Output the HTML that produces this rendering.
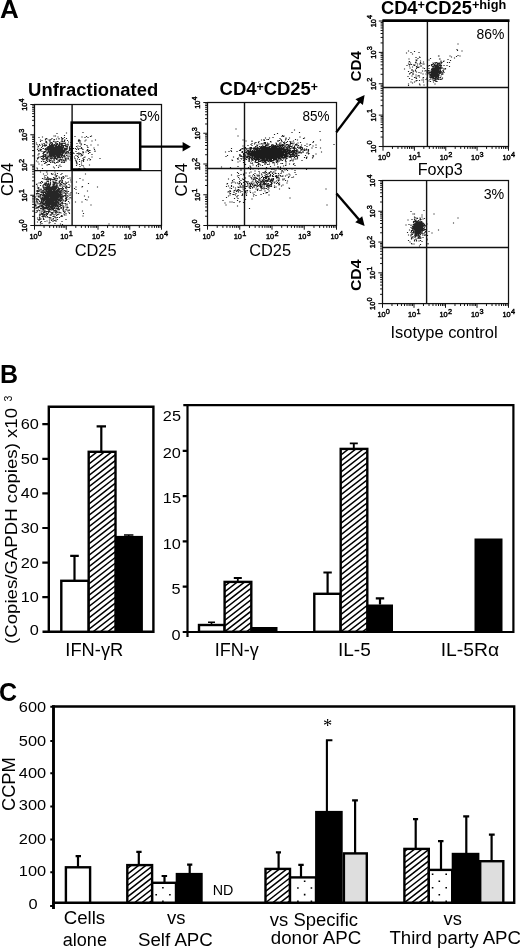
<!DOCTYPE html>
<html lang="en"><head><meta charset="utf-8"><title>Figure</title>
<style>html,body{margin:0;padding:0;background:#fff;overflow:hidden}svg{display:block}text{font-family:'Liberation Sans', 'DejaVu Sans', sans-serif;fill:#000}</style></head><body>
<svg width="520" height="949" viewBox="0 0 520 949">
<rect width="520" height="949" fill="#fff"/>
<text x="0" y="17.9" font-size="26" font-weight="bold">A</text>
<text x="0" y="382.7" font-size="25" font-weight="bold">B</text>
<text x="-1" y="700.5" font-size="25" font-weight="bold">C</text>
<path d="M55.42 152.5h1.15M55.42 150.5h1.15M52.42 151h1.15M60.42 152h1.15M60.42 151.5h1.15M57.92 151.5h1.15M49.92 154.5h1.15M58.42 152.5h1.15M49.42 147h1.15M52.92 150.5h1.15M57.42 151h1.15M58.42 149h1.15M57.42 152h1.15M53.42 156h1.15M58.42 154.5h1.15M53.92 149.5h1.15M54.92 151h1.15M58.92 151.5h1.15M54.42 148.5h1.15M54.42 155h1.15M52.92 152h1.15M57.92 147h1.15M56.42 155h1.15M48.42 151h1.15M55.92 149h1.15M57.92 151h1.15M50.42 154h1.15M58.92 153.5h1.15M61.92 151.5h1.15M56.92 147.5h1.15M58.42 149h1.15M54.42 148h1.15M52.42 150h1.15M61.42 145h1.15M50.42 152.5h1.15M61.92 152h1.15M48.92 145h1.15M57.42 149h1.15M51.92 154.5h1.15M60.42 151h1.15M57.42 152.5h1.15M62.42 152h1.15M58.42 152.5h1.15M49.92 155.5h1.15M59.92 152.5h1.15M48.42 150.5h1.15M59.42 146h1.15M55.42 154h1.15M50.92 156h1.15M58.42 150.5h1.15M57.42 153h1.15M56.92 154.5h1.15M53.42 150.5h1.15M60.42 151h1.15M52.92 154h1.15M61.92 149.5h1.15M50.92 151.5h1.15M55.42 150.5h1.15M61.92 148h1.15M60.92 147h1.15M52.92 153.5h1.15M60.42 153h1.15M57.42 151.5h1.15M56.92 152.5h1.15M55.42 152h1.15M58.42 151h1.15M59.42 152.5h1.15M63.92 151.5h1.15M54.42 150.5h1.15M55.92 154h1.15M54.92 152.5h1.15M63.42 143.5h1.15M51.92 152.5h1.15M57.92 151.5h1.15M54.42 153h1.15M57.42 149.5h1.15M65.92 151h1.15M53.92 151h1.15M55.42 151h1.15M45.42 151h1.15M59.92 147.5h1.15M55.92 154h1.15M59.42 155h1.15M49.42 151h1.15M54.92 153h1.15M60.42 143.5h1.15M60.42 146.5h1.15M58.92 147h1.15M56.92 154.5h1.15M55.42 152h1.15M59.42 151.5h1.15M55.92 155.5h1.15M60.42 150h1.15M66.92 147h1.15M59.92 150h1.15M56.92 153h1.15M56.92 153h1.15M50.42 147.5h1.15M58.42 148.5h1.15M52.42 147.5h1.15M60.92 152.5h1.15M61.92 148h1.15M56.42 148h1.15M59.42 155.5h1.15M52.92 156h1.15M59.92 150.5h1.15M48.42 156h1.15M55.92 149.5h1.15M57.92 152h1.15M61.92 147.5h1.15M60.42 155h1.15M61.92 150h1.15M53.42 154.5h1.15M56.42 151.5h1.15M61.92 150h1.15M47.42 151h1.15M48.92 154h1.15M57.42 149.5h1.15M56.42 153.5h1.15M56.42 155h1.15M55.92 154h1.15M61.92 155h1.15M53.42 154h1.15M48.92 149h1.15M48.42 155h1.15M51.42 151.5h1.15M55.42 151h1.15M53.92 152h1.15M63.42 150.5h1.15M58.42 153.5h1.15M55.42 148h1.15M53.92 154.5h1.15M49.92 150h1.15M59.92 153h1.15M56.42 153.5h1.15M56.92 148h1.15M49.92 150h1.15M59.92 149h1.15M52.92 149.5h1.15M50.42 151.5h1.15M51.42 152.5h1.15M46.92 153h1.15M53.92 146h1.15M58.92 150h1.15M47.42 149.5h1.15M57.42 150h1.15M59.42 153h1.15M58.92 152h1.15M61.42 152.5h1.15M57.92 145h1.15M59.92 154.5h1.15M54.92 150h1.15M63.92 145.5h1.15M57.92 157.5h1.15M52.42 153.5h1.15M63.42 150h1.15M58.42 153.5h1.15M52.92 151.5h1.15M57.42 153.5h1.15M55.92 150.5h1.15M52.42 150.5h1.15M59.92 151h1.15M52.92 149h1.15M66.42 153h1.15M58.92 144h1.15M58.42 152.5h1.15M62.92 151.5h1.15M55.92 152.5h1.15M48.42 155h1.15M57.42 149h1.15M61.42 155.5h1.15M50.92 150h1.15M57.42 151.5h1.15M54.42 148.5h1.15M64.42 153h1.15M51.42 148h1.15M62.92 153h1.15M63.42 152.5h1.15M52.92 152.5h1.15M47.92 150h1.15M55.92 152.5h1.15M53.42 151h1.15M57.92 152h1.15M58.92 151.5h1.15M54.92 153.5h1.15M56.42 149h1.15M53.92 151.5h1.15M55.92 151.5h1.15M56.42 151.5h1.15M55.92 148h1.15M57.92 154h1.15M57.92 150.5h1.15M57.92 148.5h1.15M48.92 152h1.15M52.42 153.5h1.15M51.92 144.5h1.15M51.92 156h1.15M54.92 147.5h1.15M53.42 153h1.15M57.92 151.5h1.15M61.92 152.5h1.15M55.92 153h1.15M62.92 153h1.15M60.42 148h1.15M55.42 153.5h1.15M54.92 154.5h1.15M58.42 153.5h1.15M55.42 158.5h1.15M60.92 150h1.15M56.42 158.5h1.15M54.92 154h1.15M59.92 151h1.15M51.42 152h1.15M57.42 154h1.15M59.42 151h1.15M59.42 152.5h1.15M56.92 151.5h1.15M55.42 153h1.15M51.92 150h1.15M56.42 147h1.15M54.42 146h1.15M53.42 153h1.15M58.42 151h1.15M55.42 147.5h1.15M63.42 152h1.15M60.42 148.5h1.15M55.42 146h1.15M59.42 153.5h1.15M48.92 152h1.15M58.92 146h1.15M48.92 149h1.15M53.92 147.5h1.15M56.42 152h1.15M58.92 153h1.15M61.92 154h1.15M50.92 150.5h1.15M51.92 148.5h1.15M55.92 151h1.15M57.92 146.5h1.15M51.42 151.5h1.15M55.42 150.5h1.15M55.92 149h1.15M58.92 152h1.15M55.92 149.5h1.15M55.42 143.5h1.15M52.42 151.5h1.15M50.42 152.5h1.15M56.92 147.5h1.15M55.42 150.5h1.15M57.92 152.5h1.15M55.92 149h1.15M55.42 151h1.15M58.92 151.5h1.15M53.42 148h1.15M54.92 149.5h1.15M51.92 151.5h1.15M54.42 151.5h1.15M58.42 150h1.15M65.42 149.5h1.15M60.42 151h1.15M60.42 144h1.15M53.42 152h1.15M58.42 157.5h1.15M57.42 154.5h1.15M59.42 153.5h1.15M58.42 150.5h1.15M58.42 148h1.15M60.92 148h1.15M57.42 157h1.15M55.42 151.5h1.15M60.92 151h1.15M52.92 152.5h1.15M58.42 153h1.15M53.42 156.5h1.15M62.92 150.5h1.15M57.42 150h1.15M61.92 148.5h1.15M58.92 149.5h1.15M53.42 153.5h1.15M61.42 150.5h1.15M53.42 153.5h1.15M55.92 152h1.15M61.92 153.5h1.15M54.42 157.5h1.15M56.42 153.5h1.15M53.92 151.5h1.15M49.42 157h1.15M61.42 147.5h1.15M50.42 147.5h1.15M60.92 149.5h1.15M55.92 150.5h1.15M55.92 148h1.15M56.42 147h1.15M55.92 152h1.15M57.92 150.5h1.15M52.92 152h1.15M54.42 155.5h1.15M59.42 150.5h1.15M54.42 149.5h1.15M52.42 150.5h1.15M57.42 152.5h1.15M58.42 157h1.15M53.42 151.5h1.15M66.92 145h1.15M54.42 152h1.15M56.92 152.5h1.15M55.42 152.5h1.15M56.42 153.5h1.15M48.92 149.5h1.15M56.42 148.5h1.15M51.92 153.5h1.15M53.92 153h1.15M58.92 151.5h1.15M58.42 150.5h1.15M50.92 151.5h1.15M57.92 149.5h1.15M55.92 153.5h1.15M52.92 153.5h1.15M63.42 149h1.15M56.92 150.5h1.15M62.42 151.5h1.15M59.92 149h1.15M55.92 151h1.15M49.42 156h1.15M59.92 146h1.15M58.92 150.5h1.15M57.92 152h1.15M50.42 151h1.15M61.92 149h1.15M52.42 148h1.15M51.42 152.5h1.15M62.92 151.5h1.15M57.42 157.5h1.15M54.42 149.5h1.15M58.42 152.5h1.15M52.42 148.5h1.15M57.42 152h1.15M50.92 151h1.15M53.92 152.5h1.15M55.92 151h1.15M54.92 154.5h1.15M61.42 149.5h1.15M59.42 148.5h1.15M56.42 153h1.15M61.92 149.5h1.15M55.92 152h1.15M50.42 152h1.15M53.42 152.5h1.15M51.92 146h1.15M56.42 152h1.15M53.92 154h1.15M54.92 149.5h1.15M57.92 146.5h1.15M53.42 151.5h1.15M59.42 150.5h1.15M57.42 149.5h1.15M57.42 155.5h1.15M53.42 158h1.15M53.92 151.5h1.15M56.92 154h1.15M51.42 146h1.15M58.42 153h1.15M58.42 158h1.15M56.92 152h1.15M59.92 152h1.15M62.92 147h1.15M54.92 142h1.15M59.42 150h1.15M59.92 157h1.15M56.42 150.5h1.15M54.42 149h1.15M53.92 153h1.15M56.42 151.5h1.15M55.42 154h1.15M57.92 150.5h1.15M58.92 150.5h1.15M51.92 155.5h1.15M57.92 148.5h1.15M60.42 151.5h1.15M49.92 156.5h1.15M57.42 153.5h1.15M56.92 150.5h1.15M50.42 154.5h1.15M56.42 150.5h1.15M57.42 151.5h1.15M58.92 150h1.15M55.92 145.5h1.15M54.42 153h1.15M61.42 149.5h1.15M55.92 155.5h1.15M54.92 153.5h1.15M62.92 150.5h1.15M60.92 148.5h1.15M56.92 151h1.15M56.42 154.5h1.15M65.42 148.5h1.15M53.92 153h1.15M51.92 153h1.15M58.42 150h1.15M58.42 146.5h1.15M59.42 146.5h1.15M53.42 150h1.15M54.42 153.5h1.15M56.42 150h1.15M58.42 155.5h1.15M56.42 152h1.15M60.92 151.5h1.15M51.42 158.5h1.15M64.92 145h1.15M55.92 152.5h1.15M59.92 152.5h1.15M54.92 148.5h1.15M56.42 154h1.15M51.92 149h1.15M55.92 146h1.15M55.42 150h1.15M57.92 149h1.15M52.92 150.5h1.15M55.92 149.5h1.15M56.42 153.5h1.15M60.92 155.5h1.15M52.92 150.5h1.15M46.42 157.5h1.15M53.42 151.5h1.15M58.42 147h1.15M57.92 151h1.15M48.92 153h1.15M60.92 145.5h1.15M59.42 151.5h1.15M57.92 152h1.15M61.42 150h1.15M59.42 149.5h1.15M58.92 148.5h1.15M55.92 156h1.15M57.92 150.5h1.15M51.92 149.5h1.15M56.92 153.5h1.15M57.92 152.5h1.15M55.92 155h1.15M54.92 150h1.15M59.92 151h1.15M54.92 149.5h1.15M55.42 153h1.15M57.42 147.5h1.15M57.92 151.5h1.15M52.42 154h1.15M54.92 150.5h1.15M59.42 154.5h1.15M53.42 152.5h1.15M52.92 158h1.15M54.42 154.5h1.15M53.92 153.5h1.15M64.92 143h1.15M54.42 153h1.15M55.92 149.5h1.15M64.42 150.5h1.15M49.92 154.5h1.15M49.42 155h1.15M53.92 152h1.15M60.92 151h1.15M50.92 147h1.15M60.92 153h1.15M52.92 154h1.15M57.92 153h1.15M47.42 151.5h1.15M59.92 153h1.15M59.42 144h1.15M56.92 152.5h1.15M66.42 147.5h1.15M54.92 151.5h1.15M59.92 149.5h1.15M60.92 148.5h1.15M57.42 149.5h1.15M56.92 149h1.15M49.92 155h1.15M57.42 149.5h1.15M56.92 154h1.15M52.42 151.5h1.15M58.42 152.5h1.15M54.92 145.5h1.15M60.92 151.5h1.15M56.42 150.5h1.15M57.42 150h1.15M52.42 149.5h1.15M53.92 150h1.15M51.92 153.5h1.15M50.92 153.5h1.15M52.42 152.5h1.15M61.42 151h1.15M53.42 151.5h1.15M56.92 146.5h1.15M53.92 152h1.15M54.42 151.5h1.15M58.92 153h1.15M59.92 152.5h1.15M54.92 151.5h1.15M54.92 150.5h1.15M55.42 146.5h1.15M54.92 151.5h1.15M52.42 151.5h1.15M58.42 150.5h1.15M64.42 143h1.15M55.42 146h1.15M59.92 158h1.15M46.42 152.5h1.15M58.42 150h1.15M58.42 145h1.15M59.42 152h1.15M56.42 149.5h1.15M58.92 149.5h1.15M56.92 149.5h1.15M47.42 152h1.15M56.92 153h1.15M52.92 151.5h1.15M58.42 151.5h1.15M60.92 156h1.15M52.92 146.5h1.15M59.42 155h1.15M59.92 153h1.15M53.92 149.5h1.15M59.92 148.5h1.15M48.92 149h1.15M65.92 155.5h1.15M53.42 149.5h1.15M56.92 149h1.15M61.42 150.5h1.15M51.92 155.5h1.15M53.92 152h1.15M56.42 150.5h1.15M57.42 149h1.15M48.92 146h1.15M51.42 149.5h1.15M55.92 151.5h1.15M58.42 151.5h1.15M52.92 149.5h1.15M47.92 151.5h1.15M57.92 152.5h1.15M55.92 151h1.15M59.92 151h1.15M58.92 152.5h1.15M56.92 154.5h1.15M53.92 150.5h1.15M52.92 149.5h1.15M62.42 155.5h1.15M56.42 153h1.15M60.92 153h1.15M60.92 147h1.15M53.92 152.5h1.15M61.92 151h1.15M52.92 150.5h1.15M53.42 149h1.15M61.92 149h1.15M56.42 157h1.15M60.92 151.5h1.15M53.92 152.5h1.15M62.42 152h1.15M60.92 151h1.15M58.42 150.5h1.15M57.92 154.5h1.15M50.42 151.5h1.15M56.42 147.5h1.15M51.42 157h1.15M57.42 141.5h1.15M53.92 144.5h1.15M53.92 144.5h1.15M54.92 154.5h1.15M54.92 153.5h1.15M46.92 161.5h1.15M48.42 140h1.15M52.92 146.5h1.15M45.42 150h1.15M56.92 143.5h1.15M53.42 161h1.15M60.42 150h1.15M55.42 150.5h1.15M53.92 156.5h1.15M53.42 136h1.15M54.42 146h1.15M60.42 147h1.15M55.92 165.5h1.15M44.92 145h1.15M41.92 137h1.15M37.42 155h1.15M48.92 140h1.15M40.92 156.5h1.15M47.42 149.5h1.15M57.42 160h1.15M55.92 152.5h1.15M51.42 154.5h1.15M56.92 151.5h1.15M49.92 143h1.15M49.42 142h1.15M65.42 154h1.15M43.42 161.5h1.15M62.42 138.5h1.15M59.42 154h1.15M56.42 152.5h1.15M63.92 141h1.15M43.42 143.5h1.15M49.42 148h1.15M57.92 153h1.15M54.92 147h1.15M50.42 158h1.15M61.42 151.5h1.15M51.42 162h1.15M48.92 156h1.15M64.92 149h1.15M61.92 143.5h1.15M63.42 152h1.15M39.92 157h1.15M46.42 160.5h1.15M48.42 151h1.15M56.92 149h1.15M56.92 148h1.15M60.42 151h1.15M56.42 133.5h1.15M64.92 151h1.15M38.42 153.5h1.15M58.42 158h1.15M44.92 162h1.15M52.92 167h1.15M52.92 156h1.15M50.92 144.5h1.15M64.42 156.5h1.15M68.42 156h1.15M49.42 141h1.15M48.42 147.5h1.15M46.92 156h1.15M57.42 149.5h1.15M55.92 150.5h1.15M56.42 156h1.15M62.92 146.5h1.15M40.92 161.5h1.15M55.42 158.5h1.15M39.42 150.5h1.15M54.42 142h1.15M49.92 156.5h1.15M63.92 161h1.15M46.42 143h1.15M58.92 157h1.15M55.92 143h1.15M61.42 156h1.15M59.42 148h1.15M56.92 156.5h1.15M49.42 140h1.15M57.42 154.5h1.15M54.42 157h1.15M48.92 151.5h1.15M51.92 155.5h1.15M68.92 149h1.15M61.42 155h1.15M70.42 149h1.15M53.42 144.5h1.15M58.92 160h1.15M59.42 154h1.15M52.42 152.5h1.15M41.42 159h1.15M50.92 144.5h1.15M47.42 146.5h1.15M61.92 158h1.15M42.42 158.5h1.15M62.42 147h1.15M40.92 147.5h1.15M48.92 154h1.15M51.42 138.5h1.15M56.42 141.5h1.15M62.42 143h1.15M48.42 146.5h1.15M49.42 160h1.15M61.92 155h1.15M57.42 141.5h1.15M49.92 148.5h1.15M45.42 155.5h1.15M47.92 147.5h1.15M44.92 139h1.15M59.92 159.5h1.15M55.92 145h1.15M65.42 152.5h1.15M62.92 160.5h1.15M64.42 148h1.15M63.92 156h1.15M40.42 150h1.15M41.42 151.5h1.15M59.42 144h1.15M35.92 161h1.15M57.92 161h1.15M42.42 159h1.15M52.42 153.5h1.15M52.92 158h1.15M63.92 151.5h1.15M42.42 157h1.15M50.42 156h1.15M56.92 162h1.15M64.42 148h1.15M57.42 162.5h1.15M49.42 154.5h1.15M64.92 159h1.15M58.92 142.5h1.15M42.92 154h1.15M57.92 167.5h1.15M46.42 159.5h1.15M61.42 140h1.15M46.92 153h1.15M49.92 151h1.15M58.42 146h1.15M58.42 147h1.15M49.42 155.5h1.15M49.42 153.5h1.15M68.92 150.5h1.15M52.92 156.5h1.15M50.92 158.5h1.15M42.92 156.5h1.15M49.92 146.5h1.15M70.42 145h1.15M70.42 154.5h1.15M67.42 144h1.15M65.42 160h1.15M53.42 150.5h1.15M50.42 147.5h1.15M58.42 153.5h1.15M55.92 162.5h1.15M51.42 155h1.15M67.42 144h1.15M63.92 162.5h1.15M42.42 145.5h1.15M44.92 140h1.15M58.42 139h1.15M58.92 160.5h1.15M39.92 150.5h1.15M36.92 158h1.15M47.92 150.5h1.15M54.92 155h1.15M51.42 152h1.15M49.42 152.5h1.15M43.92 152.5h1.15M36.92 149.5h1.15M42.92 154h1.15M45.42 141.5h1.15M47.92 156.5h1.15M57.92 150.5h1.15M45.92 145h1.15M66.42 152h1.15M45.92 138.5h1.15M41.92 168.5h1.15M43.92 151.5h1.15M56.42 150.5h1.15M51.92 143h1.15M44.92 163h1.15M47.42 157.5h1.15M39.42 151h1.15M56.92 158h1.15M44.42 156h1.15M57.92 146.5h1.15M58.92 145.5h1.15M47.42 152h1.15M45.42 142.5h1.15M50.42 156.5h1.15M50.92 160h1.15M43.92 144h1.15M68.42 153h1.15M62.92 145.5h1.15M61.42 152.5h1.15M60.42 151h1.15M65.42 146.5h1.15M45.92 142.5h1.15M64.92 146h1.15M44.92 146h1.15M50.42 143.5h1.15M51.92 147.5h1.15M49.42 145.5h1.15M54.92 148.5h1.15M55.42 153h1.15M57.42 137h1.15M49.42 146.5h1.15M61.42 141h1.15M47.92 150h1.15M51.42 158h1.15M50.42 158h1.15M41.42 140.5h1.15M65.42 153.5h1.15M58.92 152h1.15M58.92 143.5h1.15M62.92 147.5h1.15M63.42 151.5h1.15M36.42 144.5h1.15M64.42 150h1.15M50.92 153.5h1.15M50.42 148.5h1.15M55.42 152.5h1.15M67.92 151h1.15M69.92 157h1.15M55.42 152.5h1.15M52.92 147h1.15M53.92 147.5h1.15M69.42 154h1.15M50.42 139.5h1.15M53.92 149h1.15M44.42 145h1.15M53.92 168h1.15M53.92 150.5h1.15M67.42 151.5h1.15M55.92 149h1.15M48.92 161.5h1.15M63.42 162h1.15M51.42 152h1.15M46.42 158.5h1.15M41.92 156h1.15M64.42 160h1.15M45.92 159h1.15M47.92 147h1.15M42.42 160h1.15M69.42 146.5h1.15M47.42 150h1.15M49.42 140h1.15M48.42 159.5h1.15M48.42 148.5h1.15M37.42 158.5h1.15M44.42 159h1.15M38.92 144.5h1.15M56.92 146.5h1.15M61.42 151h1.15M43.92 156.5h1.15M61.92 138.5h1.15M61.42 139h1.15M47.92 149.5h1.15M63.92 141.5h1.15M46.42 139h1.15M52.42 154h1.15M39.42 149h1.15M58.92 161.5h1.15M60.42 149h1.15M43.92 146h1.15M48.42 153h1.15M53.92 162.5h1.15M56.92 144.5h1.15M68.42 156.5h1.15M55.42 147h1.15M37.42 146h1.15M62.42 145.5h1.15M42.42 153.5h1.15M56.42 155.5h1.15M60.42 160h1.15M46.92 158.5h1.15M45.42 156.5h1.15M55.92 153h1.15M62.92 151h1.15M64.42 156.5h1.15M55.42 147.5h1.15M47.42 148.5h1.15M52.42 151.5h1.15M61.42 145.5h1.15M47.92 150h1.15M55.92 144.5h1.15M68.92 147h1.15M63.92 135.5h1.15M54.42 153.5h1.15M55.92 155.5h1.15M56.92 152.5h1.15M37.42 148h1.15M57.42 150h1.15M46.92 148.5h1.15M53.92 160h1.15M39.92 140h1.15M49.92 146h1.15M49.42 153h1.15M54.92 153.5h1.15M53.92 157.5h1.15M70.42 142.5h1.15M55.92 149.5h1.15M57.42 141.5h1.15M38.42 137.5h1.15M58.92 152.5h1.15M54.92 136h1.15M50.92 147h1.15M41.92 146.5h1.15M60.92 154.5h1.15M54.42 155h1.15M48.92 152.5h1.15M54.92 155h1.15M53.92 150.5h1.15M53.42 147.5h1.15M58.42 166h1.15M66.92 140.5h1.15M60.92 156.5h1.15M61.42 143.5h1.15M46.42 154h1.15M58.92 144.5h1.15M50.92 149h1.15M54.92 153.5h1.15M51.92 143.5h1.15M65.42 161h1.15M53.42 158h1.15M58.42 155.5h1.15M58.92 146.5h1.15M59.42 157.5h1.15M46.42 165h1.15M51.42 148h1.15M46.92 153h1.15M53.92 156h1.15M36.42 168h1.15M60.42 154h1.15M56.92 150h1.15M53.42 146h1.15M55.92 151h1.15M57.42 146h1.15M54.92 152h1.15M59.92 144h1.15M58.42 157.5h1.15M59.92 148.5h1.15M49.92 150.5h1.15M60.92 161h1.15M52.92 147.5h1.15M57.92 152.5h1.15M46.42 147.5h1.15M53.42 156h1.15M43.92 145.5h1.15M58.92 143.5h1.15M55.42 153.5h1.15M53.42 145h1.15M53.92 149.5h1.15M57.42 146h1.15M64.42 140h1.15M52.92 151.5h1.15M62.92 147h1.15M59.42 147.5h1.15M60.92 162.5h1.15M50.92 154.5h1.15M45.92 158.5h1.15M65.42 151h1.15M44.42 155h1.15M64.92 158h1.15M61.92 139h1.15M48.42 161h1.15M43.42 159.5h1.15M64.42 148.5h1.15M43.42 151.5h1.15M52.42 151.5h1.15M60.92 150h1.15M55.92 154h1.15M54.42 163.5h1.15M58.42 152h1.15M52.42 147.5h1.15M66.42 151.5h1.15M44.92 148.5h1.15M53.42 148.5h1.15M64.42 143.5h1.15M58.92 152h1.15M43.92 152.5h1.15M53.42 155h1.15M50.42 154h1.15M39.42 145.5h1.15M61.42 157.5h1.15M54.42 147.5h1.15M63.92 137.5h1.15M47.42 156.5h1.15M60.42 144.5h1.15M37.42 162h1.15M55.92 145.5h1.15M54.92 157.5h1.15M60.92 137.5h1.15M61.42 139.5h1.15M64.92 153.5h1.15M54.42 158.5h1.15M48.42 147.5h1.15M50.92 151.5h1.15M44.92 155.5h1.15M59.42 151.5h1.15M69.92 148.5h1.15M66.42 147h1.15M61.42 138.5h1.15M56.42 150h1.15M49.92 148h1.15M51.42 147h1.15M49.42 148.5h1.15M44.92 151.5h1.15M61.42 149.5h1.15M49.92 160.5h1.15M63.42 157h1.15M64.92 148.5h1.15M53.42 159h1.15M49.42 151h1.15M57.92 153.5h1.15M51.92 158h1.15M52.92 156.5h1.15M63.92 155h1.15M60.92 143.5h1.15M42.42 148.5h1.15M58.92 161h1.15M43.42 154.5h1.15M46.92 147.5h1.15M51.92 156h1.15M56.42 159h1.15M45.42 158h1.15M62.92 151.5h1.15M58.92 147.5h1.15M44.42 149.5h1.15M49.92 162.5h1.15M56.42 153.5h1.15M60.92 146h1.15M62.42 153.5h1.15M40.92 156.5h1.15M59.42 154h1.15M68.92 148h1.15M58.92 156h1.15M46.42 160h1.15M41.42 144h1.15M58.92 144h1.15M53.42 141h1.15M54.92 144h1.15M57.42 141.5h1.15M58.42 149.5h1.15M54.92 151h1.15M55.42 143h1.15M45.92 149h1.15M58.42 138.5h1.15M47.42 148h1.15M44.92 154.5h1.15M52.92 146.5h1.15M45.42 157.5h1.15M48.42 155.5h1.15M58.42 139h1.15M44.42 152h1.15M57.42 156.5h1.15M61.42 157.5h1.15M50.92 150.5h1.15M61.42 148h1.15M63.92 140.5h1.15M60.42 150h1.15M36.92 159h1.15M57.42 151.5h1.15M44.92 149h1.15M67.92 145h1.15M43.42 151.5h1.15M50.92 146h1.15M46.92 159h1.15M41.42 165h1.15M49.42 145h1.15M61.42 154.5h1.15M44.92 157h1.15M37.92 146.5h1.15M64.42 149h1.15M42.92 155.5h1.15M62.92 151h1.15M37.92 150.5h1.15M58.42 156h1.15M49.92 151.5h1.15M65.42 144.5h1.15M65.92 133h1.15M61.42 146.5h1.15M58.42 155.5h1.15M43.92 151.5h1.15M56.42 155h1.15M45.92 145.5h1.15M36.92 169h1.15M52.92 150h1.15M40.92 158.5h1.15M49.42 161h1.15M61.92 151h1.15M60.92 144h1.15M51.42 148h1.15M42.92 152.5h1.15M52.92 161h1.15M45.92 149h1.15M58.42 154h1.15M54.92 148.5h1.15M58.92 153.5h1.15M37.92 151h1.15M41.92 145h1.15M55.92 152h1.15M55.42 146h1.15M52.42 145.5h1.15M57.92 155.5h1.15M70.42 158.5h1.15M47.42 149h1.15M45.92 154h1.15M42.92 155.5h1.15M54.42 153.5h1.15M46.92 165h1.15M57.42 146h1.15M35.92 143h1.15M54.92 158h1.15M52.92 147h1.15M47.92 164.5h1.15M38.42 154h1.15M54.42 155.5h1.15M50.92 155h1.15M61.92 150h1.15M50.42 150.5h1.15M45.92 151h1.15M51.92 153h1.15M66.42 159h1.15M50.42 155.5h1.15M56.92 156h1.15M54.42 153h1.15M50.42 146.5h1.15M62.42 159.5h1.15M60.42 154h1.15M56.92 148.5h1.15M38.42 157h1.15M56.42 148h1.15M45.92 160.5h1.15M38.42 164h1.15M60.42 166.5h1.15M47.92 152h1.15M49.92 153h1.15M52.42 147h1.15M63.92 145.5h1.15M49.92 155.5h1.15M49.42 149h1.15M57.42 149h1.15M43.42 151.5h1.15M52.42 162.5h1.15M44.42 158.5h1.15M47.42 149.5h1.15M51.42 153.5h1.15M62.42 162.5h1.15M48.92 160.5h1.15M63.42 156h1.15M47.42 158h1.15M53.42 154h1.15M51.92 156h1.15M64.42 158h1.15M52.42 158h1.15M67.42 144.5h1.15M67.92 142h1.15M59.42 155h1.15M67.92 152.5h1.15M49.92 146.5h1.15M42.92 157.5h1.15M52.42 147h1.15M59.42 146h1.15M50.42 149h1.15M69.42 160h1.15M52.92 141.5h1.15M56.92 152h1.15M57.42 155h1.15M51.42 157.5h1.15M61.92 152.5h1.15M50.92 148.5h1.15M60.42 144h1.15M52.92 147h1.15M41.92 156.5h1.15M54.42 151.5h1.15M62.42 141.5h1.15M53.92 153.5h1.15M61.92 144h1.15M60.92 152.5h1.15M66.42 158h1.15M59.42 165h1.15M54.42 149h1.15M51.42 145.5h1.15M53.92 139.5h1.15M53.42 154.5h1.15M63.42 148.5h1.15M66.92 146.5h1.15M53.42 139.5h1.15M47.42 147h1.15M67.42 154h1.15M44.92 155.5h1.15M58.42 149.5h1.15M54.42 149.5h1.15M49.42 140.5h1.15M53.42 159.5h1.15M66.92 149h1.15M47.92 150.5h1.15M62.42 153h1.15M49.42 154h1.15M52.42 155h1.15M50.92 142.5h1.15M54.92 156.5h1.15M44.92 151.5h1.15M61.92 148.5h1.15M48.92 164.5h1.15M61.92 157.5h1.15M45.92 162.5h1.15M39.92 149.5h1.15M60.92 159.5h1.15M46.42 148h1.15M55.92 139h1.15M59.92 154.5h1.15M50.42 155h1.15M61.42 153h1.15M58.92 160.5h1.15M50.42 153h1.15M49.92 158.5h1.15M50.92 154.5h1.15M55.42 152h1.15M69.42 150h1.15M66.92 156h1.15M65.92 149.5h1.15M62.42 155.5h1.15M48.92 153.5h1.15M53.42 151.5h1.15M65.92 146h1.15M39.92 141.5h1.15M50.42 148h1.15M54.42 155h1.15M69.92 152.5h1.15M58.42 146.5h1.15M59.42 159.5h1.15M65.92 138.5h1.15M61.92 161h1.15M61.42 141.5h1.15M51.92 155.5h1.15M57.92 146h1.15M46.92 158h1.15M42.92 161.5h1.15M54.42 153.5h1.15M42.92 148.5h1.15M60.42 142h1.15M43.92 152.5h1.15M58.42 156h1.15M51.42 150.5h1.15M52.42 148h1.15M56.42 152.5h1.15M48.92 153.5h1.15M54.42 151h1.15M63.92 140h1.15M56.42 144.5h1.15M51.92 161h1.15M44.92 151.5h1.15M49.42 158h1.15M45.92 141.5h1.15M58.92 149h1.15M51.42 158.5h1.15M46.92 149.5h1.15M55.92 154h1.15M49.92 158.5h1.15M66.42 148.5h1.15M55.42 149.5h1.15M48.92 144h1.15M50.92 160h1.15M64.42 148.5h1.15M49.92 147.5h1.15M43.92 163.5h1.15M59.92 152h1.15M50.42 145.5h1.15M65.92 155.5h1.15M46.42 158h1.15M44.92 156h1.15M45.92 149.5h1.15M58.92 154h1.15M62.92 145.5h1.15M67.92 159h1.15M54.42 154.5h1.15M47.92 151h1.15M42.92 153h1.15M55.92 159.5h1.15M62.42 156h1.15M51.42 150.5h1.15M51.42 153h1.15M37.92 157.5h1.15M40.92 149.5h1.15M54.42 148.5h1.15M68.92 150h1.15M67.92 158h1.15M49.92 154.5h1.15M65.42 148.5h1.15M55.42 148h1.15M54.92 149.5h1.15M51.42 202.5h1.15M57.42 197.5h1.15M51.92 201.5h1.15M49.42 192h1.15M55.92 192h1.15M55.42 191.5h1.15M59.42 191h1.15M54.92 204.5h1.15M46.42 205.5h1.15M46.92 188.5h1.15M54.42 200.5h1.15M49.92 184h1.15M50.42 195.5h1.15M49.42 196h1.15M42.92 195.5h1.15M59.42 204.5h1.15M49.42 194h1.15M52.92 202.5h1.15M54.42 191h1.15M51.42 198h1.15M57.42 203h1.15M53.42 203.5h1.15M48.92 205.5h1.15M48.92 199.5h1.15M54.92 192h1.15M47.92 188.5h1.15M51.92 197h1.15M49.42 200h1.15M40.92 198.5h1.15M51.42 196h1.15M54.42 206h1.15M48.92 192.5h1.15M47.92 198h1.15M53.42 192.5h1.15M55.42 191.5h1.15M54.92 199h1.15M52.92 208.5h1.15M49.92 196.5h1.15M52.92 201.5h1.15M44.92 199.5h1.15M47.42 201h1.15M57.42 197h1.15M50.42 198.5h1.15M37.42 203h1.15M53.42 198h1.15M48.92 193.5h1.15M49.92 204h1.15M50.42 204.5h1.15M38.92 196h1.15M52.42 197h1.15M43.42 194.5h1.15M56.92 190h1.15M46.42 192h1.15M48.42 201h1.15M53.42 186.5h1.15M57.42 193.5h1.15M48.42 206.5h1.15M50.42 191h1.15M47.92 194h1.15M46.42 196h1.15M54.92 198.5h1.15M44.42 212.5h1.15M46.42 198.5h1.15M50.92 201.5h1.15M49.42 200h1.15M60.42 196.5h1.15M45.92 199.5h1.15M47.42 196h1.15M51.92 199h1.15M49.42 202h1.15M49.92 190.5h1.15M54.92 195h1.15M56.42 193h1.15M53.42 198.5h1.15M38.42 191h1.15M45.92 205.5h1.15M42.42 203h1.15M55.92 199.5h1.15M53.92 194.5h1.15M50.92 198.5h1.15M52.92 201h1.15M49.92 193.5h1.15M48.42 200h1.15M43.42 191.5h1.15M48.92 194.5h1.15M49.92 183.5h1.15M49.42 196h1.15M54.42 186.5h1.15M49.42 200h1.15M53.42 203.5h1.15M55.92 191h1.15M53.92 195h1.15M47.42 206h1.15M47.92 193h1.15M48.92 193h1.15M55.42 199h1.15M57.42 198.5h1.15M47.92 203h1.15M47.92 195h1.15M49.92 197.5h1.15M56.42 193.5h1.15M52.42 197h1.15M44.92 192h1.15M49.92 199.5h1.15M52.42 199.5h1.15M50.92 195h1.15M52.92 192h1.15M44.92 196.5h1.15M44.42 195.5h1.15M47.42 195h1.15M50.92 193h1.15M48.92 188.5h1.15M51.42 192.5h1.15M52.92 182h1.15M47.42 199h1.15M39.42 196.5h1.15M51.42 198h1.15M43.92 199.5h1.15M51.42 192h1.15M54.42 196.5h1.15M50.92 195h1.15M53.42 197.5h1.15M56.42 199h1.15M47.92 196.5h1.15M55.42 195h1.15M52.92 200h1.15M49.92 185h1.15M51.42 198.5h1.15M51.42 193h1.15M56.42 196h1.15M47.92 194h1.15M52.42 191.5h1.15M46.42 208.5h1.15M56.92 202h1.15M57.42 199.5h1.15M42.92 204.5h1.15M56.92 199h1.15M41.92 205h1.15M57.42 194h1.15M51.42 201.5h1.15M50.42 203h1.15M51.42 201h1.15M51.42 189.5h1.15M46.42 214.5h1.15M52.42 204h1.15M56.42 206h1.15M53.42 194h1.15M50.92 187h1.15M49.92 202h1.15M40.92 199.5h1.15M54.92 204h1.15M46.42 194.5h1.15M42.42 193h1.15M53.42 208h1.15M45.42 205h1.15M52.92 194.5h1.15M60.92 182.5h1.15M50.42 198.5h1.15M60.92 205.5h1.15M61.42 197h1.15M55.42 204h1.15M53.42 199h1.15M49.92 195h1.15M45.42 208.5h1.15M48.92 186.5h1.15M51.92 197h1.15M51.92 207h1.15M50.42 196h1.15M47.42 197.5h1.15M48.92 198.5h1.15M65.42 197.5h1.15M46.92 208h1.15M54.92 201h1.15M54.42 201.5h1.15M53.92 204.5h1.15M55.42 204h1.15M48.42 197.5h1.15M47.42 203h1.15M54.92 194.5h1.15M53.42 211h1.15M56.92 190.5h1.15M50.42 200.5h1.15M50.92 199.5h1.15M56.42 198.5h1.15M45.92 201.5h1.15M50.42 198h1.15M48.42 190h1.15M44.92 196h1.15M45.92 183.5h1.15M56.42 190.5h1.15M47.42 200.5h1.15M39.42 205.5h1.15M47.42 201h1.15M48.42 199h1.15M51.42 197h1.15M42.42 190.5h1.15M50.92 205h1.15M48.42 200.5h1.15M51.92 200h1.15M55.42 189h1.15M52.42 196h1.15M49.42 193h1.15M47.42 192h1.15M45.92 211.5h1.15M58.92 196.5h1.15M54.42 191.5h1.15M37.92 189h1.15M51.42 205h1.15M50.92 192h1.15M49.92 192h1.15M44.42 197h1.15M48.92 193h1.15M46.92 193h1.15M51.92 204.5h1.15M49.92 209.5h1.15M43.42 199.5h1.15M45.42 197h1.15M51.42 200h1.15M56.42 193.5h1.15M44.92 197h1.15M52.42 193.5h1.15M54.92 206h1.15M44.42 200h1.15M55.92 186.5h1.15M51.92 196h1.15M44.42 205h1.15M51.92 194.5h1.15M52.92 200.5h1.15M54.42 200h1.15M52.92 191h1.15M48.92 198h1.15M37.92 210h1.15M48.92 192h1.15M42.42 199.5h1.15M50.92 194h1.15M48.92 193h1.15M47.42 197h1.15M47.92 201.5h1.15M50.42 198h1.15M52.92 204h1.15M53.92 198h1.15M49.92 193h1.15M49.42 201h1.15M51.92 195h1.15M44.92 190h1.15M52.42 202.5h1.15M52.42 190h1.15M49.92 198.5h1.15M46.42 199.5h1.15M49.92 193h1.15M44.92 202.5h1.15M52.42 192.5h1.15M46.42 202.5h1.15M53.92 195.5h1.15M58.42 195h1.15M45.92 203.5h1.15M49.92 199h1.15M50.92 192h1.15M45.42 197h1.15M57.42 191h1.15M57.42 197.5h1.15M45.92 199.5h1.15M53.42 192h1.15M40.92 200.5h1.15M45.92 200h1.15M41.92 197.5h1.15M46.92 190h1.15M49.92 198.5h1.15M48.42 191.5h1.15M51.92 188h1.15M53.42 199.5h1.15M58.92 201h1.15M52.42 198.5h1.15M50.92 190h1.15M57.92 199.5h1.15M49.42 191.5h1.15M57.92 199.5h1.15M45.42 201.5h1.15M59.92 196h1.15M52.92 195h1.15M47.92 203.5h1.15M65.42 196.5h1.15M50.42 201.5h1.15M49.42 201.5h1.15M54.92 191.5h1.15M45.92 197.5h1.15M54.92 198.5h1.15M56.92 189.5h1.15M53.42 193.5h1.15M51.42 199h1.15M46.42 196.5h1.15M45.42 199.5h1.15M46.92 195h1.15M51.92 193.5h1.15M56.42 193.5h1.15M54.92 198.5h1.15M45.92 196.5h1.15M46.92 196h1.15M49.42 207h1.15M48.92 206h1.15M52.92 190h1.15M39.92 202h1.15M41.42 202h1.15M55.92 199h1.15M49.92 196h1.15M51.92 195.5h1.15M48.42 195.5h1.15M56.42 193.5h1.15M52.92 191h1.15M47.42 190.5h1.15M49.92 201h1.15M52.42 194.5h1.15M53.92 195h1.15M52.42 198.5h1.15M53.42 184h1.15M44.92 202h1.15M50.42 209h1.15M49.92 194.5h1.15M57.92 199.5h1.15M59.92 199h1.15M49.92 201h1.15M47.42 195.5h1.15M48.42 196.5h1.15M54.42 194.5h1.15M52.42 194.5h1.15M54.92 182h1.15M49.92 198.5h1.15M45.92 203h1.15M51.92 204h1.15M55.42 200h1.15M50.42 191.5h1.15M49.92 195h1.15M51.92 194.5h1.15M64.92 187h1.15M56.42 194h1.15M49.92 202.5h1.15M50.92 191h1.15M52.92 196h1.15M41.42 199.5h1.15M45.92 194h1.15M52.92 198.5h1.15M49.42 209h1.15M52.92 194h1.15M51.92 196.5h1.15M40.92 190h1.15M44.42 209h1.15M49.92 196h1.15M48.42 203h1.15M50.92 206.5h1.15M54.42 205.5h1.15M50.42 199.5h1.15M48.92 196.5h1.15M42.92 195h1.15M46.42 194.5h1.15M56.42 198h1.15M56.42 201h1.15M55.42 202h1.15M47.92 202h1.15M49.42 194.5h1.15M56.42 208h1.15M46.42 207h1.15M54.92 192.5h1.15M52.42 199h1.15M52.42 195h1.15M44.92 198h1.15M54.92 201h1.15M53.92 203h1.15M46.42 197.5h1.15M52.42 202.5h1.15M51.42 200h1.15M51.42 208.5h1.15M40.92 198.5h1.15M62.42 197h1.15M42.42 199h1.15M44.42 194.5h1.15M51.92 206h1.15M52.92 200.5h1.15M55.42 198h1.15M46.92 197h1.15M52.42 195.5h1.15M47.92 196h1.15M43.92 192.5h1.15M50.42 195.5h1.15M50.92 204.5h1.15M52.42 197h1.15M45.42 192h1.15M52.42 192.5h1.15M52.92 191.5h1.15M51.42 197h1.15M55.42 194.5h1.15M49.42 199h1.15M51.42 206h1.15M49.92 194.5h1.15M49.42 200h1.15M51.92 201h1.15M44.42 211h1.15M59.42 196h1.15M45.42 199h1.15M52.92 185.5h1.15M50.92 189.5h1.15M52.92 204.5h1.15M55.92 189h1.15M57.42 201.5h1.15M49.42 200h1.15M57.92 195h1.15M50.92 194.5h1.15M56.42 185.5h1.15M57.42 191.5h1.15M55.42 188.5h1.15M46.42 194.5h1.15M54.92 188.5h1.15M53.92 193.5h1.15M56.42 195h1.15M52.92 196h1.15M59.42 194.5h1.15M50.92 208h1.15M51.42 201h1.15M47.42 198.5h1.15M40.42 199h1.15M47.92 189.5h1.15M44.42 204h1.15M52.92 189h1.15M59.42 192.5h1.15M49.42 199h1.15M45.42 189.5h1.15M47.42 204h1.15M55.42 188.5h1.15M56.42 197h1.15M53.42 197.5h1.15M52.92 192h1.15M46.92 194h1.15M49.42 201h1.15M45.42 206.5h1.15M47.92 194.5h1.15M53.92 199h1.15M49.42 192h1.15M46.42 189.5h1.15M56.42 202.5h1.15M59.42 199h1.15M52.42 201h1.15M55.42 195.5h1.15M52.42 208.5h1.15M42.92 191h1.15M46.42 202h1.15M56.42 195h1.15M53.92 196.5h1.15M52.42 194.5h1.15M50.92 197.5h1.15M55.92 208.5h1.15M42.42 201h1.15M50.92 202.5h1.15M55.92 201h1.15M54.42 192h1.15M42.92 207h1.15M56.42 191.5h1.15M56.92 200h1.15M39.42 203.5h1.15M46.42 204h1.15M47.92 193.5h1.15M43.92 197h1.15M55.42 193h1.15M42.42 209.5h1.15M59.42 200h1.15M48.42 191h1.15M43.42 201h1.15M56.92 191h1.15M50.92 196h1.15M49.92 200h1.15M60.42 193h1.15M54.92 202.5h1.15M49.42 196.5h1.15M44.92 203.5h1.15M48.42 194h1.15M51.42 192.5h1.15M45.92 196.5h1.15M57.92 195.5h1.15M53.42 189.5h1.15M41.92 208h1.15M48.92 189.5h1.15M50.42 200.5h1.15M42.92 193.5h1.15M51.92 192.5h1.15M54.42 202h1.15M52.92 195h1.15M50.92 194h1.15M50.42 199h1.15M49.42 202.5h1.15M62.92 193h1.15M52.42 201.5h1.15M53.92 195.5h1.15M48.92 203h1.15M53.92 199.5h1.15M47.42 201h1.15M54.42 196h1.15M53.92 208.5h1.15M42.42 201.5h1.15M45.42 190.5h1.15M49.92 200.5h1.15M50.92 191h1.15M44.42 195h1.15M50.92 193h1.15M43.92 207.5h1.15M46.92 197h1.15M48.42 194.5h1.15M50.92 195.5h1.15M53.92 190.5h1.15M43.92 208.5h1.15M50.42 201.5h1.15M56.42 199.5h1.15M50.92 189h1.15M43.42 203.5h1.15M53.92 200h1.15M43.42 187h1.15M45.92 191.5h1.15M51.42 192h1.15M58.42 193h1.15M48.42 202h1.15M52.42 192.5h1.15M54.92 207h1.15M45.42 196.5h1.15M45.92 187.5h1.15M53.92 200.5h1.15M55.42 199h1.15M41.42 198h1.15M47.92 191.5h1.15M45.92 202h1.15M49.42 208h1.15M52.92 187h1.15M54.92 203.5h1.15M50.92 191h1.15M58.92 189.5h1.15M50.42 187h1.15M44.92 189h1.15M55.92 203h1.15M48.92 190.5h1.15M50.42 199.5h1.15M43.92 192h1.15M50.42 201h1.15M51.42 199.5h1.15M44.92 184.5h1.15M52.42 192h1.15M50.42 195.5h1.15M52.92 193h1.15M57.92 196.5h1.15M53.42 200.5h1.15M55.92 199h1.15M42.92 195h1.15M59.42 199h1.15M53.42 199.5h1.15M47.92 194h1.15M47.92 204h1.15M52.42 206.5h1.15M53.42 207h1.15M52.92 190.5h1.15M58.92 198h1.15M56.42 198h1.15M49.42 198.5h1.15M45.42 191.5h1.15M46.92 195h1.15M44.42 197.5h1.15M52.42 208h1.15M59.42 196h1.15M54.92 195.5h1.15M52.92 197h1.15M48.42 198h1.15M43.92 200.5h1.15M49.42 191.5h1.15M49.42 200.5h1.15M47.92 200h1.15M53.42 205.5h1.15M45.92 197.5h1.15M53.42 205h1.15M51.92 201h1.15M43.92 195h1.15M58.92 195h1.15M60.92 192h1.15M49.42 189h1.15M53.92 198.5h1.15M60.42 197h1.15M49.92 190h1.15M50.42 202.5h1.15M54.42 203.5h1.15M54.92 196.5h1.15M53.92 198h1.15M44.42 207.5h1.15M52.92 191.5h1.15M52.92 198.5h1.15M55.42 204.5h1.15M36.42 202h1.15M58.42 191.5h1.15M41.92 200h1.15M52.42 199h1.15M45.42 195.5h1.15M51.92 201h1.15M61.42 197.5h1.15M47.92 185h1.15M55.92 196h1.15M50.42 192h1.15M54.42 187h1.15M51.42 198h1.15M52.42 204h1.15M50.42 198h1.15M54.92 188.5h1.15M49.42 198h1.15M55.42 192.5h1.15M54.92 199h1.15M43.92 190h1.15M43.92 199h1.15M51.92 201h1.15M54.92 194h1.15M55.92 201h1.15M52.92 199.5h1.15M44.92 200h1.15M45.92 191.5h1.15M49.42 198h1.15M50.42 195.5h1.15M45.92 199h1.15M47.42 190h1.15M51.42 205h1.15M48.92 191.5h1.15M57.42 206h1.15M49.42 196.5h1.15M51.92 213h1.15M51.42 202.5h1.15M52.92 187h1.15M45.42 191h1.15M52.92 197.5h1.15M59.42 195h1.15M52.42 197.5h1.15M51.42 210h1.15M52.42 205h1.15M56.92 193.5h1.15M54.42 195h1.15M51.42 198h1.15M50.92 194.5h1.15M58.42 195h1.15M54.42 206h1.15M53.92 202.5h1.15M57.42 202.5h1.15M58.92 188.5h1.15M60.42 196.5h1.15M42.42 195h1.15M44.42 198h1.15M43.92 192.5h1.15M52.42 198h1.15M46.92 196.5h1.15M50.42 198h1.15M50.92 196h1.15M54.92 188h1.15M48.42 198.5h1.15M48.92 194.5h1.15M48.92 198.5h1.15M56.92 195.5h1.15M49.42 199.5h1.15M49.92 187h1.15M52.42 195h1.15M48.42 201h1.15M50.92 194h1.15M40.42 189h1.15M50.92 196.5h1.15M52.92 198.5h1.15M48.42 190.5h1.15M45.42 197h1.15M45.42 202h1.15M44.42 188h1.15M49.92 187.5h1.15M58.92 191h1.15M50.92 196h1.15M46.92 188h1.15M41.92 203h1.15M55.92 208.5h1.15M43.92 201h1.15M50.92 202h1.15M48.42 201.5h1.15M55.42 200h1.15M57.92 195.5h1.15M58.42 192.5h1.15M58.92 181.5h1.15M50.92 193h1.15M50.92 203h1.15M54.42 197.5h1.15M58.92 188.5h1.15M46.92 206h1.15M52.42 186h1.15M52.42 190.5h1.15M57.92 202.5h1.15M48.42 204.5h1.15M46.92 203h1.15M53.92 196.5h1.15M43.92 196.5h1.15M39.92 195.5h1.15M41.92 205h1.15M46.42 184.5h1.15M53.92 199h1.15M48.42 209h1.15M54.42 197h1.15M47.92 181.5h1.15M53.42 202.5h1.15M47.92 190h1.15M50.92 188h1.15M50.92 201.5h1.15M57.92 198h1.15M51.92 201.5h1.15M57.42 195h1.15M44.92 193.5h1.15M44.92 193h1.15M50.42 199h1.15M51.42 197.5h1.15M49.42 200h1.15M55.42 201h1.15M57.92 195h1.15M49.92 206.5h1.15M51.92 199.5h1.15M49.42 203h1.15M48.92 192h1.15M50.42 195h1.15M54.92 195h1.15M51.42 196h1.15M52.42 193.5h1.15M56.42 189h1.15M48.92 193.5h1.15M53.92 197h1.15M53.42 195h1.15M47.42 191.5h1.15M49.42 194.5h1.15M52.42 199h1.15M55.42 196h1.15M47.42 192h1.15M51.42 199h1.15M60.42 197h1.15M59.42 206.5h1.15M45.92 204.5h1.15M56.42 204h1.15M50.92 202.5h1.15M48.42 197h1.15M50.92 207h1.15M49.92 202.5h1.15M51.42 193.5h1.15M51.92 201h1.15M47.42 201h1.15M47.42 193h1.15M51.92 196h1.15M46.42 189h1.15M50.92 198.5h1.15M48.92 198.5h1.15M43.42 200.5h1.15M52.92 198.5h1.15M47.92 198h1.15M51.42 203h1.15M52.42 198.5h1.15M47.42 202.5h1.15M56.42 194h1.15M53.92 198.5h1.15M50.92 190.5h1.15M59.42 186h1.15M52.42 195h1.15M56.42 194.5h1.15M50.92 200.5h1.15M52.92 194h1.15M54.42 199h1.15M55.42 194h1.15M50.92 195h1.15M46.92 199h1.15M52.92 205h1.15M49.42 199.5h1.15M56.42 196h1.15M51.42 198h1.15M47.42 192.5h1.15M56.42 197.5h1.15M50.42 190.5h1.15M51.42 203.5h1.15M45.42 193h1.15M56.42 204.5h1.15M58.42 193.5h1.15M53.92 193h1.15M53.42 195h1.15M51.92 204.5h1.15M52.42 196h1.15M51.42 198.5h1.15M48.42 198.5h1.15M53.92 205.5h1.15M40.92 192h1.15M44.92 202.5h1.15M62.42 197h1.15M51.42 203.5h1.15M39.42 197.5h1.15M35.92 200h1.15M48.42 195h1.15M52.42 194h1.15M56.42 196.5h1.15M52.92 211h1.15M48.92 202.5h1.15M46.92 204.5h1.15M55.42 197.5h1.15M55.42 205.5h1.15M57.42 196.5h1.15M50.42 203.5h1.15M43.92 195h1.15M53.42 200h1.15M59.92 206h1.15M52.42 199.5h1.15M44.42 197h1.15M51.92 196h1.15M51.42 200.5h1.15M46.42 194.5h1.15M42.42 204.5h1.15M45.92 188.5h1.15M54.42 195.5h1.15M55.42 195h1.15M60.92 200h1.15M51.42 198h1.15M49.92 202h1.15M60.42 194h1.15M45.92 201h1.15M55.92 188.5h1.15M47.42 192.5h1.15M53.42 199.5h1.15M47.42 191.5h1.15M53.92 186h1.15M53.92 196h1.15M59.92 201.5h1.15M48.42 196h1.15M49.42 193.5h1.15M51.42 202.5h1.15M43.92 197h1.15M57.92 200.5h1.15M46.92 193.5h1.15M46.92 189h1.15M56.42 197h1.15M47.42 190h1.15M48.92 194.5h1.15M58.92 194h1.15M51.42 203h1.15M53.92 196h1.15M40.42 206h1.15M53.92 194.5h1.15M50.42 192h1.15M46.92 190h1.15M53.42 200h1.15M51.92 201.5h1.15M53.42 197.5h1.15M46.92 201h1.15M56.42 200h1.15M56.92 194h1.15M46.42 204.5h1.15M47.92 199h1.15M49.92 197.5h1.15M49.42 194.5h1.15M42.42 208.5h1.15M51.92 187h1.15M46.42 191.5h1.15M47.42 184h1.15M53.42 206h1.15M49.92 201.5h1.15M53.92 190.5h1.15M56.42 187.5h1.15M48.42 195.5h1.15M56.92 197.5h1.15M50.42 193h1.15M51.42 197.5h1.15M54.42 204.5h1.15M54.42 197h1.15M50.42 206h1.15M51.92 197h1.15M59.42 204.5h1.15M53.42 196.5h1.15M47.92 203.5h1.15M48.92 202.5h1.15M47.42 198.5h1.15M52.92 198h1.15M51.92 199h1.15M45.42 192h1.15M50.42 207h1.15M50.42 192.5h1.15M47.92 198h1.15M56.42 193.5h1.15M53.42 198h1.15M49.42 192.5h1.15M50.42 193.5h1.15M53.42 187.5h1.15M56.42 201h1.15M53.42 205h1.15M53.92 188h1.15M50.92 199.5h1.15M47.92 191.5h1.15M52.92 200h1.15M48.92 196h1.15M48.42 194.5h1.15M50.42 203h1.15M43.42 196.5h1.15M58.42 198h1.15M51.42 201.5h1.15M46.42 191.5h1.15M42.92 190.5h1.15M51.92 201.5h1.15M48.92 194h1.15M52.92 200.5h1.15M51.92 187h1.15M48.42 184h1.15M51.92 192.5h1.15M47.92 205.5h1.15M56.92 199h1.15M52.42 198h1.15M48.42 197.5h1.15M59.92 191.5h1.15M47.92 198.5h1.15M54.92 201.5h1.15M46.42 197h1.15M49.92 191h1.15M51.42 194.5h1.15M55.42 199h1.15M47.42 198h1.15M49.42 194h1.15M48.42 203h1.15M48.92 188.5h1.15M47.42 202h1.15M60.92 190.5h1.15M49.42 195.5h1.15M44.42 200h1.15M50.92 199h1.15M61.42 194.5h1.15M54.42 201.5h1.15M47.92 194.5h1.15M58.42 200.5h1.15M51.42 191.5h1.15M54.92 199.5h1.15M61.42 204h1.15M54.92 198.5h1.15M51.42 194.5h1.15M52.42 198.5h1.15M53.92 202.5h1.15M52.42 194h1.15M54.92 205h1.15M46.92 200h1.15M53.42 200h1.15M53.42 196.5h1.15M50.42 206.5h1.15M58.92 189h1.15M38.92 201h1.15M47.92 195h1.15M43.42 200h1.15M50.42 194.5h1.15M54.92 210h1.15M57.92 203h1.15M48.92 201h1.15M50.92 203.5h1.15M53.42 197h1.15M53.42 193h1.15M54.42 205h1.15M49.42 200.5h1.15M36.92 211h1.15M58.92 185h1.15M66.42 197.5h1.15M36.42 184h1.15M58.92 194h1.15M60.92 178.5h1.15M50.42 209.5h1.15M45.42 206.5h1.15M48.42 202.5h1.15M54.42 223.5h1.15M40.42 208.5h1.15M62.92 183.5h1.15M49.42 178.5h1.15M53.92 189h1.15M46.42 189h1.15M53.92 192.5h1.15M43.42 196.5h1.15M54.92 187.5h1.15M60.92 177.5h1.15M54.92 193h1.15M65.42 188.5h1.15M45.42 183h1.15M68.92 203h1.15M41.92 195.5h1.15M42.92 217h1.15M54.92 174h1.15M53.42 208.5h1.15M51.42 203.5h1.15M50.42 200.5h1.15M53.42 189.5h1.15M54.42 199.5h1.15M50.92 190h1.15M42.42 202h1.15M46.92 214.5h1.15M59.42 188.5h1.15M63.42 185h1.15M44.42 221.5h1.15M47.42 196h1.15M36.92 188h1.15M40.92 198h1.15M35.42 212.5h1.15M48.42 191.5h1.15M45.92 207.5h1.15M64.92 191.5h1.15M65.42 215h1.15M62.92 200h1.15M38.42 207.5h1.15M47.92 200.5h1.15M34.92 197h1.15M53.42 187h1.15M53.92 217h1.15M53.42 190h1.15M43.42 204h1.15M46.42 172h1.15M53.92 207.5h1.15M44.42 216h1.15M55.92 211.5h1.15M37.92 199.5h1.15M65.42 219.5h1.15M62.92 196.5h1.15M52.92 190.5h1.15M60.92 188.5h1.15M52.42 174h1.15M38.42 220.5h1.15M51.92 200.5h1.15M69.42 178h1.15M46.92 196h1.15M40.42 183.5h1.15M40.42 207h1.15M50.92 207.5h1.15M41.92 206h1.15M47.42 199.5h1.15M59.42 197.5h1.15M48.42 179h1.15M51.92 207h1.15M45.92 198h1.15M35.92 184.5h1.15M54.92 212.5h1.15M48.92 179h1.15M47.92 180h1.15M48.92 221h1.15M53.92 196h1.15M60.42 192.5h1.15M54.42 200h1.15M55.42 180.5h1.15M57.92 207.5h1.15M43.42 216.5h1.15M51.42 206h1.15M56.42 208h1.15M45.92 192h1.15M54.92 204.5h1.15M56.42 201.5h1.15M46.92 211.5h1.15M55.42 210h1.15M45.42 200h1.15M47.42 195h1.15M52.92 202h1.15M44.42 205.5h1.15M43.92 204h1.15M47.92 187.5h1.15M61.92 216h1.15M50.42 197.5h1.15M59.92 181h1.15M43.92 212.5h1.15M59.42 191h1.15M44.42 203h1.15M38.92 194h1.15M56.92 206.5h1.15M60.92 180h1.15M39.92 190h1.15M39.92 224h1.15M42.92 195.5h1.15M53.42 203h1.15M64.42 183.5h1.15M59.42 198.5h1.15M40.92 201h1.15M38.92 219h1.15M44.92 211h1.15M62.92 189h1.15M43.42 200.5h1.15M41.92 210h1.15M52.92 188.5h1.15M45.42 207.5h1.15M38.42 220h1.15M44.42 196.5h1.15M42.92 218.5h1.15M58.92 212.5h1.15M57.42 198.5h1.15M66.42 204h1.15M55.42 204.5h1.15M57.92 200.5h1.15M49.92 179h1.15M69.92 180h1.15M68.92 210h1.15M45.92 202h1.15M51.42 174.5h1.15M48.42 202h1.15M61.92 182.5h1.15M54.42 198.5h1.15M52.92 199.5h1.15M47.92 182h1.15M55.42 202h1.15M56.42 212h1.15M43.42 204h1.15M51.42 206.5h1.15M49.92 191h1.15M53.42 204h1.15M42.92 215h1.15M61.92 202h1.15M50.42 195.5h1.15M36.42 208h1.15M42.42 193h1.15M60.42 186h1.15M46.92 209h1.15M67.92 187.5h1.15M61.42 189h1.15M54.92 203.5h1.15M41.42 211.5h1.15M67.42 196.5h1.15M53.92 183.5h1.15M67.42 196.5h1.15M39.92 208.5h1.15M38.42 191.5h1.15M45.42 192h1.15M46.42 205.5h1.15M64.42 184h1.15M55.42 176h1.15M64.92 195h1.15M44.92 217h1.15M50.42 214.5h1.15M60.92 216.5h1.15M44.42 199.5h1.15M54.92 195h1.15M64.92 187.5h1.15M60.42 213h1.15M43.42 192.5h1.15M54.92 195.5h1.15M51.92 192.5h1.15M50.92 204h1.15M57.92 188h1.15M50.42 189h1.15M49.92 181h1.15M59.92 205h1.15M50.42 190h1.15M47.42 190.5h1.15M37.42 219.5h1.15M40.92 206.5h1.15M56.92 178.5h1.15M46.92 199.5h1.15M51.42 191.5h1.15M49.92 194.5h1.15M62.42 195.5h1.15M50.92 191.5h1.15M45.92 190h1.15M51.42 220h1.15M61.42 199.5h1.15M66.42 208h1.15M53.42 196h1.15M41.42 202.5h1.15M48.42 179.5h1.15M39.92 222.5h1.15M53.42 203.5h1.15M53.42 192h1.15M55.42 210.5h1.15M48.42 204.5h1.15M60.42 191h1.15M52.92 189h1.15M56.92 193h1.15M61.92 187.5h1.15M66.42 192.5h1.15M43.92 188h1.15M57.42 187h1.15M67.42 211h1.15M55.92 180.5h1.15M51.42 189.5h1.15M34.92 205h1.15M58.92 212.5h1.15M42.92 195h1.15M53.92 203.5h1.15M40.92 202h1.15M50.42 209.5h1.15M36.92 193h1.15M46.92 195h1.15M57.92 189.5h1.15M58.92 209h1.15M59.92 194.5h1.15M43.92 196h1.15M57.42 198.5h1.15M56.42 204h1.15M43.42 188h1.15M64.42 190.5h1.15M36.92 222h1.15M43.92 188h1.15M59.92 183.5h1.15M43.42 211.5h1.15M52.42 198.5h1.15M45.42 196h1.15M46.92 198.5h1.15M58.42 182h1.15M42.92 174h1.15M64.92 195.5h1.15M51.42 197.5h1.15M60.42 200.5h1.15M58.92 195h1.15M50.42 197.5h1.15M37.42 188h1.15M57.42 198h1.15M58.92 217.5h1.15M68.42 212.5h1.15M49.42 222.5h1.15M43.42 198h1.15M60.42 194.5h1.15M50.42 194h1.15M62.92 209h1.15M50.92 205h1.15M42.92 212.5h1.15M63.92 195.5h1.15M48.42 192.5h1.15M49.92 183.5h1.15M39.42 219.5h1.15M51.42 204.5h1.15M54.42 203.5h1.15M37.92 188.5h1.15M56.92 209h1.15M40.92 192.5h1.15M41.92 207h1.15M54.42 198h1.15M45.42 203h1.15M51.92 189h1.15M54.42 189.5h1.15M59.92 204.5h1.15M45.42 206h1.15M51.92 189.5h1.15M43.42 179h1.15M41.42 203.5h1.15M62.42 189h1.15M52.92 202h1.15M58.42 202.5h1.15M62.42 205.5h1.15M44.42 203.5h1.15M51.42 205h1.15M48.92 208.5h1.15M63.42 186.5h1.15M46.42 202h1.15M55.92 199h1.15M58.92 183h1.15M58.42 211h1.15M61.42 202h1.15M49.42 203h1.15M50.92 179h1.15M45.92 198h1.15M46.92 187.5h1.15M49.42 194h1.15M51.92 197.5h1.15M52.92 209.5h1.15M52.42 202.5h1.15M47.92 206.5h1.15M48.42 191h1.15M40.42 210h1.15M46.92 201.5h1.15M61.42 203h1.15M59.92 205h1.15M45.42 199.5h1.15M46.42 186.5h1.15M53.92 188.5h1.15M66.42 187h1.15M46.42 199.5h1.15M46.92 199.5h1.15M45.92 182h1.15M64.92 201.5h1.15M52.92 192.5h1.15M49.92 201.5h1.15M38.92 190h1.15M43.42 214h1.15M41.92 213.5h1.15M50.92 198.5h1.15M63.42 207h1.15M59.92 184h1.15M61.42 216.5h1.15M50.42 192.5h1.15M41.42 211.5h1.15M53.92 197.5h1.15M40.42 219h1.15M59.42 196.5h1.15M64.92 185h1.15M59.42 185h1.15M63.92 193h1.15M62.42 191.5h1.15M54.92 211h1.15M43.42 200h1.15M43.92 209h1.15M45.92 194.5h1.15M49.42 212h1.15M41.92 199h1.15M48.42 192h1.15M44.42 197h1.15M53.42 179.5h1.15M53.42 183.5h1.15M42.92 198.5h1.15M48.92 210h1.15M46.92 177h1.15M36.92 202h1.15M53.92 210.5h1.15M46.42 206.5h1.15M41.92 214.5h1.15M50.92 190h1.15M52.92 218.5h1.15M43.92 184h1.15M42.42 185.5h1.15M50.92 202h1.15M49.92 200.5h1.15M61.92 193h1.15M39.92 172h1.15M53.42 189.5h1.15M49.42 203h1.15M55.42 178.5h1.15M42.92 200h1.15M49.92 212h1.15M46.92 174h1.15M61.92 177h1.15M42.92 204h1.15M53.42 204h1.15M56.42 189h1.15M62.92 176.5h1.15M45.92 202h1.15M52.42 186.5h1.15M65.42 213.5h1.15M42.92 203.5h1.15M45.92 193.5h1.15M60.42 198.5h1.15M50.42 199.5h1.15M40.92 214h1.15M44.42 214.5h1.15M47.42 193h1.15M64.92 198.5h1.15M45.42 192.5h1.15M56.92 219.5h1.15M56.92 192.5h1.15M41.42 191.5h1.15M50.42 201h1.15M45.42 214h1.15M42.92 190.5h1.15M55.92 203h1.15M47.92 210h1.15M38.92 219h1.15M52.42 221.5h1.15M51.92 214h1.15M49.42 200.5h1.15M55.92 176.5h1.15M49.42 219h1.15M59.92 201h1.15M53.42 214.5h1.15M54.42 175h1.15M42.92 195.5h1.15M52.92 192.5h1.15M50.42 218h1.15M59.92 204h1.15M51.42 198.5h1.15M54.92 200.5h1.15M44.92 208h1.15M43.92 198.5h1.15M48.42 184.5h1.15M56.92 196.5h1.15M40.92 198.5h1.15M38.92 217h1.15M55.92 221h1.15M46.42 207h1.15M42.92 189h1.15M50.42 203h1.15M59.92 193.5h1.15M61.42 208h1.15M43.42 197h1.15M43.42 219.5h1.15M46.42 209h1.15M59.42 194h1.15M46.92 202.5h1.15M44.42 184h1.15M42.92 203h1.15M52.92 218.5h1.15M34.92 206h1.15M40.92 213h1.15M57.42 198.5h1.15M64.42 192h1.15M46.92 186h1.15M45.42 200h1.15M57.42 212.5h1.15M48.92 189.5h1.15M48.42 193.5h1.15M47.42 194h1.15M43.42 198.5h1.15M46.92 196.5h1.15M38.92 201.5h1.15M56.42 205h1.15M46.42 185h1.15M39.92 185.5h1.15M45.92 195h1.15M35.42 208h1.15M37.42 191.5h1.15M44.92 208.5h1.15M67.92 191.5h1.15M48.92 193.5h1.15M49.42 196h1.15M50.42 189h1.15M54.42 191.5h1.15M56.42 184.5h1.15M70.42 198h1.15M35.42 208.5h1.15M47.42 185h1.15M55.42 191.5h1.15M57.92 190.5h1.15M59.42 198.5h1.15M54.42 199.5h1.15M48.42 194h1.15M55.42 206h1.15M66.42 182.5h1.15M60.92 196h1.15M53.42 188.5h1.15M65.92 186.5h1.15M50.92 189.5h1.15M68.42 210.5h1.15M39.92 194.5h1.15M54.42 192.5h1.15M48.42 186h1.15M53.42 185h1.15M48.42 217.5h1.15M54.92 189.5h1.15M48.42 187h1.15M52.42 206h1.15M59.92 193.5h1.15M40.92 198.5h1.15M66.42 199.5h1.15M50.92 173.5h1.15M47.42 205h1.15M42.92 215h1.15M46.42 188.5h1.15M46.42 197.5h1.15M60.42 190h1.15M35.42 199h1.15M55.92 215.5h1.15M41.42 216.5h1.15M57.42 202.5h1.15M44.42 188.5h1.15M42.92 210h1.15M53.42 210.5h1.15M67.42 196h1.15M50.92 220.5h1.15M39.92 194.5h1.15M47.92 194h1.15M52.92 188h1.15M61.92 180.5h1.15M44.42 179h1.15M38.92 206.5h1.15M56.92 195h1.15M58.92 204.5h1.15M46.42 198.5h1.15M54.92 221h1.15M47.42 203h1.15M56.42 211.5h1.15M55.42 210h1.15M41.92 196h1.15M52.42 201h1.15M52.92 182.5h1.15M45.42 197h1.15M52.92 188h1.15M50.42 189.5h1.15M39.92 192h1.15M44.42 209h1.15M63.42 203.5h1.15M49.42 192h1.15M37.42 194h1.15M65.42 209.5h1.15M53.42 195h1.15M51.42 203h1.15M51.42 203h1.15M44.42 199.5h1.15M48.42 211h1.15M40.42 214.5h1.15M50.42 192.5h1.15M51.42 199.5h1.15M49.42 203.5h1.15M46.42 179h1.15M57.42 197h1.15M65.92 200.5h1.15M45.42 205.5h1.15M41.92 198.5h1.15M37.42 208h1.15M56.42 185.5h1.15M55.42 208.5h1.15M58.42 189.5h1.15M45.42 186h1.15M39.92 203.5h1.15M51.92 213h1.15M53.92 194h1.15M38.92 217.5h1.15M52.92 197.5h1.15M42.42 187h1.15M56.92 186h1.15M56.42 204.5h1.15M47.92 179.5h1.15M54.92 214h1.15M43.92 184.5h1.15M60.92 198.5h1.15M45.92 213h1.15M48.92 203.5h1.15M47.92 190h1.15M53.42 188h1.15M35.92 194h1.15M62.42 209.5h1.15M65.92 199h1.15M47.42 204h1.15M42.92 208h1.15M47.42 201.5h1.15M43.92 197.5h1.15M59.92 194.5h1.15M45.42 202h1.15M59.42 195h1.15M40.92 181.5h1.15M39.42 212h1.15M50.42 204h1.15M60.92 200h1.15M55.92 191.5h1.15M37.42 207.5h1.15M50.42 205h1.15M41.92 197.5h1.15M69.42 186h1.15M52.42 213h1.15M49.42 200h1.15M47.42 213.5h1.15M50.42 194h1.15M55.42 195h1.15M46.92 216.5h1.15M59.92 198h1.15M58.42 206.5h1.15M56.42 198h1.15M51.92 203h1.15M56.42 201.5h1.15M46.42 198h1.15M55.42 186.5h1.15M51.42 207h1.15M52.92 194.5h1.15M51.42 192.5h1.15M59.92 192.5h1.15M36.92 186h1.15M53.92 200h1.15M47.42 183.5h1.15M49.92 188.5h1.15M45.42 199h1.15M44.42 202.5h1.15M44.92 193.5h1.15M49.42 215h1.15M65.42 207h1.15M44.92 199h1.15M59.42 206.5h1.15M36.92 199.5h1.15M44.92 207.5h1.15M56.92 191.5h1.15M70.42 192.5h1.15M50.92 220h1.15M46.92 193.5h1.15M64.42 196h1.15M55.42 183h1.15M67.42 207.5h1.15M54.42 206h1.15M46.92 193.5h1.15M37.42 204h1.15M62.42 206.5h1.15M59.42 205h1.15M43.42 184.5h1.15M56.92 199.5h1.15M59.92 194h1.15M43.42 204.5h1.15M46.42 180h1.15M45.92 189h1.15M41.42 193h1.15M59.92 224h1.15M66.42 191.5h1.15M61.42 196h1.15M54.92 190h1.15M50.92 179h1.15M67.42 187.5h1.15M56.42 191h1.15M53.92 184.5h1.15M47.92 209h1.15M56.42 175.5h1.15M58.92 182.5h1.15M53.92 204h1.15M45.92 195.5h1.15M49.42 203h1.15M59.42 212.5h1.15M54.42 220.5h1.15M42.92 219.5h1.15M48.92 207h1.15M50.42 199.5h1.15M43.42 203.5h1.15M69.42 197.5h1.15M51.42 198.5h1.15M57.92 195h1.15M51.42 200.5h1.15M62.92 207.5h1.15M41.92 192.5h1.15M51.42 208h1.15M59.92 194.5h1.15M69.92 194h1.15M63.92 212.5h1.15M65.42 198.5h1.15M56.42 180h1.15M35.92 193.5h1.15M57.92 209.5h1.15M50.42 210h1.15M56.42 215h1.15M37.42 190.5h1.15M42.92 187.5h1.15M65.92 186h1.15M43.92 194.5h1.15M59.42 192h1.15M57.92 203.5h1.15M45.92 172h1.15M43.42 185h1.15M65.92 188h1.15M41.92 203.5h1.15M51.92 187.5h1.15M60.92 207.5h1.15M53.92 189.5h1.15M43.92 176h1.15M54.92 202h1.15M43.42 199.5h1.15M36.42 207h1.15M47.42 193h1.15M56.92 196h1.15M60.42 203h1.15M61.42 198h1.15M36.42 212h1.15M53.42 182h1.15M51.92 208h1.15M42.42 200h1.15M44.92 187.5h1.15M45.92 213.5h1.15M57.42 197h1.15M50.92 199.5h1.15M53.92 200h1.15M36.42 210.5h1.15M57.42 183.5h1.15M49.92 197h1.15M46.42 205h1.15M48.92 195.5h1.15M42.92 196h1.15M42.42 200h1.15M62.92 208h1.15M55.42 182h1.15M60.42 207.5h1.15M51.42 194.5h1.15M60.92 184.5h1.15M60.42 174.5h1.15M51.42 213.5h1.15M45.92 205.5h1.15M52.42 181.5h1.15M45.92 211.5h1.15M61.92 190h1.15M61.42 188.5h1.15M53.42 197.5h1.15M40.42 203h1.15M43.92 189.5h1.15M43.92 188h1.15M59.42 198h1.15M53.92 195h1.15M51.92 195h1.15M41.92 182h1.15M51.92 209.5h1.15M53.42 216h1.15M39.42 196.5h1.15M45.92 213h1.15M66.42 190h1.15M57.92 194.5h1.15M42.42 198h1.15M42.42 217h1.15M56.42 211h1.15M58.42 198h1.15M60.42 216.5h1.15M42.42 208.5h1.15M54.42 195.5h1.15M48.92 204.5h1.15M56.42 205h1.15M47.92 183.5h1.15M62.92 211.5h1.15M46.42 198.5h1.15M58.42 177h1.15M53.92 189.5h1.15M69.42 195.5h1.15M53.42 193h1.15M52.92 177.5h1.15M39.92 182.5h1.15M59.42 196h1.15M61.42 173.5h1.15M45.92 215.5h1.15M44.42 177.5h1.15M44.92 195h1.15M51.42 213h1.15M63.42 214h1.15M56.42 191.5h1.15M46.92 181.5h1.15M62.92 211h1.15M52.42 187.5h1.15M57.42 203h1.15M52.92 184.5h1.15M53.42 191.5h1.15M57.92 204h1.15M55.42 192.5h1.15M64.92 205h1.15M62.42 206h1.15M57.42 201.5h1.15M41.92 178.5h1.15M42.92 206h1.15M59.42 199h1.15M52.42 219h1.15M47.92 178h1.15M37.92 196h1.15M57.42 205.5h1.15M49.42 207.5h1.15M50.92 190h1.15M47.92 207h1.15M59.92 184h1.15M42.92 200.5h1.15M70.42 182h1.15M40.42 204.5h1.15M55.92 190.5h1.15M51.42 203.5h1.15M35.92 200h1.15M56.92 208h1.15M61.92 196h1.15M38.92 215h1.15M58.42 190h1.15M60.42 208.5h1.15M47.42 190h1.15M43.92 198h1.15M41.92 203.5h1.15M67.92 182h1.15M60.42 190.5h1.15M56.42 196h1.15M62.92 188.5h1.15M57.92 188.5h1.15M53.42 197.5h1.15M60.92 178.5h1.15M39.42 215.5h1.15M54.92 217h1.15M42.42 201.5h1.15M56.92 217.5h1.15M50.92 193h1.15M57.92 196h1.15M44.92 207.5h1.15M63.42 190.5h1.15M48.42 202.5h1.15M61.42 202.5h1.15M42.92 192.5h1.15M60.42 195.5h1.15M45.92 208.5h1.15M61.42 221.5h1.15M41.92 191h1.15M45.42 203h1.15M47.42 211.5h1.15M45.92 195.5h1.15M56.42 199.5h1.15M42.42 216.5h1.15M56.42 191.5h1.15M53.42 185h1.15M40.42 196h1.15M54.42 198.5h1.15M44.42 183h1.15M36.92 218h1.15M54.42 188.5h1.15M61.92 203h1.15M47.92 191.5h1.15M61.42 200.5h1.15M65.92 200h1.15M46.42 192h1.15M45.42 201.5h1.15M53.42 204.5h1.15M55.42 185.5h1.15M49.42 187.5h1.15M55.42 182.5h1.15M46.42 189h1.15M45.92 196h1.15M64.92 193.5h1.15M38.92 196h1.15M57.92 203.5h1.15M53.42 220.5h1.15M60.92 198h1.15M61.92 181h1.15M49.92 188.5h1.15M52.92 216.5h1.15M46.92 217h1.15M42.42 215.5h1.15M36.42 190.5h1.15M59.92 196h1.15M52.92 197.5h1.15M52.92 195.5h1.15M42.92 196h1.15M52.42 187.5h1.15M55.42 217.5h1.15M36.92 193.5h1.15M48.92 198.5h1.15M52.42 189.5h1.15M50.92 198h1.15M50.42 215.5h1.15M52.42 181h1.15M37.92 206.5h1.15M48.42 191.5h1.15M39.42 196h1.15M50.42 190.5h1.15M48.42 208.5h1.15M58.42 203.5h1.15M49.92 182.5h1.15M58.42 214h1.15M62.42 210h1.15M53.92 202h1.15M51.42 212.5h1.15M48.92 223h1.15M58.42 193.5h1.15M51.42 179.5h1.15M44.92 195.5h1.15M59.42 198h1.15M48.92 205.5h1.15M68.42 199h1.15M50.92 200h1.15M57.42 191.5h1.15M52.42 203.5h1.15M48.42 203h1.15M54.42 206h1.15M42.92 193h1.15M47.92 212h1.15M53.42 179h1.15M40.42 221.5h1.15M54.42 183h1.15M43.42 200.5h1.15M63.92 215h1.15M48.42 195h1.15M68.42 184.5h1.15M64.92 200h1.15M52.42 212.5h1.15M55.42 188h1.15M37.92 200h1.15M55.92 213h1.15M56.92 214.5h1.15M58.42 199.5h1.15M55.42 202h1.15M45.92 197.5h1.15M52.42 192.5h1.15M38.42 183h1.15M55.92 203.5h1.15M52.42 184.5h1.15M58.92 192.5h1.15M55.92 192.5h1.15M64.42 212h1.15M53.92 178h1.15M47.92 195h1.15M55.42 196h1.15M54.42 179h1.15M45.92 215.5h1.15M38.92 210.5h1.15M39.42 214h1.15M35.42 204h1.15M47.92 212.5h1.15M61.92 199h1.15M66.92 207h1.15M47.42 187.5h1.15M54.92 196h1.15M47.42 180h1.15M49.92 197h1.15M59.92 191h1.15M37.92 187.5h1.15M50.92 201h1.15M57.92 193h1.15M55.92 199h1.15M66.42 195.5h1.15M52.92 204.5h1.15M61.92 186h1.15M47.42 195.5h1.15M60.92 197h1.15M68.92 213.5h1.15M59.42 180.5h1.15M64.92 201h1.15M40.92 200h1.15M57.92 208.5h1.15M52.92 192h1.15M57.92 188.5h1.15M50.92 207h1.15M38.92 204h1.15M40.42 198.5h1.15M57.92 196.5h1.15M59.42 198h1.15M49.42 204h1.15M49.42 200h1.15M60.42 190h1.15M61.42 184h1.15M49.42 178.5h1.15M46.92 217h1.15M54.42 212h1.15M38.42 188h1.15M55.42 207h1.15M58.92 178h1.15M55.92 196.5h1.15M52.42 203.5h1.15M48.92 179h1.15M41.92 182.5h1.15M39.92 198h1.15M62.92 188.5h1.15M44.92 185.5h1.15M36.42 201h1.15M47.42 196h1.15M42.92 204.5h1.15M40.92 205.5h1.15M45.42 208h1.15M43.42 204h1.15M55.42 196.5h1.15M65.92 198h1.15M43.42 207h1.15M44.42 192.5h1.15M51.42 200h1.15M66.42 176h1.15M48.92 211.5h1.15M49.92 202h1.15M64.92 182h1.15M51.92 207h1.15M46.42 178.5h1.15M42.92 201.5h1.15M52.92 219h1.15M62.92 178.5h1.15M60.42 207.5h1.15M65.42 194.5h1.15M46.42 200.5h1.15M64.92 203.5h1.15M66.42 205h1.15M46.42 187h1.15M67.42 178.5h1.15M48.42 194.5h1.15M43.42 192.5h1.15M50.92 192h1.15M52.42 208.5h1.15M44.42 194.5h1.15M35.92 208h1.15M57.42 214.5h1.15M58.92 194h1.15M47.92 195h1.15M40.92 208.5h1.15M45.92 190.5h1.15M55.92 198.5h1.15M46.42 196h1.15M46.92 214h1.15M60.42 188.5h1.15M50.92 214h1.15M48.92 219h1.15M55.42 205h1.15M54.42 204.5h1.15M55.42 203.5h1.15M46.92 209h1.15M51.92 186h1.15M42.42 201h1.15M54.42 172h1.15M37.92 197h1.15M45.92 205h1.15M63.92 215h1.15M42.42 213.5h1.15M40.92 203h1.15M52.92 205h1.15M44.42 214.5h1.15M50.92 198h1.15M48.92 186h1.15M57.92 201h1.15M55.42 219h1.15M43.92 195.5h1.15M51.42 208h1.15M49.92 209h1.15M55.42 177h1.15M45.42 175.5h1.15M48.92 193.5h1.15M56.42 199.5h1.15M50.92 212.5h1.15M56.42 183h1.15M45.42 202.5h1.15M66.42 193.5h1.15M49.92 201.5h1.15M58.42 196h1.15M53.92 193h1.15M46.42 189.5h1.15M57.42 191h1.15M56.42 202h1.15M42.92 185h1.15M49.92 207.5h1.15M63.42 201h1.15M47.92 204.5h1.15M51.42 205h1.15M42.42 186.5h1.15M45.92 198.5h1.15M54.42 193.5h1.15M54.42 205.5h1.15M41.42 198h1.15M37.92 193.5h1.15M59.42 188.5h1.15M67.92 201.5h1.15M59.42 198h1.15M58.92 209.5h1.15M52.42 191.5h1.15M46.42 221h1.15M49.92 193h1.15M45.42 179.5h1.15M46.92 202.5h1.15M46.92 190h1.15M54.92 203h1.15M47.42 202h1.15M42.92 209h1.15M42.92 195.5h1.15M52.42 193h1.15M41.42 223.5h1.15M64.92 176h1.15M52.42 183h1.15M53.92 182.5h1.15M56.42 203.5h1.15M66.42 210h1.15M47.42 209.5h1.15M47.42 197h1.15M46.92 178h1.15M56.92 173.5h1.15M49.42 204.5h1.15M52.42 179.5h1.15M45.92 206.5h1.15M60.92 215.5h1.15M35.42 205.5h1.15M47.42 207.5h1.15M36.42 198.5h1.15M57.42 189.5h1.15M48.42 187h1.15M61.42 181.5h1.15M43.42 195h1.15M48.42 223h1.15M53.92 188h1.15M56.42 201.5h1.15M53.92 197h1.15M55.42 184h1.15M40.92 194.5h1.15M41.92 207.5h1.15M68.42 210h1.15M55.42 201.5h1.15M45.42 183.5h1.15M56.42 180h1.15M53.92 196h1.15M57.92 197.5h1.15M52.42 191h1.15M36.42 196h1.15M57.42 209.5h1.15M63.42 185h1.15M43.42 207.5h1.15M54.42 180h1.15M46.42 217h1.15M35.42 202h1.15M39.42 218h1.15M47.42 186.5h1.15M36.42 191.5h1.15M48.92 185h1.15M54.42 192h1.15M43.92 215h1.15M55.42 187h1.15M64.42 195.5h1.15M55.92 199h1.15M61.92 204h1.15M48.42 207h1.15M47.92 200h1.15M65.92 183.5h1.15M42.42 194.5h1.15M46.92 213.5h1.15M65.42 191h1.15M52.92 193.5h1.15M57.42 205h1.15M57.92 206h1.15M68.42 194h1.15M57.42 195h1.15M51.92 200.5h1.15M50.92 202h1.15M43.92 197h1.15M45.92 185h1.15M45.42 193h1.15M49.92 180h1.15M48.92 185h1.15M44.42 201h1.15M61.42 200h1.15M46.92 193.5h1.15M63.42 177.5h1.15M61.42 179h1.15M45.92 199.5h1.15M49.42 217.5h1.15M55.92 197h1.15M59.92 197.5h1.15M44.42 212h1.15M64.42 211h1.15M40.92 221.5h1.15M47.92 207.5h1.15M61.92 224.5h1.15M37.42 188h1.15M61.92 202.5h1.15M55.42 195.5h1.15M51.42 200.5h1.15M57.92 194h1.15M43.42 195h1.15M68.92 187.5h1.15M50.92 220h1.15M60.92 198h1.15M57.92 194h1.15M43.42 210.5h1.15M52.42 216.5h1.15M48.92 194h1.15M54.42 195.5h1.15M48.92 188h1.15M81.42 155.5h1.15M93.92 149.5h1.15M97.42 145h1.15M72.92 153h1.15M77.92 140.5h1.15M83.92 144.5h1.15M84.42 168.5h1.15M89.42 152.5h1.15M75.42 151.5h1.15M86.92 147h1.15M82.92 160.5h1.15M82.92 152.5h1.15M78.42 148.5h1.15M78.92 169h1.15M89.92 136.5h1.15M79.92 153.5h1.15M79.92 141h1.15M78.42 154.5h1.15M73.92 157h1.15M80.42 156h1.15M77.92 149.5h1.15M80.92 162h1.15M86.42 150.5h1.15M75.92 163h1.15M83.42 159.5h1.15M77.42 146h1.15M80.92 147.5h1.15M88.42 158.5h1.15M89.92 159.5h1.15M75.92 146.5h1.15M86.92 160h1.15M79.92 143h1.15M72.92 148.5h1.15M82.92 161.5h1.15M89.42 150.5h1.15M76.92 159h1.15M79.42 166.5h1.15M87.42 151h1.15M87.42 147.5h1.15M81.42 160.5h1.15M82.42 152h1.15M76.42 163h1.15M78.92 140.5h1.15M90.42 145h1.15M82.42 152.5h1.15M87.92 153.5h1.15M88.92 152.5h1.15M75.92 149.5h1.15M84.42 144.5h1.15M86.92 149.5h1.15M78.42 168.5h1.15M85.42 152h1.15M77.42 153.5h1.15M75.92 165.5h1.15M80.92 148.5h1.15M80.92 144h1.15M94.92 140h1.15M78.42 139.5h1.15M80.92 154.5h1.15M85.42 140h1.15M74.92 148.5h1.15M77.92 153h1.15M75.42 161h1.15M99.42 158.5h1.15M91.42 141h1.15M87.92 151.5h1.15M89.42 160h1.15M84.42 137.5h1.15M80.42 148.5h1.15M82.92 152.5h1.15M87.42 137.5h1.15M73.42 153.5h1.15M81.92 149h1.15M79.42 153.5h1.15M87.42 150h1.15M81.42 137h1.15M82.42 132.5h1.15M82.42 151.5h1.15M79.42 146.5h1.15M75.92 161h1.15M82.42 152h1.15M75.42 155.5h1.15M88.92 150.5h1.15M76.42 143.5h1.15M80.42 145h1.15M74.42 136.5h1.15M73.92 170h1.15M78.42 141.5h1.15M82.42 154h1.15M77.92 157.5h1.15M91.42 154.5h1.15M77.92 141h1.15M82.92 166h1.15M84.42 141h1.15M80.92 164h1.15M74.42 158.5h1.15M88.92 165h1.15M82.42 158.5h1.15M76.42 153.5h1.15M76.42 164h1.15M79.42 153.5h1.15M93.42 148h1.15M81.92 155.5h1.15M81.42 165.5h1.15M80.42 154h1.15M78.42 153h1.15M78.92 161.5h1.15M79.42 153.5h1.15M78.92 159.5h1.15M75.92 162h1.15M74.92 160h1.15M94.42 151.5h1.15M78.92 143h1.15M85.42 152h1.15M86.42 145.5h1.15M83.42 168h1.15M82.42 149.5h1.15M84.42 157h1.15M77.42 156h1.15M94.42 151.5h1.15M90.92 136h1.15M91.42 157h1.15M82.92 159.5h1.15M84.42 168.5h1.15M85.92 136.5h1.15M78.92 164.5h1.15M76.92 148h1.15M76.92 156.5h1.15M80.92 147.5h1.15M83.42 157.5h1.15M75.92 182h1.15M81.42 187h1.15M77.92 193.5h1.15M81.42 202h1.15M86.42 200h1.15M87.92 183.5h1.15M84.92 199.5h1.15M75.42 187h1.15M83.92 196h1.15M73.92 188.5h1.15M90.42 205h1.15M81.92 211h1.15M75.92 193h1.15M86.92 191h1.15M74.92 202h1.15M82.42 180h1.15M79.42 178.5h1.15M96.92 187h1.15M81.92 186.5h1.15M75.42 189.5h1.15M82.42 216h1.15M82.92 213.5h1.15M71.42 167.5h1.15M87.92 197h1.15M108.42 224h1.15M94.42 151h1.15M84.92 174h1.15M104.92 169.5h1.15" stroke="#262626" stroke-width="1.15" fill="none"/>
<rect x="34.5" y="104.5" width="127" height="121" fill="none" stroke="#111" stroke-width="1.25"/>
<path d="M72.1 104.5V225.5M34.5 170.6H161.5" stroke="#111" stroke-width="1.4" fill="none"/>
<path d="M34.5 225.5v4.2M34.5 225.5h-4.2M44.06 225.5v2.4M34.5 216.39h-2.4M49.65 225.5v2.4M34.5 211.07h-2.4M53.62 225.5v2.4M34.5 207.29h-2.4M56.69 225.5v2.4M34.5 204.36h-2.4M59.21 225.5v2.4M34.5 201.96h-2.4M61.33 225.5v2.4M34.5 199.94h-2.4M63.17 225.5v2.4M34.5 198.18h-2.4M64.8 225.5v2.4M34.5 196.63h-2.4M66.25 225.5v4.2M34.5 195.25h-4.2M75.81 225.5v2.4M34.5 186.14h-2.4M81.4 225.5v2.4M34.5 180.82h-2.4M85.37 225.5v2.4M34.5 177.04h-2.4M88.44 225.5v2.4M34.5 174.11h-2.4M90.96 225.5v2.4M34.5 171.71h-2.4M93.08 225.5v2.4M34.5 169.69h-2.4M94.92 225.5v2.4M34.5 167.93h-2.4M96.55 225.5v2.4M34.5 166.38h-2.4M98 225.5v4.2M34.5 165h-4.2M107.56 225.5v2.4M34.5 155.89h-2.4M113.15 225.5v2.4M34.5 150.57h-2.4M117.12 225.5v2.4M34.5 146.79h-2.4M120.19 225.5v2.4M34.5 143.86h-2.4M122.71 225.5v2.4M34.5 141.46h-2.4M124.83 225.5v2.4M34.5 139.44h-2.4M126.67 225.5v2.4M34.5 137.68h-2.4M128.3 225.5v2.4M34.5 136.13h-2.4M129.75 225.5v4.2M34.5 134.75h-4.2M139.31 225.5v2.4M34.5 125.64h-2.4M144.9 225.5v2.4M34.5 120.32h-2.4M148.87 225.5v2.4M34.5 116.54h-2.4M151.94 225.5v2.4M34.5 113.61h-2.4M154.46 225.5v2.4M34.5 111.21h-2.4M156.58 225.5v2.4M34.5 109.19h-2.4M158.42 225.5v2.4M34.5 107.43h-2.4M160.05 225.5v2.4M34.5 105.88h-2.4M161.5 225.5v4.2M34.5 104.5h-4.2" stroke="#111" stroke-width="1" fill="none"/>
<text x="29.4" y="239.1" font-size="8" stroke="#000" stroke-width="0.45" textLength="12.5" lengthAdjust="spacingAndGlyphs">10<tspan dy="-3.6" dx="0.3">0</tspan></text>
<text x="27.5" y="231.8" font-size="8" stroke="#000" stroke-width="0.45" textLength="12.5" lengthAdjust="spacingAndGlyphs" transform="rotate(-90 27.5 231.8)">10<tspan dy="-3.6" dx="0.3">0</tspan></text>
<text x="60.25" y="239.1" font-size="8" stroke="#000" stroke-width="0.45" textLength="12.5" lengthAdjust="spacingAndGlyphs">10<tspan dy="-3.6" dx="0.3">1</tspan></text>
<text x="27.5" y="201.55" font-size="8" stroke="#000" stroke-width="0.45" textLength="12.5" lengthAdjust="spacingAndGlyphs" transform="rotate(-90 27.5 201.55)">10<tspan dy="-3.6" dx="0.3">1</tspan></text>
<text x="92" y="239.1" font-size="8" stroke="#000" stroke-width="0.45" textLength="12.5" lengthAdjust="spacingAndGlyphs">10<tspan dy="-3.6" dx="0.3">2</tspan></text>
<text x="27.5" y="171.3" font-size="8" stroke="#000" stroke-width="0.45" textLength="12.5" lengthAdjust="spacingAndGlyphs" transform="rotate(-90 27.5 171.3)">10<tspan dy="-3.6" dx="0.3">2</tspan></text>
<text x="123.75" y="239.1" font-size="8" stroke="#000" stroke-width="0.45" textLength="12.5" lengthAdjust="spacingAndGlyphs">10<tspan dy="-3.6" dx="0.3">3</tspan></text>
<text x="27.5" y="141.05" font-size="8" stroke="#000" stroke-width="0.45" textLength="12.5" lengthAdjust="spacingAndGlyphs" transform="rotate(-90 27.5 141.05)">10<tspan dy="-3.6" dx="0.3">3</tspan></text>
<text x="155.5" y="239.1" font-size="8" stroke="#000" stroke-width="0.45" textLength="12.5" lengthAdjust="spacingAndGlyphs">10<tspan dy="-3.6" dx="0.3">4</tspan></text>
<text x="27.5" y="110.8" font-size="8" stroke="#000" stroke-width="0.45" textLength="12.5" lengthAdjust="spacingAndGlyphs" transform="rotate(-90 27.5 110.8)">10<tspan dy="-3.6" dx="0.3">4</tspan></text>
<rect x="71.7" y="122.6" width="68.5" height="46.9" fill="none" stroke="#000" stroke-width="2.5"/>
<path d="M140.5 146.7L183.6 146.7" stroke="#000" stroke-width="2.3" fill="none"/>
<path d="M190.9 146.7L182.6 151.4L182.6 142Z" fill="#000"/>
<text x="28.09" y="95.5" font-size="18" font-weight="bold" textLength="130.13" lengthAdjust="spacingAndGlyphs">Unfractionated</text>
<text x="139.44" y="120.8" font-size="13.8" textLength="20.26" lengthAdjust="spacingAndGlyphs">5%</text>
<text x="12.7" y="196.03" font-size="16.5" textLength="33.26" lengthAdjust="spacingAndGlyphs" transform="rotate(-90 12.7 196.03)">CD4</text>
<text x="74.68" y="255.8" font-size="16" textLength="41.9" lengthAdjust="spacingAndGlyphs">CD25</text>
<path d="M266.43 154h1.15M258.43 154.5h1.15M266.43 154.5h1.15M264.93 153.5h1.15M271.93 156h1.15M262.43 156.5h1.15M259.93 153h1.15M268.93 153.5h1.15M248.43 151h1.15M266.43 156h1.15M262.43 158h1.15M253.93 154h1.15M271.93 153h1.15M269.93 156h1.15M261.43 155h1.15M275.93 152h1.15M249.93 150.5h1.15M260.93 150h1.15M270.93 150.5h1.15M286.93 154h1.15M257.43 152.5h1.15M279.43 155h1.15M259.93 156.5h1.15M263.93 160h1.15M263.43 155h1.15M271.93 151.5h1.15M266.43 157h1.15M271.43 153h1.15M270.93 158.5h1.15M274.93 154.5h1.15M270.43 148.5h1.15M268.93 151.5h1.15M273.43 151h1.15M271.43 150h1.15M274.43 150.5h1.15M267.43 155h1.15M265.43 153.5h1.15M275.93 158.5h1.15M253.93 151h1.15M272.93 156h1.15M263.93 153.5h1.15M266.43 160h1.15M266.43 149.5h1.15M255.93 150h1.15M277.93 151.5h1.15M282.93 154.5h1.15M270.93 155h1.15M273.93 156h1.15M260.43 152h1.15M263.43 153.5h1.15M265.93 149.5h1.15M262.43 159h1.15M283.93 150h1.15M270.43 153h1.15M261.43 155.5h1.15M267.43 158.5h1.15M271.43 152h1.15M247.43 153.5h1.15M274.43 151h1.15M274.43 155h1.15M253.93 153h1.15M270.43 155.5h1.15M268.93 153h1.15M264.93 152.5h1.15M267.93 150h1.15M272.43 152h1.15M271.93 151.5h1.15M270.93 153.5h1.15M274.43 154.5h1.15M274.93 152.5h1.15M267.43 152.5h1.15M257.93 153h1.15M275.93 155h1.15M260.93 154.5h1.15M273.43 149h1.15M270.43 154h1.15M273.43 154h1.15M254.43 147.5h1.15M282.93 151.5h1.15M277.43 156.5h1.15M268.43 149.5h1.15M278.43 152.5h1.15M271.93 154.5h1.15M274.93 156h1.15M256.93 149.5h1.15M268.93 153h1.15M273.93 152.5h1.15M266.43 159.5h1.15M278.43 156.5h1.15M275.93 150.5h1.15M266.93 153h1.15M259.43 151h1.15M268.93 149.5h1.15M271.93 154.5h1.15M265.93 152h1.15M272.43 154.5h1.15M270.43 149.5h1.15M255.43 160h1.15M262.93 152.5h1.15M253.43 151.5h1.15M261.93 156h1.15M247.43 150h1.15M264.43 152h1.15M261.93 152h1.15M255.43 154.5h1.15M276.93 153.5h1.15M263.43 157h1.15M271.43 150h1.15M263.43 151.5h1.15M267.43 157h1.15M262.43 153h1.15M268.43 149.5h1.15M263.93 155h1.15M276.43 147h1.15M273.43 152h1.15M277.43 154.5h1.15M282.93 153.5h1.15M264.93 151h1.15M256.93 155.5h1.15M271.93 155.5h1.15M270.43 148.5h1.15M264.43 152.5h1.15M268.93 155.5h1.15M278.43 153.5h1.15M251.93 150.5h1.15M251.43 151.5h1.15M258.43 154.5h1.15M265.93 156.5h1.15M275.93 151.5h1.15M274.93 153h1.15M271.43 157h1.15M258.93 153.5h1.15M279.43 150.5h1.15M269.43 153.5h1.15M264.43 149.5h1.15M262.43 150.5h1.15M275.93 153.5h1.15M272.93 149.5h1.15M271.43 153.5h1.15M275.93 150.5h1.15M273.93 157h1.15M281.43 150h1.15M258.93 149h1.15M274.93 154.5h1.15M270.43 150.5h1.15M277.43 157.5h1.15M267.43 153h1.15M276.93 154.5h1.15M277.93 151.5h1.15M270.43 152h1.15M263.43 152.5h1.15M265.43 155h1.15M265.43 153.5h1.15M261.43 149.5h1.15M278.93 150h1.15M281.93 155.5h1.15M249.93 152h1.15M264.43 153.5h1.15M266.43 151.5h1.15M277.43 152.5h1.15M274.93 151h1.15M262.43 157.5h1.15M265.43 150h1.15M266.43 156.5h1.15M266.43 151h1.15M272.43 156h1.15M265.93 152.5h1.15M264.93 161.5h1.15M266.43 158.5h1.15M266.43 154.5h1.15M251.93 154.5h1.15M267.93 152h1.15M264.43 149h1.15M256.43 154h1.15M262.93 153h1.15M266.43 151.5h1.15M261.93 159h1.15M259.43 152h1.15M265.43 150h1.15M260.43 156h1.15M274.93 153.5h1.15M292.93 154.5h1.15M277.43 150.5h1.15M275.93 158h1.15M264.93 159h1.15M261.43 150h1.15M267.43 151h1.15M272.43 149.5h1.15M268.43 147.5h1.15M267.43 156.5h1.15M265.93 154h1.15M275.93 149.5h1.15M257.93 154h1.15M269.93 152.5h1.15M260.43 157h1.15M258.93 153h1.15M267.43 155.5h1.15M264.43 151h1.15M283.43 150h1.15M273.93 152.5h1.15M263.93 153h1.15M265.93 154h1.15M247.93 154h1.15M268.43 150.5h1.15M264.93 160.5h1.15M281.93 154.5h1.15M269.43 152h1.15M278.43 151.5h1.15M261.43 155.5h1.15M260.43 151h1.15M278.93 148h1.15M267.43 153.5h1.15M269.93 148.5h1.15M265.93 152.5h1.15M282.43 155.5h1.15M261.93 156h1.15M272.93 152.5h1.15M265.93 152.5h1.15M255.93 152h1.15M274.93 157.5h1.15M281.93 151.5h1.15M272.43 146h1.15M265.93 149.5h1.15M273.93 148h1.15M259.93 150h1.15M270.93 155.5h1.15M260.93 159h1.15M268.93 150.5h1.15M270.43 153h1.15M273.93 154h1.15M284.43 156h1.15M262.93 156h1.15M273.43 150h1.15M261.93 151h1.15M248.93 156h1.15M265.93 157h1.15M263.43 153.5h1.15M273.43 156h1.15M270.43 150h1.15M284.93 155h1.15M278.43 157.5h1.15M278.43 154h1.15M271.43 155h1.15M256.43 156h1.15M260.43 155h1.15M259.93 155.5h1.15M263.93 161h1.15M269.43 154.5h1.15M260.93 152.5h1.15M267.43 152.5h1.15M264.43 150.5h1.15M273.43 152h1.15M261.43 154.5h1.15M261.43 153h1.15M263.93 150.5h1.15M265.93 151h1.15M257.93 154.5h1.15M265.43 149h1.15M264.93 154h1.15M270.93 154h1.15M269.93 155h1.15M263.93 151h1.15M272.43 152h1.15M267.93 155h1.15M274.93 156.5h1.15M262.43 152.5h1.15M271.93 148.5h1.15M257.93 155.5h1.15M262.93 150.5h1.15M273.93 154.5h1.15M274.93 152h1.15M265.43 152.5h1.15M269.93 147h1.15M262.43 155.5h1.15M261.93 153h1.15M268.93 154.5h1.15M263.93 150h1.15M286.93 150.5h1.15M280.93 147.5h1.15M268.43 152.5h1.15M282.43 158.5h1.15M275.43 150h1.15M261.43 151h1.15M263.93 154h1.15M261.93 152.5h1.15M278.93 157h1.15M253.43 151h1.15M264.93 157h1.15M265.43 159h1.15M270.43 157.5h1.15M261.43 152.5h1.15M275.43 154.5h1.15M253.43 153h1.15M268.93 155h1.15M262.93 158.5h1.15M268.93 157.5h1.15M270.93 153.5h1.15M265.43 150h1.15M274.43 155h1.15M274.93 152h1.15M259.93 152.5h1.15M265.43 153.5h1.15M275.43 150h1.15M263.93 155.5h1.15M274.93 159.5h1.15M271.93 150.5h1.15M259.93 151h1.15M268.43 154h1.15M267.43 151.5h1.15M266.43 153h1.15M272.43 153.5h1.15M261.43 150h1.15M278.93 152.5h1.15M266.43 153h1.15M276.43 152h1.15M268.93 152.5h1.15M272.43 150h1.15M269.43 156h1.15M276.93 154.5h1.15M269.93 158h1.15M273.43 157h1.15M258.43 150.5h1.15M273.93 152h1.15M264.43 150.5h1.15M279.43 149h1.15M268.43 149h1.15M266.43 160h1.15M286.43 151h1.15M259.93 158.5h1.15M261.43 148h1.15M270.43 150h1.15M256.93 157h1.15M262.43 150h1.15M268.93 152.5h1.15M276.43 153h1.15M279.93 156h1.15M281.43 156h1.15M268.43 155h1.15M267.93 148.5h1.15M258.93 156h1.15M249.93 151.5h1.15M257.93 153.5h1.15M259.93 154.5h1.15M266.43 152h1.15M261.43 147h1.15M268.43 149.5h1.15M265.43 154.5h1.15M275.93 155h1.15M278.93 148.5h1.15M272.93 157.5h1.15M270.93 150h1.15M270.93 151.5h1.15M262.93 156.5h1.15M266.43 150h1.15M262.93 159.5h1.15M261.43 155.5h1.15M269.43 156.5h1.15M265.93 150.5h1.15M262.93 150.5h1.15M287.43 153h1.15M265.43 157h1.15M272.93 152.5h1.15M272.43 154h1.15M276.43 158h1.15M265.43 153h1.15M266.43 157h1.15M270.93 155.5h1.15M274.93 151h1.15M268.93 157.5h1.15M274.93 155.5h1.15M265.93 152h1.15M261.43 152.5h1.15M267.43 149h1.15M276.93 150.5h1.15M269.93 155h1.15M263.43 148h1.15M275.43 154h1.15M265.93 156.5h1.15M274.43 150h1.15M267.43 148h1.15M265.93 157.5h1.15M261.43 156h1.15M256.43 153h1.15M274.93 158h1.15M271.43 155.5h1.15M280.93 145.5h1.15M254.93 159.5h1.15M286.43 154h1.15M268.43 154h1.15M267.93 151.5h1.15M267.93 153h1.15M272.93 155h1.15M275.43 154.5h1.15M260.43 157.5h1.15M247.43 154.5h1.15M270.43 151.5h1.15M281.93 149.5h1.15M258.93 152h1.15M270.93 155.5h1.15M268.93 155h1.15M262.43 151.5h1.15M268.93 149h1.15M269.43 152h1.15M272.93 150h1.15M263.93 151.5h1.15M264.93 150.5h1.15M265.93 149.5h1.15M271.93 155h1.15M267.93 152.5h1.15M260.93 150.5h1.15M266.43 150.5h1.15M258.93 154h1.15M267.93 152h1.15M261.93 153.5h1.15M262.43 152h1.15M269.43 155.5h1.15M273.43 151h1.15M276.93 149.5h1.15M266.43 157h1.15M285.93 153h1.15M264.93 152h1.15M258.43 153h1.15M264.43 151h1.15M276.93 150.5h1.15M280.43 155h1.15M272.93 151.5h1.15M263.93 147.5h1.15M269.93 152.5h1.15M270.93 151h1.15M271.43 148.5h1.15M251.43 155.5h1.15M275.93 143.5h1.15M277.43 152h1.15M266.43 148.5h1.15M260.43 155.5h1.15M262.43 153.5h1.15M266.93 159h1.15M274.43 149h1.15M264.43 150h1.15M257.43 151.5h1.15M275.93 153h1.15M272.93 152.5h1.15M264.43 153.5h1.15M267.43 159h1.15M281.43 154h1.15M272.43 147h1.15M266.93 160.5h1.15M261.93 156h1.15M276.93 151.5h1.15M265.93 152h1.15M273.93 153h1.15M278.93 156.5h1.15M267.93 161h1.15M265.43 151.5h1.15M265.93 150.5h1.15M264.43 153h1.15M274.43 148h1.15M257.43 151.5h1.15M265.43 154.5h1.15M261.93 158h1.15M263.93 152.5h1.15M268.43 156.5h1.15M269.93 153h1.15M263.93 154h1.15M270.93 152h1.15M267.43 147.5h1.15M263.93 157h1.15M278.43 152.5h1.15M251.43 159.5h1.15M266.43 161h1.15M264.93 156.5h1.15M263.43 157.5h1.15M276.43 149.5h1.15M277.43 161.5h1.15M265.93 149.5h1.15M269.93 152h1.15M256.43 150.5h1.15M269.43 148.5h1.15M275.93 154h1.15M266.43 157.5h1.15M260.93 155.5h1.15M257.43 152.5h1.15M272.43 151.5h1.15M266.93 155h1.15M279.43 156.5h1.15M271.43 152.5h1.15M256.93 159h1.15M281.93 146h1.15M274.43 153h1.15M272.93 154h1.15M266.43 153h1.15M267.43 156.5h1.15M265.93 151.5h1.15M272.93 155h1.15M270.93 154h1.15M278.93 156h1.15M269.43 152.5h1.15M272.93 147.5h1.15M263.93 151h1.15M268.93 152h1.15M286.43 154.5h1.15M270.93 160h1.15M267.93 152h1.15M276.93 155.5h1.15M274.93 156.5h1.15M264.93 151.5h1.15M262.43 153.5h1.15M275.43 149.5h1.15M263.93 149.5h1.15M282.93 155h1.15M269.43 149.5h1.15M259.93 151.5h1.15M267.93 149.5h1.15M265.93 157h1.15M267.93 153.5h1.15M251.93 153h1.15M266.93 151h1.15M257.43 153.5h1.15M259.93 152h1.15M255.93 153.5h1.15M274.43 150.5h1.15M270.43 148.5h1.15M271.93 154.5h1.15M264.93 156h1.15M261.43 153.5h1.15M280.43 152.5h1.15M259.43 157h1.15M271.93 152h1.15M253.93 148h1.15M256.43 158h1.15M269.93 150.5h1.15M276.43 157.5h1.15M261.43 155h1.15M255.43 155h1.15M281.43 148.5h1.15M268.43 151.5h1.15M266.93 153.5h1.15M269.93 156h1.15M271.43 156h1.15M275.43 156h1.15M262.93 154.5h1.15M264.93 151h1.15M282.43 153.5h1.15M267.93 147h1.15M265.93 155.5h1.15M266.43 151.5h1.15M278.93 152h1.15M265.43 153h1.15M265.93 156.5h1.15M271.93 153h1.15M264.93 152.5h1.15M280.43 152h1.15M272.93 148.5h1.15M270.43 155h1.15M277.43 154h1.15M271.93 154h1.15M275.93 159h1.15M269.43 150.5h1.15M272.43 152.5h1.15M272.43 155.5h1.15M268.93 152h1.15M269.93 149.5h1.15M269.93 150.5h1.15M270.93 153.5h1.15M265.93 149.5h1.15M267.93 151h1.15M266.93 155.5h1.15M274.93 149h1.15M274.93 157h1.15M276.43 153.5h1.15M266.93 158.5h1.15M265.43 148.5h1.15M268.43 154h1.15M259.93 150h1.15M282.43 153h1.15M273.43 151h1.15M256.43 153h1.15M277.93 151h1.15M254.43 153h1.15M265.93 153.5h1.15M259.93 152.5h1.15M263.93 156h1.15M268.93 156h1.15M267.43 147h1.15M253.43 155.5h1.15M274.43 155.5h1.15M267.43 148h1.15M263.93 154.5h1.15M277.93 152h1.15M263.43 151h1.15M275.43 155.5h1.15M254.43 157.5h1.15M260.93 149h1.15M255.93 151.5h1.15M284.93 160h1.15M258.43 151.5h1.15M268.93 154.5h1.15M264.43 148.5h1.15M264.93 151.5h1.15M254.43 154h1.15M256.93 148.5h1.15M278.93 155.5h1.15M278.43 153h1.15M264.93 153h1.15M257.43 156h1.15M269.93 152h1.15M253.93 153.5h1.15M279.93 157h1.15M274.43 152h1.15M268.93 155h1.15M269.43 156.5h1.15M262.93 146.5h1.15M249.93 151h1.15M257.43 155.5h1.15M275.93 153h1.15M271.93 153.5h1.15M268.93 151.5h1.15M264.93 157h1.15M265.93 153h1.15M276.93 156h1.15M264.93 154h1.15M260.43 154h1.15M269.93 153h1.15M268.93 154h1.15M248.93 151.5h1.15M268.43 151.5h1.15M260.43 153h1.15M279.93 152h1.15M262.93 152h1.15M258.93 155h1.15M260.43 156h1.15M274.43 154.5h1.15M275.43 152.5h1.15M254.93 153.5h1.15M272.43 148.5h1.15M258.93 157h1.15M270.93 157h1.15M272.93 153h1.15M270.93 155.5h1.15M267.43 152.5h1.15M269.93 152h1.15M285.93 150h1.15M256.43 150h1.15M275.43 151.5h1.15M268.93 152.5h1.15M269.93 148.5h1.15M268.43 151.5h1.15M275.93 154.5h1.15M258.43 150.5h1.15M271.93 156.5h1.15M273.43 152.5h1.15M275.93 146h1.15M263.93 150.5h1.15M259.93 155h1.15M269.93 154h1.15M266.93 155h1.15M273.93 151h1.15M274.93 150h1.15M280.93 148.5h1.15M265.43 150h1.15M267.93 157h1.15M262.43 159h1.15M278.43 154h1.15M263.43 156h1.15M246.43 151.5h1.15M274.93 153h1.15M286.43 150.5h1.15M257.93 153h1.15M272.43 158h1.15M254.43 154h1.15M277.43 151h1.15M264.43 149.5h1.15M273.43 155.5h1.15M272.43 154h1.15M275.43 152.5h1.15M273.43 155.5h1.15M277.43 154.5h1.15M268.43 155.5h1.15M255.93 148.5h1.15M279.93 153h1.15M259.93 152h1.15M266.93 153.5h1.15M261.93 156.5h1.15M254.93 162h1.15M259.43 158.5h1.15M272.93 148h1.15M258.43 153.5h1.15M269.93 152h1.15M267.93 153.5h1.15M258.93 153.5h1.15M284.93 150.5h1.15M259.93 155.5h1.15M277.93 156h1.15M262.93 153h1.15M269.43 152.5h1.15M270.93 156.5h1.15M271.93 153h1.15M266.43 158.5h1.15M258.43 159.5h1.15M273.43 153h1.15M261.93 159h1.15M276.93 155.5h1.15M283.93 147h1.15M268.43 152h1.15M262.43 153.5h1.15M271.93 154.5h1.15M266.93 149h1.15M271.93 155h1.15M283.93 155.5h1.15M267.93 149.5h1.15M288.43 150.5h1.15M269.43 155.5h1.15M271.93 157h1.15M259.93 151.5h1.15M268.93 149.5h1.15M262.93 157.5h1.15M269.93 153h1.15M263.43 153.5h1.15M267.43 150h1.15M273.93 149h1.15M277.43 152h1.15M250.43 149h1.15M269.93 150.5h1.15M281.93 157h1.15M283.93 155.5h1.15M278.43 151h1.15M277.93 151.5h1.15M267.43 149h1.15M268.43 154.5h1.15M267.43 150h1.15M274.93 155.5h1.15M266.93 155.5h1.15M275.43 150h1.15M267.43 147.5h1.15M259.93 155h1.15M260.93 154.5h1.15M270.43 147h1.15M263.93 158h1.15M267.93 153.5h1.15M262.43 148.5h1.15M255.43 162.5h1.15M266.43 150.5h1.15M268.93 147h1.15M278.43 158h1.15M261.93 154.5h1.15M260.93 156h1.15M261.43 153h1.15M277.93 154.5h1.15M265.43 148.5h1.15M255.43 157.5h1.15M271.93 153h1.15M277.43 153.5h1.15M262.43 153h1.15M266.93 153h1.15M287.43 154h1.15M269.93 152.5h1.15M262.43 150.5h1.15M253.43 152.5h1.15M255.93 148h1.15M260.43 147.5h1.15M278.43 156.5h1.15M260.43 160h1.15M272.93 145h1.15M267.93 150h1.15M254.43 153h1.15M276.93 154h1.15M256.43 151.5h1.15M261.93 157h1.15M266.93 150h1.15M260.93 147.5h1.15M261.43 156h1.15M252.93 154.5h1.15M266.93 155.5h1.15M258.93 156.5h1.15M279.93 160h1.15M254.93 153.5h1.15M265.93 153.5h1.15M259.93 156h1.15M285.93 157h1.15M260.43 151.5h1.15M273.43 153.5h1.15M261.93 157h1.15M271.93 156h1.15M266.43 157h1.15M263.93 150h1.15M267.93 149h1.15M277.43 155h1.15M254.43 154h1.15M274.43 152h1.15M270.93 151.5h1.15M267.43 153h1.15M271.43 150h1.15M258.93 154.5h1.15M263.93 155h1.15M263.93 149.5h1.15M273.43 154h1.15M273.43 152h1.15M264.93 157h1.15M254.43 159h1.15M271.93 153h1.15M268.43 155h1.15M261.93 154.5h1.15M260.43 148h1.15M269.43 153.5h1.15M272.93 154.5h1.15M273.43 155.5h1.15M259.43 157.5h1.15M288.93 150.5h1.15M257.93 155.5h1.15M274.93 156h1.15M279.93 148.5h1.15M270.93 154.5h1.15M277.43 150h1.15M267.93 152h1.15M266.43 153h1.15M266.43 148h1.15M267.43 153.5h1.15M264.93 142.5h1.15M262.43 151.5h1.15M260.93 158.5h1.15M274.93 152.5h1.15M272.43 163h1.15M259.93 155h1.15M262.93 158h1.15M276.43 152.5h1.15M272.43 150.5h1.15M255.43 156.5h1.15M280.43 151.5h1.15M263.43 148h1.15M284.43 149h1.15M259.93 153h1.15M277.43 153h1.15M267.43 153.5h1.15M274.43 153h1.15M268.93 153h1.15M258.93 157.5h1.15M262.43 149.5h1.15M264.43 153.5h1.15M274.43 148.5h1.15M257.93 154h1.15M270.93 149.5h1.15M258.93 154h1.15M266.43 148h1.15M260.93 158h1.15M259.43 157h1.15M255.93 158.5h1.15M280.43 150.5h1.15M262.43 155.5h1.15M257.93 155.5h1.15M277.43 153.5h1.15M270.43 152.5h1.15M275.43 150.5h1.15M280.43 152.5h1.15M265.43 148h1.15M264.43 154h1.15M277.43 148h1.15M266.93 151h1.15M258.43 153.5h1.15M261.93 156h1.15M246.43 156.5h1.15M252.93 148h1.15M271.93 152h1.15M268.93 150h1.15M259.43 151h1.15M267.43 150.5h1.15M264.43 150.5h1.15M269.43 149.5h1.15M251.43 145.5h1.15M267.43 153.5h1.15M275.43 150.5h1.15M258.93 149h1.15M273.43 151h1.15M275.43 152.5h1.15M265.43 147.5h1.15M262.43 156h1.15M262.93 155.5h1.15M254.93 157h1.15M289.43 156h1.15M270.43 149.5h1.15M263.43 151.5h1.15M269.43 147h1.15M260.93 156h1.15M268.93 155.5h1.15M274.43 149.5h1.15M257.43 155h1.15M267.93 153.5h1.15M261.43 156.5h1.15M271.43 156.5h1.15M264.93 155.5h1.15M267.43 150.5h1.15M266.93 148h1.15M266.43 154h1.15M272.93 149.5h1.15M257.43 151.5h1.15M251.43 152h1.15M288.43 153h1.15M261.93 151.5h1.15M281.43 149h1.15M266.93 153h1.15M261.93 151h1.15M254.43 151h1.15M277.93 157h1.15M265.43 155.5h1.15M271.43 153.5h1.15M266.43 157h1.15M272.43 152.5h1.15M265.93 156h1.15M262.93 151h1.15M265.43 151.5h1.15M277.43 154h1.15M266.93 151.5h1.15M278.93 154h1.15M283.93 155.5h1.15M265.93 151.5h1.15M265.43 154h1.15M273.93 154.5h1.15M279.93 148h1.15M267.93 149h1.15M259.43 151.5h1.15M262.43 150.5h1.15M255.93 157h1.15M265.43 156.5h1.15M258.93 146.5h1.15M262.93 156h1.15M263.43 154.5h1.15M259.43 158h1.15M270.93 156.5h1.15M265.43 157h1.15M268.43 151.5h1.15M262.93 153.5h1.15M260.43 150h1.15M268.93 155.5h1.15M265.43 156h1.15M279.93 149h1.15M269.93 150h1.15M262.93 154h1.15M248.93 156h1.15M274.43 154.5h1.15M272.93 158.5h1.15M264.93 156.5h1.15M278.93 154.5h1.15M253.93 153.5h1.15M265.43 148.5h1.15M267.43 155.5h1.15M265.93 152.5h1.15M279.43 151h1.15M260.43 153.5h1.15M276.43 154.5h1.15M268.43 151.5h1.15M277.43 155.5h1.15M253.93 155h1.15M248.93 158.5h1.15M272.43 151h1.15M257.43 152.5h1.15M253.93 155.5h1.15M263.93 148h1.15M267.43 157h1.15M257.93 152.5h1.15M281.93 153h1.15M263.43 154h1.15M273.93 150h1.15M266.93 148h1.15M255.43 149h1.15M274.43 154h1.15M273.43 156.5h1.15M267.93 154h1.15M270.93 154.5h1.15M259.43 152.5h1.15M266.43 153.5h1.15M261.93 153h1.15M269.93 153.5h1.15M272.43 155.5h1.15M271.93 156h1.15M274.43 157h1.15M272.43 151h1.15M285.93 156h1.15M277.43 155h1.15M267.93 149.5h1.15M270.93 152h1.15M264.43 146.5h1.15M279.93 149h1.15M258.93 155h1.15M271.93 150.5h1.15M267.43 154h1.15M268.93 155h1.15M273.93 152h1.15M254.93 160.5h1.15M264.93 150.5h1.15M273.43 155h1.15M262.93 160.5h1.15M249.43 158h1.15M267.43 154h1.15M270.43 152.5h1.15M270.43 149h1.15M264.43 159h1.15M247.43 158h1.15M250.43 151.5h1.15M274.43 151.5h1.15M263.43 148.5h1.15M266.93 152.5h1.15M262.93 148.5h1.15M268.93 154.5h1.15M276.43 154.5h1.15M279.43 156.5h1.15M245.43 159h1.15M266.93 150h1.15M270.93 156h1.15M255.43 150h1.15M272.93 151.5h1.15M278.93 153.5h1.15M263.43 149.5h1.15M272.43 147.5h1.15M257.43 149.5h1.15M280.93 158h1.15M265.93 152h1.15M273.43 157h1.15M261.43 160.5h1.15M265.93 157h1.15M249.43 154h1.15M262.43 159.5h1.15M265.93 149.5h1.15M282.93 150.5h1.15M267.93 149.5h1.15M272.93 153.5h1.15M265.43 152h1.15M263.43 151h1.15M256.93 157.5h1.15M274.93 148.5h1.15M258.43 155h1.15M285.43 152h1.15M265.43 152.5h1.15M269.43 152.5h1.15M276.43 156h1.15M271.93 158h1.15M265.93 151.5h1.15M290.93 146.5h1.15M255.43 146.5h1.15M270.43 150h1.15M275.93 146.5h1.15M266.43 152h1.15M259.43 157h1.15M264.43 154.5h1.15M263.43 154h1.15M264.43 153.5h1.15M266.93 151h1.15M270.93 152.5h1.15M259.93 150h1.15M271.43 157h1.15M257.43 152.5h1.15M271.43 156.5h1.15M273.43 149.5h1.15M267.93 156h1.15M269.43 152.5h1.15M258.43 154h1.15M267.43 153.5h1.15M279.43 156.5h1.15M261.43 154h1.15M265.43 153.5h1.15M280.43 155.5h1.15M267.93 151h1.15M266.43 154.5h1.15M263.93 157h1.15M267.93 149.5h1.15M283.93 143.5h1.15M265.43 153h1.15M275.43 156.5h1.15M278.93 157.5h1.15M270.43 153.5h1.15M275.93 153h1.15M257.93 152h1.15M272.93 155h1.15M258.93 157h1.15M269.93 148.5h1.15M271.43 156h1.15M271.93 152h1.15M261.43 157h1.15M269.43 153h1.15M264.43 150h1.15M252.93 152.5h1.15M276.43 155h1.15M262.43 158h1.15M265.93 150h1.15M275.43 157h1.15M264.43 149.5h1.15M267.43 145.5h1.15M267.93 158h1.15M269.93 151h1.15M273.43 151.5h1.15M277.43 151.5h1.15M283.93 151.5h1.15M269.43 150h1.15M257.93 154.5h1.15M270.43 150h1.15M271.93 151.5h1.15M263.43 153h1.15M270.93 155.5h1.15M277.43 154h1.15M261.93 151.5h1.15M270.43 149.5h1.15M266.43 152h1.15M266.93 154h1.15M275.93 158h1.15M274.43 156h1.15M259.43 156.5h1.15M277.93 148.5h1.15M287.43 150.5h1.15M248.93 159.5h1.15M268.43 150.5h1.15M263.43 156.5h1.15M269.93 152h1.15M276.93 150h1.15M260.93 151.5h1.15M261.93 155.5h1.15M265.93 150h1.15M263.93 147h1.15M268.93 153.5h1.15M272.43 152.5h1.15M270.93 150h1.15M267.93 153.5h1.15M258.43 155.5h1.15M268.93 153.5h1.15M263.93 159.5h1.15M267.93 151h1.15M260.93 155.5h1.15M265.93 151h1.15M261.93 156.5h1.15M268.43 156.5h1.15M267.43 149.5h1.15M274.43 154h1.15M262.43 152.5h1.15M259.93 156h1.15M264.43 155h1.15M269.93 152.5h1.15M270.43 152.5h1.15M258.43 152.5h1.15M258.43 156h1.15M272.93 151h1.15M272.43 154h1.15M275.43 150h1.15M267.93 150h1.15M262.43 157.5h1.15M251.93 151h1.15M271.43 155.5h1.15M261.43 147h1.15M254.43 155h1.15M276.43 155.5h1.15M261.93 157.5h1.15M266.43 155h1.15M266.43 158h1.15M263.93 146.5h1.15M265.43 154h1.15M269.93 151h1.15M265.93 150h1.15M265.93 153.5h1.15M269.43 158h1.15M251.93 155.5h1.15M270.93 149.5h1.15M268.43 153h1.15M259.93 155.5h1.15M282.43 154.5h1.15M273.93 156h1.15M266.93 156h1.15M261.43 154h1.15M273.43 157h1.15M265.43 152.5h1.15M271.43 153h1.15M268.93 155.5h1.15M261.93 156h1.15M270.93 152.5h1.15M257.93 151.5h1.15M267.43 156h1.15M252.43 156h1.15M269.43 149.5h1.15M274.43 154h1.15M270.93 150h1.15M258.93 156.5h1.15M278.43 154h1.15M266.43 152h1.15M254.43 156.5h1.15M266.93 157h1.15M261.93 156.5h1.15M262.43 155h1.15M278.43 150.5h1.15M274.93 153h1.15M260.43 154h1.15M272.93 151h1.15M265.43 151.5h1.15M261.93 153h1.15M273.93 151.5h1.15M277.43 151.5h1.15M262.43 156.5h1.15M278.43 151h1.15M272.43 149.5h1.15M264.43 152h1.15M273.43 149h1.15M263.93 151h1.15M268.43 149.5h1.15M257.43 162.5h1.15M269.43 148.5h1.15M273.93 149h1.15M252.93 159h1.15M277.43 150h1.15M259.43 155h1.15M283.43 154.5h1.15M272.93 149.5h1.15M253.93 155h1.15M275.43 153.5h1.15M267.93 157.5h1.15M261.43 157h1.15M273.93 151h1.15M268.43 153.5h1.15M272.43 150h1.15M265.93 153.5h1.15M267.93 153.5h1.15M269.43 152.5h1.15M263.93 156.5h1.15M262.93 152.5h1.15M260.93 150h1.15M270.93 153h1.15M266.93 154.5h1.15M266.43 155.5h1.15M281.43 153.5h1.15M265.93 158.5h1.15M272.93 148h1.15M277.93 153.5h1.15M274.43 149.5h1.15M261.43 151.5h1.15M271.93 149.5h1.15M262.43 156.5h1.15M262.93 154h1.15M260.93 148.5h1.15M266.93 153h1.15M256.93 156.5h1.15M273.93 155.5h1.15M263.93 150h1.15M266.93 153.5h1.15M266.43 151.5h1.15M259.93 151.5h1.15M266.93 151.5h1.15M280.43 152h1.15M271.43 151.5h1.15M266.43 150.5h1.15M263.93 149h1.15M251.93 158h1.15M259.43 155h1.15M266.93 151.5h1.15M273.43 151.5h1.15M270.93 152h1.15M274.93 156h1.15M268.43 156.5h1.15M271.43 158h1.15M266.93 148.5h1.15M269.43 154h1.15M264.93 152.5h1.15M265.43 149.5h1.15M280.93 150.5h1.15M259.43 148.5h1.15M261.43 153.5h1.15M278.93 154.5h1.15M261.93 149.5h1.15M258.93 153.5h1.15M274.43 151.5h1.15M279.93 158.5h1.15M268.93 146.5h1.15M275.93 152.5h1.15M272.93 156h1.15M259.93 153.5h1.15M268.93 151h1.15M272.93 152.5h1.15M264.43 159h1.15M268.93 158h1.15M266.43 156.5h1.15M261.93 154h1.15M275.93 146.5h1.15M271.93 152h1.15M275.93 153.5h1.15M266.93 149.5h1.15M289.93 150h1.15M265.43 151h1.15M265.43 154h1.15M257.43 157h1.15M265.93 155h1.15M251.43 152.5h1.15M265.43 152h1.15M262.43 154.5h1.15M270.93 150h1.15M252.93 156h1.15M265.43 156.5h1.15M274.43 152.5h1.15M256.93 152.5h1.15M261.93 157h1.15M254.93 156.5h1.15M255.93 152h1.15M256.93 151.5h1.15M264.43 154.5h1.15M263.43 155.5h1.15M280.93 153h1.15M258.93 153h1.15M266.93 152h1.15M276.43 156.5h1.15M282.93 154h1.15M247.43 153.5h1.15M272.93 150.5h1.15M262.93 156h1.15M268.93 150h1.15M263.43 144h1.15M267.43 149.5h1.15M267.43 149.5h1.15M260.43 152h1.15M288.93 149h1.15M258.43 152h1.15M275.93 155.5h1.15M272.93 152h1.15M268.43 151h1.15M266.43 151h1.15M256.43 150.5h1.15M282.43 154h1.15M261.93 153h1.15M264.43 157h1.15M267.43 151.5h1.15M272.93 154h1.15M262.43 151h1.15M268.93 148h1.15M260.93 156.5h1.15M274.43 156.5h1.15M264.43 151.5h1.15M265.43 152h1.15M277.43 152h1.15M277.93 150.5h1.15M270.43 158h1.15M261.93 151.5h1.15M262.93 148.5h1.15M265.43 151.5h1.15M284.43 151h1.15M251.43 156.5h1.15M274.93 153h1.15M269.93 155.5h1.15M263.43 153.5h1.15M268.93 158h1.15M278.43 153.5h1.15M257.43 156.5h1.15M267.43 156.5h1.15M267.93 153.5h1.15M272.43 151h1.15M262.43 160.5h1.15M260.93 156.5h1.15M272.93 155.5h1.15M277.93 148.5h1.15M274.93 146.5h1.15M267.93 154h1.15M275.43 156h1.15M260.43 152.5h1.15M266.43 151h1.15M261.43 151.5h1.15M276.43 157h1.15M273.43 158h1.15M268.43 150h1.15M262.43 154h1.15M275.43 156.5h1.15M260.93 156.5h1.15M263.43 155h1.15M274.43 157.5h1.15M263.43 154h1.15M270.93 152h1.15M268.43 155h1.15M254.93 151.5h1.15M284.93 154h1.15M263.43 148h1.15M260.43 155h1.15M272.93 154.5h1.15M271.93 151h1.15M279.93 149.5h1.15M271.43 152h1.15M254.43 156.5h1.15M265.43 155.5h1.15M277.43 153.5h1.15M262.43 152.5h1.15M266.93 157.5h1.15M273.93 157.5h1.15M273.43 150.5h1.15M274.43 156h1.15M266.93 154.5h1.15M265.43 149.5h1.15M266.93 155.5h1.15M264.93 146.5h1.15M261.43 156.5h1.15M269.43 156.5h1.15M261.93 152h1.15M259.93 151h1.15M271.43 153.5h1.15M263.93 154h1.15M257.93 152.5h1.15M256.43 149h1.15M257.43 150.5h1.15M279.43 157h1.15M276.93 151h1.15M272.43 149.5h1.15M263.43 154h1.15M255.43 154.5h1.15M272.43 146.5h1.15M248.93 153h1.15M266.43 153.5h1.15M258.93 155.5h1.15M268.43 151h1.15M279.93 153.5h1.15M273.43 158.5h1.15M263.93 152.5h1.15M254.43 153h1.15M270.93 160.5h1.15M271.93 153.5h1.15M257.93 151h1.15M253.43 149.5h1.15M268.43 154h1.15M260.43 153h1.15M261.43 155.5h1.15M272.43 151.5h1.15M263.93 149.5h1.15M263.93 160h1.15M267.43 156h1.15M271.93 157.5h1.15M264.93 150.5h1.15M275.43 155.5h1.15M262.43 156.5h1.15M267.43 153h1.15M281.43 154.5h1.15M269.93 152h1.15M268.93 156.5h1.15M270.93 151h1.15M270.93 152.5h1.15M269.93 152.5h1.15M250.93 149h1.15M264.43 146.5h1.15M255.93 160h1.15M272.93 151.5h1.15M269.93 146.5h1.15M269.43 156h1.15M268.93 149h1.15M274.93 151.5h1.15M263.43 154h1.15M265.43 159.5h1.15M266.43 160h1.15M270.93 149.5h1.15M267.43 153.5h1.15M278.43 156.5h1.15M286.93 150.5h1.15M264.43 160.5h1.15M260.93 154.5h1.15M279.93 149.5h1.15M264.93 151h1.15M271.43 154.5h1.15M267.43 155h1.15M261.43 152.5h1.15M270.93 159h1.15M267.43 153.5h1.15M277.43 153h1.15M277.43 153.5h1.15M276.43 153.5h1.15M260.43 151h1.15M270.93 159h1.15M281.93 151.5h1.15M286.43 149h1.15M260.93 156.5h1.15M255.93 156.5h1.15M270.43 155h1.15M258.43 154.5h1.15M274.93 153h1.15M275.43 153h1.15M270.43 152h1.15M257.43 153h1.15M271.43 150.5h1.15M252.93 149h1.15M277.43 152h1.15M261.93 157h1.15M266.43 148.5h1.15M264.43 150.5h1.15M266.43 150.5h1.15M267.93 154.5h1.15M263.43 153h1.15M266.43 156h1.15M261.93 155.5h1.15M276.93 152h1.15M260.43 152.5h1.15M253.93 152h1.15M258.43 153h1.15M264.93 155h1.15M268.43 154.5h1.15M267.43 154h1.15M258.93 155.5h1.15M277.43 156h1.15M257.43 155h1.15M254.93 156h1.15M265.93 152h1.15M261.93 152.5h1.15M267.43 150h1.15M267.93 154h1.15M271.43 153h1.15M267.43 160.5h1.15M275.43 154h1.15M256.93 155.5h1.15M271.93 145h1.15M266.43 154.5h1.15M267.93 153.5h1.15M266.43 157.5h1.15M270.43 152h1.15M265.93 159.5h1.15M260.93 152h1.15M269.93 153.5h1.15M269.93 157.5h1.15M276.43 154h1.15M267.93 153h1.15M265.93 156.5h1.15M257.93 150.5h1.15M263.93 150.5h1.15M261.93 157h1.15M250.43 155.5h1.15M257.43 153h1.15M263.43 150.5h1.15M256.43 154h1.15M244.93 147.5h1.15M264.43 156.5h1.15M281.93 151.5h1.15M261.43 152.5h1.15M271.43 156h1.15M260.43 155h1.15M267.43 156.5h1.15M264.43 152.5h1.15M260.93 149.5h1.15M269.93 155.5h1.15M276.43 153.5h1.15M263.93 150.5h1.15M258.93 151.5h1.15M270.43 153.5h1.15M249.93 153.5h1.15M265.43 150h1.15M267.43 155h1.15M259.43 149.5h1.15M264.93 154h1.15M265.43 158h1.15M268.93 150h1.15M273.43 151h1.15M272.93 153.5h1.15M276.93 150h1.15M273.43 154.5h1.15M260.43 155.5h1.15M284.93 153.5h1.15M261.93 153h1.15M277.93 153.5h1.15M278.93 150.5h1.15M277.93 148h1.15M266.43 152.5h1.15M263.93 157h1.15M262.93 154.5h1.15M281.93 155h1.15M264.43 151h1.15M251.93 155h1.15M274.43 156.5h1.15M269.43 160h1.15M273.43 146h1.15M260.93 156h1.15M264.43 156h1.15M287.43 150h1.15M284.93 152.5h1.15M256.43 154h1.15M274.43 151h1.15M279.93 150h1.15M265.93 156h1.15M265.93 151.5h1.15M267.43 155h1.15M280.93 157h1.15M282.43 152.5h1.15M254.93 153.5h1.15M264.43 150.5h1.15M263.93 153h1.15M267.93 156h1.15M260.43 157h1.15M267.93 155.5h1.15M277.43 149h1.15M279.93 150.5h1.15M270.93 156.5h1.15M274.93 148h1.15M268.93 156.5h1.15M266.93 153h1.15M268.43 158h1.15M263.43 150.5h1.15M258.93 152h1.15M265.93 154.5h1.15M266.93 148h1.15M255.43 156h1.15M273.43 149h1.15M274.93 145.5h1.15M285.93 154.5h1.15M254.93 155.5h1.15M267.43 152h1.15M264.93 152.5h1.15M266.93 150.5h1.15M263.43 155h1.15M271.93 149h1.15M263.93 158h1.15M273.43 158h1.15M257.43 150.5h1.15M250.93 148h1.15M264.93 150h1.15M259.43 151.5h1.15M266.43 156h1.15M271.93 147.5h1.15M279.43 151.5h1.15M259.93 153.5h1.15M264.43 149h1.15M279.93 151h1.15M262.93 155h1.15M280.93 154h1.15M260.93 155h1.15M276.43 154h1.15M272.93 151.5h1.15M267.43 148h1.15M261.93 150h1.15M267.93 158h1.15M249.93 150h1.15M260.43 153h1.15M276.93 150.5h1.15M261.43 157h1.15M270.43 154.5h1.15M274.43 150.5h1.15M269.43 151h1.15M261.93 154h1.15M270.93 149h1.15M261.93 155.5h1.15M268.93 155h1.15M265.43 151h1.15M273.93 155h1.15M245.43 157h1.15M261.93 155.5h1.15M279.93 152h1.15M259.93 154.5h1.15M268.43 155h1.15M256.93 154.5h1.15M274.93 155h1.15M272.43 156.5h1.15M261.43 157h1.15M269.43 150h1.15M265.43 154h1.15M270.43 157.5h1.15M269.43 151.5h1.15M284.93 151.5h1.15M261.43 156.5h1.15M264.43 151h1.15M259.43 157h1.15M259.43 154h1.15M263.93 153h1.15M261.43 154h1.15M272.43 156.5h1.15M264.93 149.5h1.15M255.93 153.5h1.15M248.43 158h1.15M267.93 153.5h1.15M256.93 151.5h1.15M261.93 155.5h1.15M264.43 155h1.15M271.93 147h1.15M265.93 157h1.15M263.93 154h1.15M266.93 149.5h1.15M284.93 152h1.15M272.93 151.5h1.15M278.93 156.5h1.15M276.93 156h1.15M273.43 157.5h1.15M270.93 153.5h1.15M273.93 150h1.15M247.93 156.5h1.15M268.93 151h1.15M265.43 150.5h1.15M260.93 154h1.15M268.93 156h1.15M266.93 155h1.15M272.93 151h1.15M254.43 151.5h1.15M265.93 151.5h1.15M284.93 150.5h1.15M271.43 150.5h1.15M272.93 149h1.15M274.93 153.5h1.15M264.43 149.5h1.15M280.93 151h1.15M278.93 145.5h1.15M258.43 159h1.15M281.93 152.5h1.15M275.43 155h1.15M264.93 153.5h1.15M258.93 149.5h1.15M268.93 155.5h1.15M268.93 149.5h1.15M274.43 153h1.15M273.43 152h1.15M265.43 156.5h1.15M278.43 149h1.15M258.93 156.5h1.15M270.43 153.5h1.15M259.93 156.5h1.15M269.43 154h1.15M270.93 151.5h1.15M270.93 153.5h1.15M273.43 154h1.15M257.93 151.5h1.15M265.43 157h1.15M262.43 157h1.15M275.93 155.5h1.15M285.43 152.5h1.15M270.43 157h1.15M270.93 156h1.15M266.93 157.5h1.15M270.43 147h1.15M276.43 152.5h1.15M260.93 152.5h1.15M265.43 157h1.15M270.43 153h1.15M267.43 150.5h1.15M262.93 152h1.15M265.93 149.5h1.15M264.43 156.5h1.15M271.43 153h1.15M270.43 152.5h1.15M258.43 156.5h1.15M285.43 154h1.15M272.93 160.5h1.15M258.43 155h1.15M264.93 152.5h1.15M254.93 153.5h1.15M270.93 148h1.15M265.93 152h1.15M259.93 155.5h1.15M280.43 154h1.15M275.93 155.5h1.15M267.43 155h1.15M277.93 151.5h1.15M266.43 149h1.15M252.93 151.5h1.15M274.93 154h1.15M269.93 157h1.15M253.93 158h1.15M268.43 155.5h1.15M278.43 150.5h1.15M260.93 155h1.15M267.43 151.5h1.15M266.93 151h1.15M268.93 152h1.15M280.93 149.5h1.15M272.43 153.5h1.15M279.93 150h1.15M263.93 158.5h1.15M262.43 152.5h1.15M264.43 150.5h1.15M277.43 157.5h1.15M266.43 151h1.15M256.93 155.5h1.15M263.43 155h1.15M248.93 152.5h1.15M272.43 154.5h1.15M245.43 155h1.15M268.93 153h1.15M264.93 152h1.15M268.93 155h1.15M242.93 154h1.15M274.93 152.5h1.15M277.43 150h1.15M282.93 155.5h1.15M264.43 162h1.15M278.93 157.5h1.15M258.43 153.5h1.15M271.43 156.5h1.15M268.43 149.5h1.15M277.43 152.5h1.15M270.93 152h1.15M266.93 149h1.15M272.93 151h1.15M253.93 155h1.15M267.43 156h1.15M273.93 149.5h1.15M266.43 153.5h1.15M268.43 150h1.15M268.43 156h1.15M277.43 157.5h1.15M273.43 145.5h1.15M265.43 151.5h1.15M244.93 159h1.15M274.93 153h1.15M270.43 154.5h1.15M265.93 157.5h1.15M281.93 155h1.15M263.43 154h1.15M275.43 155h1.15M262.43 156.5h1.15M273.43 155h1.15M264.43 153.5h1.15M252.93 153.5h1.15M264.43 152.5h1.15M265.43 152.5h1.15M268.43 153.5h1.15M262.93 153h1.15M266.93 155h1.15M271.43 152h1.15M261.43 148.5h1.15M257.93 155h1.15M260.43 158.5h1.15M266.43 152h1.15M266.43 151.5h1.15M262.93 153.5h1.15M256.43 154h1.15M266.93 150.5h1.15M275.93 154h1.15M276.43 151h1.15M257.93 150h1.15M255.43 148h1.15M279.93 151.5h1.15M269.43 151.5h1.15M266.43 158h1.15M253.93 151h1.15M268.93 150.5h1.15M272.93 157h1.15M274.93 155h1.15M266.43 156.5h1.15M261.43 150h1.15M265.93 152.5h1.15M277.43 150h1.15M276.93 150.5h1.15M257.93 148.5h1.15M267.43 149h1.15M269.43 153.5h1.15M264.43 147.5h1.15M263.43 154.5h1.15M253.93 156h1.15M267.93 151.5h1.15M269.43 155h1.15M267.43 151h1.15M273.93 151h1.15M270.43 156h1.15M277.93 157.5h1.15M275.93 153.5h1.15M265.93 154h1.15M271.93 162h1.15M272.93 150.5h1.15M279.43 148h1.15M275.43 149h1.15M259.43 152h1.15M265.43 149h1.15M272.43 152.5h1.15M278.43 149.5h1.15M253.43 156h1.15M265.93 156.5h1.15M249.43 150h1.15M268.43 159h1.15M257.93 148h1.15M263.93 157.5h1.15M279.93 148.5h1.15M262.93 148h1.15M260.93 150.5h1.15M270.93 156.5h1.15M286.43 151.5h1.15M273.93 153.5h1.15M268.93 159h1.15M273.43 158h1.15M269.93 156h1.15M271.93 153h1.15M262.43 152h1.15M267.93 152h1.15M264.93 151h1.15M274.43 152h1.15M266.93 152.5h1.15M277.93 151h1.15M278.93 150h1.15M279.93 154.5h1.15M263.93 155h1.15M276.43 150h1.15M265.93 154h1.15M265.93 152.5h1.15M267.93 154h1.15M273.93 157.5h1.15M265.43 162.5h1.15M265.43 158.5h1.15M266.93 149h1.15M264.43 152.5h1.15M275.93 146.5h1.15M262.93 153h1.15M272.93 154h1.15M274.43 152.5h1.15M265.93 157h1.15M280.93 154h1.15M268.93 150.5h1.15M283.93 154h1.15M272.43 148h1.15M272.43 160.5h1.15M266.43 152.5h1.15M279.93 152h1.15M274.43 159h1.15M258.43 151h1.15M272.93 153.5h1.15M267.93 152.5h1.15M268.93 154.5h1.15M263.93 152.5h1.15M269.43 150h1.15M271.43 146.5h1.15M272.93 152.5h1.15M258.43 157.5h1.15M258.43 160h1.15M261.93 157h1.15M267.43 158h1.15M265.93 156.5h1.15M265.43 147.5h1.15M270.93 154.5h1.15M270.93 158h1.15M261.93 149h1.15M269.93 151h1.15M266.93 153h1.15M261.43 157h1.15M266.93 158.5h1.15M269.93 156.5h1.15M265.43 151.5h1.15M263.43 150.5h1.15M271.43 153.5h1.15M259.43 149h1.15M260.93 148h1.15M260.93 149h1.15M273.43 149.5h1.15M263.43 153h1.15M267.93 154.5h1.15M273.93 155h1.15M264.93 157h1.15M270.43 151h1.15M279.43 149h1.15M271.43 157h1.15M268.43 154h1.15M268.93 155h1.15M269.43 153h1.15M273.43 147h1.15M269.93 152h1.15M282.93 153.5h1.15M262.43 155.5h1.15M264.93 149.5h1.15M265.43 155h1.15M276.93 156h1.15M269.43 152.5h1.15M269.43 157h1.15M266.93 157h1.15M261.43 153.5h1.15M273.93 155h1.15M269.43 151.5h1.15M253.93 152.5h1.15M261.43 152h1.15M279.93 150.5h1.15M274.43 153h1.15M259.43 154h1.15M273.43 149.5h1.15M258.93 152.5h1.15M273.43 151h1.15M270.93 154.5h1.15M267.93 154.5h1.15M277.43 152h1.15M270.43 150h1.15M262.43 153h1.15M273.93 151h1.15M256.93 156.5h1.15M285.93 144.5h1.15M259.43 154h1.15M271.43 150h1.15M270.43 156.5h1.15M265.43 155.5h1.15M268.93 150.5h1.15M262.93 151.5h1.15M277.93 156.5h1.15M269.43 148.5h1.15M263.93 152h1.15M252.93 153.5h1.15M269.93 149h1.15M264.43 152h1.15M281.93 154.5h1.15M273.43 153h1.15M257.93 156.5h1.15M262.43 147.5h1.15M273.43 152h1.15M267.93 155h1.15M265.93 154.5h1.15M277.43 152h1.15M264.93 153.5h1.15M272.93 152h1.15M268.43 151h1.15M267.43 155h1.15M261.43 153h1.15M256.43 151.5h1.15M268.43 155h1.15M259.93 153h1.15M260.43 154.5h1.15M269.93 154.5h1.15M265.93 149h1.15M263.43 149.5h1.15M262.43 153h1.15M275.93 151h1.15M261.93 154h1.15M251.93 160h1.15M255.93 157h1.15M275.43 156h1.15M266.93 155.5h1.15M264.93 156h1.15M262.93 151h1.15M270.43 151.5h1.15M272.93 150.5h1.15M269.93 150h1.15M266.93 160h1.15M259.43 150h1.15M255.43 153h1.15M279.93 151.5h1.15M274.93 152.5h1.15M262.93 159.5h1.15M275.93 147.5h1.15M260.43 155h1.15M272.93 152.5h1.15M269.93 154.5h1.15M264.93 156.5h1.15M261.43 156h1.15M274.93 153.5h1.15M264.93 153.5h1.15M250.93 154.5h1.15M256.93 147.5h1.15M273.43 150h1.15M270.43 153h1.15M254.43 151h1.15M265.93 154.5h1.15M268.43 149.5h1.15M263.93 153.5h1.15M257.93 152h1.15M263.43 147h1.15M280.93 155.5h1.15M264.43 156h1.15M259.93 158h1.15M264.93 153.5h1.15M263.43 153.5h1.15M270.43 153h1.15M261.43 156h1.15M271.93 153h1.15M275.93 150.5h1.15M277.43 152.5h1.15M279.43 151.5h1.15M265.93 154h1.15M275.93 157h1.15M264.43 151h1.15M273.43 156.5h1.15M272.93 152h1.15M277.43 152.5h1.15M268.93 155h1.15M263.43 146.5h1.15M269.43 155.5h1.15M270.93 154.5h1.15M268.93 156.5h1.15M268.43 157.5h1.15M267.93 155.5h1.15M263.43 154.5h1.15M270.93 153.5h1.15M279.43 153h1.15M276.43 154h1.15M275.93 150h1.15M264.93 156h1.15M261.43 154.5h1.15M271.93 153.5h1.15M270.93 154.5h1.15M265.93 154.5h1.15M263.93 152h1.15M255.93 153.5h1.15M254.93 154h1.15M269.43 150h1.15M268.43 154h1.15M264.93 150.5h1.15M266.93 154.5h1.15M274.93 159h1.15M252.93 155h1.15M270.93 151h1.15M269.93 159.5h1.15M268.43 157.5h1.15M275.93 151.5h1.15M250.43 157.5h1.15M279.43 147.5h1.15M266.43 151h1.15M269.43 153.5h1.15M276.43 151h1.15M282.43 147.5h1.15M269.43 161.5h1.15M266.93 155h1.15M264.43 163.5h1.15M274.43 152h1.15M253.43 154.5h1.15M273.43 147h1.15M263.93 155h1.15M249.43 153.5h1.15M255.93 149.5h1.15M270.93 156.5h1.15M276.43 151h1.15M271.43 147.5h1.15M256.43 155.5h1.15M264.93 150h1.15M253.43 153h1.15M284.43 146.5h1.15M259.93 157h1.15M243.93 152h1.15M271.93 158h1.15M269.93 161.5h1.15M270.43 152.5h1.15M276.93 154h1.15M249.93 150h1.15M267.43 155h1.15M253.93 151h1.15M260.43 155.5h1.15M264.93 156h1.15M276.43 148.5h1.15M266.93 147.5h1.15M272.43 156.5h1.15M256.93 145.5h1.15M278.43 151h1.15M270.43 155h1.15M276.43 157h1.15M264.43 143h1.15M263.93 152h1.15M264.93 155h1.15M267.43 159.5h1.15M261.93 153.5h1.15M265.93 163h1.15M257.43 149h1.15M265.43 157h1.15M270.93 152h1.15M250.43 144.5h1.15M267.93 152h1.15M295.93 153h1.15M276.93 157h1.15M258.43 148h1.15M265.93 160.5h1.15M284.93 149.5h1.15M253.43 158.5h1.15M286.43 147h1.15M293.43 148h1.15M281.43 151.5h1.15M266.43 150.5h1.15M280.93 155h1.15M282.43 151h1.15M258.93 164h1.15M294.93 150.5h1.15M254.93 161h1.15M272.93 153h1.15M282.93 154h1.15M272.43 162h1.15M244.43 158h1.15M256.93 154.5h1.15M268.43 154.5h1.15M236.93 158.5h1.15M303.93 149h1.15M283.93 155h1.15M274.93 150.5h1.15M279.93 153.5h1.15M291.43 155.5h1.15M260.93 140h1.15M292.43 154h1.15M273.43 150h1.15M306.43 157h1.15M272.43 151h1.15M278.93 159h1.15M278.43 157h1.15M274.43 154.5h1.15M252.93 155h1.15M271.43 152.5h1.15M267.43 154.5h1.15M262.93 152.5h1.15M252.43 165h1.15M258.43 148h1.15M263.43 151.5h1.15M255.43 142.5h1.15M294.43 156h1.15M265.43 156h1.15M254.93 146.5h1.15M275.93 155.5h1.15M260.93 153.5h1.15M226.93 155.5h1.15M285.93 153h1.15M273.43 155.5h1.15M240.93 149h1.15M252.93 155.5h1.15M261.93 145h1.15M283.93 151.5h1.15M285.43 161.5h1.15M247.43 148.5h1.15M286.43 158.5h1.15M276.43 154.5h1.15M280.93 155.5h1.15M252.43 157.5h1.15M284.93 150h1.15M257.93 151.5h1.15M262.43 156h1.15M281.93 152.5h1.15M266.43 145h1.15M264.93 148.5h1.15M262.93 155h1.15M273.43 169.5h1.15M258.43 151.5h1.15M254.43 153h1.15M266.93 158h1.15M242.93 159h1.15M280.43 150h1.15M260.93 154.5h1.15M278.43 152h1.15M268.93 153h1.15M255.43 155.5h1.15M279.43 152.5h1.15M254.43 154h1.15M269.43 154.5h1.15M264.93 157.5h1.15M286.43 156h1.15M274.43 158.5h1.15M270.43 152.5h1.15M250.43 154.5h1.15M288.43 147.5h1.15M281.93 146.5h1.15M275.43 161h1.15M271.43 147.5h1.15M274.93 152h1.15M282.43 150h1.15M245.93 152.5h1.15M279.43 157h1.15M274.93 153h1.15M280.93 151.5h1.15M264.43 154.5h1.15M286.43 149.5h1.15M277.93 149.5h1.15M260.43 154.5h1.15M251.93 150.5h1.15M253.93 151.5h1.15M257.93 164.5h1.15M279.43 153h1.15M251.43 143.5h1.15M277.43 149.5h1.15M285.93 150h1.15M251.93 151.5h1.15M248.93 148h1.15M280.93 150h1.15M280.93 150h1.15M267.43 150.5h1.15M262.93 150.5h1.15M292.43 151.5h1.15M242.93 162.5h1.15M288.93 157h1.15M269.43 152.5h1.15M263.93 154h1.15M277.43 152.5h1.15M258.93 149.5h1.15M294.93 159h1.15M252.93 151.5h1.15M270.43 156h1.15M268.93 154h1.15M275.93 158h1.15M251.93 159.5h1.15M276.93 155h1.15M248.93 153.5h1.15M266.93 156h1.15M280.43 155.5h1.15M251.93 160h1.15M271.93 157h1.15M270.43 150h1.15M308.43 153.5h1.15M281.93 150h1.15M267.43 158.5h1.15M277.43 160.5h1.15M287.93 147h1.15M248.43 160h1.15M279.43 151.5h1.15M266.43 151h1.15M296.43 150.5h1.15M250.93 158.5h1.15M269.43 154.5h1.15M265.43 153h1.15M243.43 157.5h1.15M260.93 152h1.15M275.43 158.5h1.15M239.43 154.5h1.15M278.43 157h1.15M257.43 155.5h1.15M276.43 157h1.15M261.93 153h1.15M263.43 158.5h1.15M286.43 150h1.15M268.93 154h1.15M257.93 153.5h1.15M283.43 155.5h1.15M260.93 150.5h1.15M268.93 146.5h1.15M275.43 153.5h1.15M251.43 153.5h1.15M260.93 152.5h1.15M257.93 160h1.15M256.93 157.5h1.15M273.93 159.5h1.15M269.93 153h1.15M271.43 144.5h1.15M305.43 150h1.15M265.93 148.5h1.15M268.93 160.5h1.15M259.93 156h1.15M285.43 156.5h1.15M264.93 145.5h1.15M276.43 155h1.15M265.93 151.5h1.15M295.93 144.5h1.15M263.43 151h1.15M247.93 151.5h1.15M258.93 159.5h1.15M245.43 148.5h1.15M274.43 146h1.15M241.43 152h1.15M253.43 150h1.15M268.43 155.5h1.15M261.43 152.5h1.15M280.93 151.5h1.15M281.43 149.5h1.15M277.93 158.5h1.15M250.43 168h1.15M265.93 152h1.15M268.43 155.5h1.15M253.43 154.5h1.15M262.43 160h1.15M245.93 157.5h1.15M265.93 150h1.15M272.43 152h1.15M271.43 154h1.15M287.93 150h1.15M294.93 139.5h1.15M296.93 157h1.15M293.43 152.5h1.15M274.93 148.5h1.15M289.93 146.5h1.15M258.93 154h1.15M273.93 154.5h1.15M253.93 152.5h1.15M277.93 158h1.15M281.93 154h1.15M266.93 151h1.15M263.43 153h1.15M278.43 150.5h1.15M300.43 146.5h1.15M282.43 151.5h1.15M268.43 151.5h1.15M292.93 150.5h1.15M278.43 153h1.15M281.43 155h1.15M294.43 148h1.15M258.93 161.5h1.15M288.93 152h1.15M266.43 154.5h1.15M289.43 148.5h1.15M291.43 151.5h1.15M265.43 151.5h1.15M240.43 156.5h1.15M251.43 152h1.15M257.93 155h1.15M280.93 152.5h1.15M273.43 154.5h1.15M293.93 154h1.15M293.43 151.5h1.15M275.93 150h1.15M279.43 148.5h1.15M277.43 150h1.15M265.43 159h1.15M272.93 156.5h1.15M267.43 145h1.15M291.93 151h1.15M261.43 158h1.15M254.43 151h1.15M287.43 149h1.15M286.93 150.5h1.15M267.43 153.5h1.15M263.43 158.5h1.15M286.43 152.5h1.15M279.43 155h1.15M294.93 144.5h1.15M285.43 156h1.15M265.93 153.5h1.15M265.43 159h1.15M253.93 157h1.15M289.43 154.5h1.15M263.93 151.5h1.15M239.93 150.5h1.15M286.43 148h1.15M246.93 153.5h1.15M248.93 156.5h1.15M257.93 158h1.15M268.93 147h1.15M259.43 151h1.15M258.43 159.5h1.15M256.43 155.5h1.15M262.43 156.5h1.15M249.93 147.5h1.15M277.93 159h1.15M250.93 153h1.15M263.43 149.5h1.15M284.43 152.5h1.15M250.43 153.5h1.15M289.93 148.5h1.15M263.43 150h1.15M272.93 150.5h1.15M283.43 148.5h1.15M249.43 156.5h1.15M224.93 152h1.15M274.93 154h1.15M262.43 151.5h1.15M278.43 169h1.15M258.93 153h1.15M263.93 156h1.15M270.93 155.5h1.15M294.43 150.5h1.15M266.43 155h1.15M300.93 149.5h1.15M294.93 156.5h1.15M230.93 151.5h1.15M256.43 156h1.15M289.93 152h1.15M272.93 162.5h1.15M275.93 162.5h1.15M257.93 161.5h1.15M263.43 143h1.15M258.93 152h1.15M269.93 156.5h1.15M280.43 154.5h1.15M259.93 161.5h1.15M287.93 152h1.15M262.43 153.5h1.15M267.43 150h1.15M270.43 150h1.15M279.93 149.5h1.15M277.93 154h1.15M272.93 155.5h1.15M255.93 165.5h1.15M260.93 157h1.15M270.93 151h1.15M295.93 156.5h1.15M266.93 156h1.15M280.43 159.5h1.15M285.43 151.5h1.15M266.93 148h1.15M274.43 156.5h1.15M264.93 156.5h1.15M272.43 151h1.15M252.93 159h1.15M307.43 153h1.15M254.93 149.5h1.15M274.43 155.5h1.15M292.93 141h1.15M297.43 152h1.15M272.93 154.5h1.15M265.43 152h1.15M285.93 144.5h1.15M268.93 155.5h1.15M246.93 154h1.15M292.93 153.5h1.15M280.93 155.5h1.15M273.93 154.5h1.15M258.93 153h1.15M297.43 146h1.15M268.43 147.5h1.15M262.93 150h1.15M252.93 155.5h1.15M256.93 156.5h1.15M296.93 140h1.15M268.43 144h1.15M268.93 155h1.15M273.93 158.5h1.15M272.93 145h1.15M292.43 147.5h1.15M269.43 154.5h1.15M257.93 154.5h1.15M292.43 144h1.15M246.43 152.5h1.15M268.43 147.5h1.15M237.43 159.5h1.15M276.43 147h1.15M278.93 152h1.15M272.93 147h1.15M267.43 155.5h1.15M245.43 150h1.15M284.93 161h1.15M280.43 152h1.15M254.93 152.5h1.15M267.43 155.5h1.15M266.93 164.5h1.15M289.93 142h1.15M253.93 154h1.15M284.93 154h1.15M230.93 148.5h1.15M290.43 154.5h1.15M307.93 154h1.15M277.43 159.5h1.15M264.43 151h1.15M255.93 155h1.15M277.43 157h1.15M291.93 154.5h1.15M288.93 151h1.15M256.93 157.5h1.15M285.43 158h1.15M268.43 151h1.15M265.43 155h1.15M269.93 152.5h1.15M274.43 151.5h1.15M275.93 150h1.15M248.43 153h1.15M298.43 147.5h1.15M283.93 158h1.15M262.93 154.5h1.15M237.93 158h1.15M293.43 152.5h1.15M241.93 152.5h1.15M259.93 154.5h1.15M274.93 151h1.15M266.43 149.5h1.15M279.43 153.5h1.15M275.93 150.5h1.15M277.93 151h1.15M275.43 152h1.15M261.43 148.5h1.15M243.93 148.5h1.15M277.43 167.5h1.15M246.93 151h1.15M270.93 169h1.15M267.93 148h1.15M276.93 162h1.15M230.43 150.5h1.15M288.93 146.5h1.15M269.43 150.5h1.15M281.93 145.5h1.15M275.43 153.5h1.15M278.93 154.5h1.15M272.93 145h1.15M266.43 149h1.15M278.43 151.5h1.15M272.93 158h1.15M269.43 161h1.15M282.93 145.5h1.15M262.43 159h1.15M263.43 159h1.15M262.93 153h1.15M285.93 145h1.15M271.93 151h1.15M273.43 160.5h1.15M277.93 146.5h1.15M284.93 150h1.15M273.43 158h1.15M266.43 157.5h1.15M273.43 149h1.15M266.43 147h1.15M287.93 152.5h1.15M284.93 147h1.15M283.43 147h1.15M274.93 152.5h1.15M262.43 155h1.15M271.43 149h1.15M259.93 148h1.15M290.93 152.5h1.15M265.43 156.5h1.15M258.43 148.5h1.15M275.93 160h1.15M275.43 153.5h1.15M296.43 144.5h1.15M315.43 145h1.15M269.93 147h1.15M253.43 153h1.15M306.43 146.5h1.15M261.93 155h1.15M255.93 153h1.15M282.93 142.5h1.15M266.43 152h1.15M263.43 153h1.15M244.93 152.5h1.15M263.43 149h1.15M289.43 161h1.15M282.43 148.5h1.15M291.43 154h1.15M258.93 156.5h1.15M262.43 156h1.15M284.43 157.5h1.15M255.43 153.5h1.15M270.93 147.5h1.15M276.93 156h1.15M250.93 152h1.15M254.93 148.5h1.15M255.43 160.5h1.15M261.43 152h1.15M285.43 156.5h1.15M291.43 142h1.15M281.93 144.5h1.15M261.93 151.5h1.15M262.43 162.5h1.15M268.43 158.5h1.15M268.43 153h1.15M278.43 154.5h1.15M278.43 144.5h1.15M278.43 154h1.15M279.43 152h1.15M276.93 146.5h1.15M287.43 146.5h1.15M291.43 156.5h1.15M269.93 151.5h1.15M282.43 151h1.15M253.93 155.5h1.15M253.43 152h1.15M296.93 155h1.15M264.43 153h1.15M261.43 153.5h1.15M249.93 157.5h1.15M270.93 150h1.15M261.93 165.5h1.15M264.43 151h1.15M262.43 151.5h1.15M289.93 155h1.15M276.93 154.5h1.15M254.43 143h1.15M292.93 155h1.15M273.93 154h1.15M273.93 153h1.15M266.93 143h1.15M278.93 152.5h1.15M284.93 153.5h1.15M266.93 156h1.15M273.43 151h1.15M265.43 151.5h1.15M266.43 151h1.15M284.93 165.5h1.15M269.43 158h1.15M242.43 140h1.15M263.93 152.5h1.15M259.93 147.5h1.15M258.43 151.5h1.15M272.93 151.5h1.15M253.43 152.5h1.15M292.93 147.5h1.15M271.93 157.5h1.15M259.43 151h1.15M312.93 156h1.15M263.43 154h1.15M272.43 153.5h1.15M277.43 151h1.15M238.93 150.5h1.15M272.93 146.5h1.15M266.43 160h1.15M274.43 150h1.15M272.93 157.5h1.15M245.93 149h1.15M261.43 151.5h1.15M269.43 150.5h1.15M272.43 153.5h1.15M253.93 151.5h1.15M252.93 155.5h1.15M274.93 155.5h1.15M258.43 151.5h1.15M238.93 155h1.15M247.43 156h1.15M286.43 154h1.15M279.93 153.5h1.15M276.43 157h1.15M289.43 161h1.15M266.93 157h1.15M283.43 154h1.15M274.93 147h1.15M286.93 148h1.15M261.43 149.5h1.15M278.93 148h1.15M277.43 155h1.15M272.43 151.5h1.15M279.43 158.5h1.15M264.43 148.5h1.15M262.43 149.5h1.15M267.43 152.5h1.15M237.43 162h1.15M258.93 152h1.15M242.43 146h1.15M256.43 155h1.15M283.43 144h1.15M273.93 159.5h1.15M266.93 157.5h1.15M275.43 148.5h1.15M285.43 149.5h1.15M275.93 151h1.15M267.93 154h1.15M289.93 144h1.15M254.93 154.5h1.15M284.93 151h1.15M268.43 155.5h1.15M293.93 147.5h1.15M247.93 153h1.15M281.93 146.5h1.15M287.43 156h1.15M282.43 148.5h1.15M252.43 157h1.15M274.93 156h1.15M251.43 141h1.15M286.93 156.5h1.15M266.93 153h1.15M277.43 156h1.15M268.43 151h1.15M256.93 158.5h1.15M272.43 137.5h1.15M275.93 150h1.15M252.43 152h1.15M252.43 152h1.15M262.93 156h1.15M256.43 145.5h1.15M261.93 147.5h1.15M281.43 151.5h1.15M246.93 150.5h1.15M270.43 153h1.15M244.43 154h1.15M275.43 157h1.15M286.93 151.5h1.15M251.93 152.5h1.15M280.43 148h1.15M288.93 147.5h1.15M254.43 158h1.15M269.43 154.5h1.15M266.43 153.5h1.15M262.43 162h1.15M280.43 152h1.15M277.93 156.5h1.15M263.43 154.5h1.15M273.93 150h1.15M259.93 153h1.15M266.43 151.5h1.15M242.93 155h1.15M280.43 152.5h1.15M295.93 155.5h1.15M265.93 150.5h1.15M277.93 151h1.15M247.43 155h1.15M266.43 152.5h1.15M279.93 153.5h1.15M300.43 147.5h1.15M269.43 154.5h1.15M264.43 151h1.15M296.43 144.5h1.15M275.93 144.5h1.15M275.93 144h1.15M253.93 159.5h1.15M293.43 152h1.15M231.43 160h1.15M274.43 147.5h1.15M265.93 147.5h1.15M269.43 152.5h1.15M272.93 156.5h1.15M261.43 143.5h1.15M253.93 148.5h1.15M265.43 151.5h1.15M270.43 159h1.15M271.43 148h1.15M266.43 149.5h1.15M267.43 156h1.15M254.43 157.5h1.15M296.93 158h1.15M294.43 152h1.15M251.43 163.5h1.15M269.93 154h1.15M265.93 149h1.15M279.93 146h1.15M250.93 157h1.15M265.43 149.5h1.15M277.93 159h1.15M266.93 152.5h1.15M278.93 156.5h1.15M285.93 155h1.15M261.43 156h1.15M270.93 145.5h1.15M288.93 154.5h1.15M290.93 151.5h1.15M281.43 152h1.15M273.43 157h1.15M271.93 155.5h1.15M270.43 158.5h1.15M280.43 145h1.15M294.93 153.5h1.15M263.43 150.5h1.15M299.43 151.5h1.15M278.43 155h1.15M262.43 161.5h1.15M301.43 147.5h1.15M287.43 144.5h1.15M265.93 153.5h1.15M271.93 155.5h1.15M276.93 154.5h1.15M268.93 154.5h1.15M262.93 162.5h1.15M271.93 158.5h1.15M272.43 152h1.15M268.43 147.5h1.15M300.93 153h1.15M272.93 151h1.15M289.43 150.5h1.15M264.43 151h1.15M292.93 153h1.15M268.93 150h1.15M289.43 153h1.15M266.43 157.5h1.15M283.43 147.5h1.15M287.43 157h1.15M267.43 147h1.15M286.93 150.5h1.15M267.93 152h1.15M266.93 157h1.15M255.43 156.5h1.15M287.43 156.5h1.15M281.43 153.5h1.15M267.93 152.5h1.15M258.43 161.5h1.15M269.43 148.5h1.15M282.93 159h1.15M274.93 151.5h1.15M254.93 157h1.15M267.43 150.5h1.15M279.43 146.5h1.15M281.43 141.5h1.15M261.93 147h1.15M267.43 157h1.15M252.43 160.5h1.15M261.43 151.5h1.15M285.43 149h1.15M291.93 150.5h1.15M269.43 149h1.15M287.43 151.5h1.15M263.93 149h1.15M261.93 153h1.15M260.93 157h1.15M270.43 150.5h1.15M277.43 159h1.15M241.43 156.5h1.15M286.43 152.5h1.15M282.93 145.5h1.15M260.43 158h1.15M269.93 153.5h1.15M279.93 154h1.15M277.43 150.5h1.15M266.93 159h1.15M263.93 147h1.15M265.93 157.5h1.15M296.43 152h1.15M262.43 156.5h1.15M275.43 158h1.15M278.43 156h1.15M278.43 154.5h1.15M258.43 153h1.15M293.93 157.5h1.15M284.93 154h1.15M269.43 154.5h1.15M266.43 158h1.15M266.93 150h1.15M248.43 161.5h1.15M260.43 150h1.15M276.93 160.5h1.15M280.43 151h1.15M279.43 149h1.15M267.43 153.5h1.15M271.43 156.5h1.15M278.93 161h1.15M282.93 151h1.15M274.93 149h1.15M262.43 152h1.15M285.43 149h1.15M249.43 150h1.15M254.43 153.5h1.15M266.93 148h1.15M259.93 152h1.15M276.93 155.5h1.15M289.93 150.5h1.15M280.43 152.5h1.15M255.93 151h1.15M302.43 150h1.15M294.43 155h1.15M294.93 150.5h1.15M284.43 151h1.15M255.93 149h1.15M277.43 145.5h1.15M276.43 149h1.15M276.43 146.5h1.15M283.43 151h1.15M249.93 148h1.15M272.43 145.5h1.15M275.93 155h1.15M262.43 160h1.15M291.93 153h1.15M277.93 154.5h1.15M267.93 159h1.15M263.93 142.5h1.15M271.93 155h1.15M282.93 147.5h1.15M290.93 148h1.15M280.43 155.5h1.15M273.93 158h1.15M264.43 162.5h1.15M278.43 150.5h1.15M307.93 150.5h1.15M248.93 161h1.15M293.43 149h1.15M257.43 159h1.15M272.43 148.5h1.15M264.93 153.5h1.15M285.43 159h1.15M262.93 160.5h1.15M250.43 157.5h1.15M269.43 155h1.15M265.43 150h1.15M275.43 157.5h1.15M240.43 155.5h1.15M265.93 148.5h1.15M252.43 156.5h1.15M279.43 155.5h1.15M243.43 148h1.15M262.93 151.5h1.15M296.43 149.5h1.15M273.43 157.5h1.15M294.93 153h1.15M276.43 161.5h1.15M265.93 145.5h1.15M260.93 152.5h1.15M289.93 153h1.15M288.43 152.5h1.15M271.93 150.5h1.15M254.43 156.5h1.15M276.43 155h1.15M263.93 151.5h1.15M276.93 155.5h1.15M299.43 147h1.15M285.43 156h1.15M267.93 154h1.15M270.93 160h1.15M307.43 152h1.15M267.93 157.5h1.15M278.43 151.5h1.15M281.93 156h1.15M265.93 157h1.15M239.93 149.5h1.15M267.43 154h1.15M250.93 161h1.15M266.43 154h1.15M270.93 156.5h1.15M263.43 157h1.15M259.93 147h1.15M278.93 153h1.15M283.93 143.5h1.15M272.93 150h1.15M268.93 151.5h1.15M266.43 150.5h1.15M285.93 144.5h1.15M247.93 156h1.15M299.93 147.5h1.15M258.93 148.5h1.15M257.43 159.5h1.15M280.93 156.5h1.15M276.43 153.5h1.15M263.43 149h1.15M280.43 163.5h1.15M266.43 159h1.15M261.93 154h1.15M295.43 151h1.15M280.43 150h1.15M297.93 145.5h1.15M279.43 151.5h1.15M274.43 154.5h1.15M289.93 155.5h1.15M286.43 153.5h1.15M256.43 160h1.15M292.93 153.5h1.15M282.43 151h1.15M251.43 158.5h1.15M261.43 162h1.15M281.43 152h1.15M262.93 154h1.15M257.43 152h1.15M293.93 150h1.15M297.43 151h1.15M277.43 148.5h1.15M267.43 151.5h1.15M251.93 163h1.15M279.93 152h1.15M255.93 154h1.15M256.93 149.5h1.15M268.93 163h1.15M246.93 157h1.15M263.93 140.5h1.15M251.93 153.5h1.15M272.43 149.5h1.15M296.43 153.5h1.15M262.43 146h1.15M273.93 150h1.15M285.93 147.5h1.15M288.43 150h1.15M274.43 151.5h1.15M280.43 157.5h1.15M263.93 149.5h1.15M297.93 155.5h1.15M298.43 155.5h1.15M273.43 160h1.15M261.93 151.5h1.15M265.93 156.5h1.15M259.43 153h1.15M259.43 152.5h1.15M287.43 157h1.15M268.43 164.5h1.15M261.43 155.5h1.15M264.93 143.5h1.15M254.93 159.5h1.15M247.93 167.5h1.15M269.93 154.5h1.15M288.93 152h1.15M262.43 151h1.15M258.43 156.5h1.15M264.93 155.5h1.15M250.43 152.5h1.15M300.43 152.5h1.15M269.93 158.5h1.15M275.43 159.5h1.15M254.93 157.5h1.15M256.43 157h1.15M305.93 157.5h1.15M259.43 155.5h1.15M277.93 149.5h1.15M274.93 148h1.15M284.93 156h1.15M268.93 156h1.15M304.93 150h1.15M244.93 156h1.15M264.93 150h1.15M283.93 156.5h1.15M279.93 160h1.15M262.43 151.5h1.15M277.43 140.5h1.15M232.93 157h1.15M268.43 153.5h1.15M257.93 155h1.15M286.43 149h1.15M279.43 152h1.15M268.93 153.5h1.15M292.43 154h1.15M280.93 153h1.15M240.93 159h1.15M270.93 153.5h1.15M264.43 146.5h1.15M292.43 160h1.15M293.43 143h1.15M278.93 147h1.15M268.93 151h1.15M262.43 150h1.15M264.43 157h1.15M293.93 155.5h1.15M270.93 152.5h1.15M267.93 153h1.15M262.43 153h1.15M283.43 151h1.15M259.93 153h1.15M272.43 152.5h1.15M267.43 156.5h1.15M270.43 148.5h1.15M279.43 149h1.15M281.93 156h1.15M277.93 154h1.15M251.93 153.5h1.15M272.93 155.5h1.15M255.43 153.5h1.15M249.43 155h1.15M272.43 153.5h1.15M294.43 154.5h1.15M268.43 150.5h1.15M264.93 157h1.15M283.93 150h1.15M269.43 151h1.15M280.93 153h1.15M260.93 149.5h1.15M289.43 145.5h1.15M245.43 141h1.15M299.93 148.5h1.15M283.43 154.5h1.15M282.93 157.5h1.15M264.43 153.5h1.15M284.93 154.5h1.15M260.43 150.5h1.15M250.93 155.5h1.15M263.43 146.5h1.15M263.43 155h1.15M273.93 152h1.15M273.43 156h1.15M253.93 150.5h1.15M284.93 155.5h1.15M251.43 151h1.15M291.93 155h1.15M268.93 157.5h1.15M290.93 158h1.15M251.43 148.5h1.15M263.93 153.5h1.15M265.93 154.5h1.15M292.43 156.5h1.15M285.43 152h1.15M294.93 153.5h1.15M274.43 152.5h1.15M244.93 164.5h1.15M270.93 157h1.15M303.43 150h1.15M254.43 158.5h1.15M274.43 148.5h1.15M284.93 152h1.15M257.93 142.5h1.15M256.93 155.5h1.15M256.43 158.5h1.15M302.43 152.5h1.15M274.43 152.5h1.15M283.43 152.5h1.15M285.93 158.5h1.15M283.43 148h1.15M280.93 151h1.15M275.43 157h1.15M261.93 154.5h1.15M292.43 148h1.15M268.43 156.5h1.15M267.93 158h1.15M256.93 147h1.15M276.43 152h1.15M275.93 157h1.15M286.43 150.5h1.15M265.43 144.5h1.15M257.43 155h1.15M274.43 146h1.15M282.43 152h1.15M286.93 150.5h1.15M284.93 147h1.15M244.43 151h1.15M281.43 154h1.15M243.93 155.5h1.15M280.93 160h1.15M282.43 154.5h1.15M248.43 156h1.15M242.93 153.5h1.15M265.93 149h1.15M256.43 153.5h1.15M279.43 149.5h1.15M275.43 156h1.15M270.93 161.5h1.15M266.93 150h1.15M243.93 159.5h1.15M280.93 151.5h1.15M275.43 152h1.15M283.93 152h1.15M274.43 152.5h1.15M258.43 144h1.15M278.93 147h1.15M276.93 155.5h1.15M298.43 148h1.15M273.43 157h1.15M261.43 151h1.15M277.43 162h1.15M286.43 156h1.15M257.43 157h1.15M287.43 146.5h1.15M271.43 152h1.15M280.43 144.5h1.15M281.43 152.5h1.15M267.43 144h1.15M241.43 152.5h1.15M280.43 154.5h1.15M281.93 144.5h1.15M273.93 159h1.15M248.93 157.5h1.15M260.93 156h1.15M272.43 145.5h1.15M255.93 159.5h1.15M269.43 158.5h1.15M275.93 156.5h1.15M265.43 154.5h1.15M265.93 157.5h1.15M262.93 158.5h1.15M293.93 146h1.15M268.93 155.5h1.15M296.43 156.5h1.15M272.43 145h1.15M283.43 149.5h1.15M273.93 154.5h1.15M250.93 159h1.15M284.43 154.5h1.15M279.93 154h1.15M250.93 152h1.15M282.93 151h1.15M271.43 154.5h1.15M272.43 154h1.15M277.93 152.5h1.15M255.43 153h1.15M284.93 149h1.15M277.93 154h1.15M258.43 141.5h1.15M270.93 149.5h1.15M261.93 157.5h1.15M259.93 155.5h1.15M272.93 154h1.15M299.93 142.5h1.15M284.93 151.5h1.15M266.93 150.5h1.15M271.93 153h1.15M257.93 161h1.15M260.43 153h1.15M252.93 155h1.15M276.43 157.5h1.15M285.43 150h1.15M293.93 151h1.15M293.43 159h1.15M265.43 148.5h1.15M278.93 159h1.15M276.93 157.5h1.15M279.43 156.5h1.15M289.93 150.5h1.15M250.93 154h1.15M259.93 148.5h1.15M268.93 156.5h1.15M244.93 148h1.15M282.43 148.5h1.15M265.43 159.5h1.15M287.43 153.5h1.15M278.93 140.5h1.15M278.93 154h1.15M251.43 155h1.15M277.43 152h1.15M282.43 156h1.15M271.93 152h1.15M254.43 159h1.15M262.93 155h1.15M292.93 155h1.15M252.93 154h1.15M260.93 146.5h1.15M259.43 156.5h1.15M275.93 152h1.15M273.43 147.5h1.15M259.93 153h1.15M282.43 151h1.15M268.93 154.5h1.15M291.93 146h1.15M278.93 153.5h1.15M269.93 154h1.15M242.93 155h1.15M267.93 148h1.15M282.93 151.5h1.15M266.43 156.5h1.15M257.93 150.5h1.15M282.93 156h1.15M299.93 149h1.15M250.43 148h1.15M253.93 154.5h1.15M267.93 150h1.15M256.43 151h1.15M265.93 158.5h1.15M279.93 158.5h1.15M282.93 155.5h1.15M287.93 154h1.15M292.93 156.5h1.15M296.93 152h1.15M259.93 165h1.15M266.93 155.5h1.15M265.93 150.5h1.15M277.43 147.5h1.15M268.93 159.5h1.15M272.93 156.5h1.15M280.43 154h1.15M272.43 155.5h1.15M257.43 156.5h1.15M255.93 150.5h1.15M262.43 147.5h1.15M242.93 156.5h1.15M278.43 155.5h1.15M302.43 151.5h1.15M281.93 149h1.15M280.93 147.5h1.15M299.43 147h1.15M265.43 156.5h1.15M239.43 161h1.15M257.43 155h1.15M284.93 153h1.15M284.43 150h1.15M279.43 143h1.15M292.43 148.5h1.15M258.93 154h1.15M295.43 148.5h1.15M270.93 151.5h1.15M257.93 148h1.15M279.43 155.5h1.15M260.43 154.5h1.15M277.43 154.5h1.15M268.43 153.5h1.15M274.93 148h1.15M268.93 156.5h1.15M262.93 159.5h1.15M267.43 148.5h1.15M266.93 147.5h1.15M279.93 145.5h1.15M271.43 152h1.15M266.43 155h1.15M274.93 150.5h1.15M282.93 150h1.15M283.93 158h1.15M276.43 156.5h1.15M251.93 157h1.15M249.43 153.5h1.15M293.93 130h1.15M263.43 147.5h1.15M259.93 153.5h1.15M292.93 141h1.15M266.43 139.5h1.15M264.93 138h1.15M248.43 158.5h1.15M297.43 143h1.15M286.93 144.5h1.15M301.43 160.5h1.15M228.43 151.5h1.15M266.43 149.5h1.15M311.93 158h1.15M279.43 155.5h1.15M246.43 153.5h1.15M273.43 150.5h1.15M285.43 139h1.15M257.93 169h1.15M243.43 156h1.15M294.43 152.5h1.15M280.43 139.5h1.15M269.93 141.5h1.15M319.93 148h1.15M294.43 150.5h1.15M271.43 160.5h1.15M297.93 153h1.15M291.43 154.5h1.15M273.43 155h1.15M280.93 149h1.15M292.93 164.5h1.15M237.43 166.5h1.15M270.43 160.5h1.15M258.43 152.5h1.15M300.93 147.5h1.15M286.93 141.5h1.15M255.93 166h1.15M282.93 150h1.15M250.93 147.5h1.15M257.93 153.5h1.15M276.93 147h1.15M265.43 153.5h1.15M303.93 138h1.15M249.93 163h1.15M249.93 152h1.15M281.93 163.5h1.15M237.43 136h1.15M277.93 159h1.15M282.43 145h1.15M283.43 136h1.15M296.43 159h1.15M275.43 157.5h1.15M257.43 164.5h1.15M265.93 147h1.15M263.43 140.5h1.15M293.43 163.5h1.15M249.93 153.5h1.15M288.93 146h1.15M246.93 157.5h1.15M300.43 149h1.15M257.43 152h1.15M239.43 156h1.15M304.93 155.5h1.15M277.43 154.5h1.15M268.93 153.5h1.15M266.93 154h1.15M268.93 154h1.15M293.93 149h1.15M252.43 158h1.15M274.43 148h1.15M290.93 143.5h1.15M298.93 152.5h1.15M264.93 148h1.15M276.93 145h1.15M298.93 132.5h1.15M282.43 148h1.15M256.93 158.5h1.15M269.43 155.5h1.15M270.43 150h1.15M290.43 156.5h1.15M299.93 148h1.15M309.93 144.5h1.15M251.43 141.5h1.15M249.43 149h1.15M242.43 158h1.15M279.93 150.5h1.15M284.43 149.5h1.15M274.43 149.5h1.15M280.43 143h1.15M305.93 158.5h1.15M279.93 167h1.15M259.43 160h1.15M245.93 159.5h1.15M263.93 160h1.15M281.93 157.5h1.15M291.93 153h1.15M273.93 163h1.15M286.93 153.5h1.15M308.93 145h1.15M315.43 154h1.15M280.93 140.5h1.15M304.43 145.5h1.15M281.43 151.5h1.15M299.43 153h1.15M241.93 151.5h1.15M286.93 151.5h1.15M295.93 153h1.15M312.93 141.5h1.15M306.43 150h1.15M285.93 155h1.15M272.43 157h1.15M275.43 156.5h1.15M263.93 161.5h1.15M247.93 150.5h1.15M278.43 153h1.15M262.93 150.5h1.15M284.93 157.5h1.15M306.43 144h1.15M277.93 149h1.15M247.93 152h1.15M302.93 138.5h1.15M315.43 147.5h1.15M231.93 160.5h1.15M312.43 142.5h1.15M305.93 153h1.15M295.93 154h1.15M291.43 154h1.15M303.93 150.5h1.15M292.43 152.5h1.15M282.43 144.5h1.15M242.43 149h1.15M253.93 144h1.15M293.93 147h1.15M305.93 169.5h1.15M295.43 145.5h1.15M287.43 148.5h1.15M285.43 165h1.15M312.43 155.5h1.15M285.43 163h1.15M296.43 155h1.15M255.43 150h1.15M282.93 149h1.15M268.93 138h1.15M263.93 152.5h1.15M285.93 142.5h1.15M276.93 164h1.15M282.93 136.5h1.15M275.93 151.5h1.15M305.93 149h1.15M307.93 149.5h1.15M303.93 157.5h1.15M311.43 148h1.15M292.93 177h1.15M254.43 156h1.15M289.43 144.5h1.15M296.93 147.5h1.15M295.93 150h1.15M260.43 161h1.15M320.93 152h1.15M285.43 138h1.15M286.43 150h1.15M263.43 139.5h1.15M288.93 156.5h1.15M294.43 165.5h1.15M240.43 158.5h1.15M278.93 161h1.15M278.93 144h1.15M278.43 154.5h1.15M264.43 147.5h1.15M284.93 156.5h1.15M274.93 155h1.15M269.43 150h1.15M283.43 157.5h1.15M312.43 146h1.15M288.93 164h1.15M296.93 146h1.15M287.93 139.5h1.15M236.43 151.5h1.15M264.93 143.5h1.15M300.93 145h1.15M281.43 151.5h1.15M275.43 143h1.15M319.43 131.5h1.15M278.93 156h1.15M275.43 151h1.15M285.93 152h1.15M272.93 159.5h1.15M289.93 160.5h1.15M281.43 136.5h1.15M245.93 152h1.15M288.93 138h1.15M267.93 161.5h1.15M286.43 145h1.15M277.43 152h1.15M270.93 150h1.15M266.93 154.5h1.15M312.43 157h1.15M254.43 171h1.15M277.43 141.5h1.15M249.43 156h1.15M284.43 146h1.15M263.43 151.5h1.15M284.93 155h1.15M291.43 132.5h1.15M267.43 154.5h1.15M287.43 155.5h1.15M249.43 166h1.15M255.43 153h1.15M270.43 149h1.15M263.93 159h1.15M295.93 151.5h1.15M253.93 150h1.15M278.43 154h1.15M268.43 150.5h1.15M333.43 144.5h1.15M273.93 134.5h1.15M264.43 164.5h1.15M296.93 140h1.15M295.93 150h1.15M263.43 159h1.15M267.43 150.5h1.15M280.43 152.5h1.15M270.93 154.5h1.15M279.93 152.5h1.15M287.93 145.5h1.15M251.93 154h1.15M304.93 150h1.15M284.43 145h1.15M256.43 145h1.15M260.93 151h1.15M248.43 154.5h1.15M247.93 160h1.15M279.43 138.5h1.15M268.43 154h1.15M287.43 155.5h1.15M272.43 151h1.15M274.93 155.5h1.15M265.93 151.5h1.15M282.93 148h1.15M257.93 163.5h1.15M289.93 143h1.15M319.93 140h1.15M261.93 150.5h1.15M290.93 160h1.15M307.93 151h1.15M280.93 155.5h1.15M263.93 148h1.15M290.43 151h1.15M284.43 143h1.15M284.93 140h1.15M298.43 148.5h1.15M266.93 149.5h1.15M265.43 162.5h1.15M220.93 167h1.15M280.43 153h1.15M260.43 144h1.15M284.43 147h1.15M289.93 157h1.15M277.43 155h1.15M283.43 152h1.15M269.43 154h1.15M288.43 150.5h1.15M270.43 142h1.15M257.93 165h1.15M300.43 150.5h1.15M285.93 149h1.15M293.43 156h1.15M274.93 154h1.15M299.43 137h1.15M260.93 149.5h1.15M256.43 151h1.15M262.43 150.5h1.15M289.43 141.5h1.15M281.93 160.5h1.15M283.93 142h1.15M267.43 161h1.15M274.43 147h1.15M295.93 144h1.15M257.43 158.5h1.15M280.43 146.5h1.15M289.43 157.5h1.15M301.93 149h1.15M288.93 153.5h1.15M249.93 167h1.15M266.43 149h1.15M263.43 146.5h1.15M301.93 148h1.15M267.93 139.5h1.15M283.43 150h1.15M258.93 153h1.15M242.93 160.5h1.15M255.43 158h1.15M281.93 135.5h1.15M257.43 149.5h1.15M295.93 153h1.15M292.43 161h1.15M273.93 148h1.15M241.93 148.5h1.15M291.43 143.5h1.15M261.93 160h1.15M229.93 167.5h1.15M280.43 168.5h1.15M270.93 179.5h1.15M275.93 176.5h1.15M264.43 188.5h1.15M258.93 185h1.15M272.93 178.5h1.15M275.93 181h1.15M275.43 170h1.15M253.93 185.5h1.15M278.93 184.5h1.15M265.93 177.5h1.15M252.93 174.5h1.15M259.93 185.5h1.15M264.93 174h1.15M264.43 181.5h1.15M256.93 190.5h1.15M270.93 185h1.15M266.93 176h1.15M277.93 183.5h1.15M258.93 176h1.15M274.93 176h1.15M252.43 184h1.15M271.93 175.5h1.15M265.93 186h1.15M274.43 171h1.15M273.93 187.5h1.15M276.43 178h1.15M269.93 172h1.15M258.93 180h1.15M289.43 175h1.15M254.43 192h1.15M279.93 169.5h1.15M263.43 173h1.15M277.43 166.5h1.15M286.93 170.5h1.15M253.43 194.5h1.15M271.93 181h1.15M275.43 173.5h1.15M275.93 177h1.15M271.93 180.5h1.15M281.43 170.5h1.15M249.93 188h1.15M292.93 177h1.15M263.93 185h1.15M251.93 185h1.15M246.43 186.5h1.15M273.93 187.5h1.15M259.93 187h1.15M280.93 172h1.15M262.43 172.5h1.15M255.43 185.5h1.15M242.43 185.5h1.15M273.93 186h1.15M236.93 190h1.15M258.43 171.5h1.15M253.93 187h1.15M265.43 184.5h1.15M262.43 185h1.15M254.43 179h1.15M263.93 173h1.15M279.93 176h1.15M254.43 179.5h1.15M254.43 184.5h1.15M261.43 186.5h1.15M252.43 184h1.15M248.43 183h1.15M281.43 176.5h1.15M275.93 178h1.15M252.93 179.5h1.15M252.93 186h1.15M268.43 195h1.15M284.93 180.5h1.15M254.43 184.5h1.15M255.43 195.5h1.15M257.43 189h1.15M249.93 188.5h1.15M251.43 182h1.15M267.43 181h1.15M264.93 181h1.15M255.93 183h1.15M264.93 176.5h1.15M271.93 180h1.15M256.93 189.5h1.15M258.93 173h1.15M279.93 175.5h1.15M282.43 179h1.15M255.43 189h1.15M270.93 184.5h1.15M265.93 188.5h1.15M276.43 176.5h1.15M248.43 185h1.15M266.43 176h1.15M263.43 189h1.15M260.43 188h1.15M254.93 179h1.15M276.43 177.5h1.15M267.93 185.5h1.15M284.43 170h1.15M272.43 180.5h1.15M267.43 189.5h1.15M262.93 178.5h1.15M271.43 169.5h1.15M269.93 175.5h1.15M269.43 176.5h1.15M271.43 178.5h1.15M257.43 186h1.15M274.43 171h1.15M250.93 183.5h1.15M261.43 188.5h1.15M283.93 179h1.15M277.93 176h1.15M249.93 186.5h1.15M245.43 194h1.15M268.43 186h1.15M258.43 175h1.15M263.43 184h1.15M262.93 179h1.15M266.43 180h1.15M281.43 170.5h1.15M240.43 187h1.15M268.93 172.5h1.15M264.93 183.5h1.15M269.43 181.5h1.15M256.93 176h1.15M276.43 176.5h1.15M249.93 192.5h1.15M273.93 165h1.15M295.43 174.5h1.15M246.93 190.5h1.15M269.43 186.5h1.15M265.93 172.5h1.15M263.43 179.5h1.15M268.93 179h1.15M271.93 173.5h1.15M259.43 180h1.15M270.43 171.5h1.15M265.43 193h1.15M244.93 191.5h1.15M266.93 185.5h1.15M265.93 182h1.15M269.93 182h1.15M251.93 184h1.15M286.43 183h1.15M255.93 178.5h1.15M263.43 187h1.15M275.93 175.5h1.15M238.43 187.5h1.15M246.43 192h1.15M282.43 180h1.15M272.43 182h1.15M286.93 181h1.15M281.93 171h1.15M259.43 182.5h1.15M239.93 186h1.15M265.43 180.5h1.15M294.43 172.5h1.15M263.43 181h1.15M261.43 175h1.15M278.43 178h1.15M269.93 180h1.15M256.43 175h1.15M262.43 184.5h1.15M263.93 185h1.15M256.43 182h1.15M267.43 180h1.15M267.43 187.5h1.15M260.93 183h1.15M257.93 185.5h1.15M267.93 176.5h1.15M253.93 178h1.15M262.43 182.5h1.15M259.93 182h1.15M266.93 192.5h1.15M278.93 189h1.15M266.93 181.5h1.15M287.93 177.5h1.15M272.93 176.5h1.15M259.43 186.5h1.15M258.43 179.5h1.15M248.43 187h1.15M264.43 184h1.15M255.43 177.5h1.15M278.43 178h1.15M274.43 173h1.15M250.43 172h1.15M268.93 185h1.15M280.93 186h1.15M244.43 181h1.15M259.43 178.5h1.15M262.93 177.5h1.15M248.43 185h1.15M266.93 177h1.15M265.93 174.5h1.15M261.93 180.5h1.15M260.43 182h1.15M250.93 178h1.15M255.93 187h1.15M254.43 179h1.15M288.43 174h1.15M260.93 177.5h1.15M282.43 179.5h1.15M268.43 188h1.15M251.93 176h1.15M278.43 180h1.15M259.43 186.5h1.15M264.43 191h1.15M250.93 186.5h1.15M276.93 182.5h1.15M261.43 180h1.15M260.43 185.5h1.15M260.93 181.5h1.15M277.43 177.5h1.15M268.43 179.5h1.15M265.43 170h1.15M254.43 185.5h1.15M257.93 180h1.15M265.93 192.5h1.15M256.93 178.5h1.15M244.93 188.5h1.15M264.93 177h1.15M260.93 187h1.15M277.43 180h1.15M278.93 183h1.15M259.93 186.5h1.15M267.43 184.5h1.15M268.43 191h1.15M250.93 186.5h1.15M252.93 196h1.15M259.43 180.5h1.15M265.43 181h1.15M284.93 176h1.15M268.43 185.5h1.15M282.93 172h1.15M268.93 173.5h1.15M270.93 186.5h1.15M259.43 181h1.15M278.93 180h1.15M274.93 176.5h1.15M261.93 180h1.15M283.43 169h1.15M259.43 190.5h1.15M264.43 175.5h1.15M267.93 179h1.15M263.93 184h1.15M274.43 171h1.15M267.93 188h1.15M249.93 184.5h1.15M251.93 187.5h1.15M255.43 182h1.15M260.43 184.5h1.15M250.43 177.5h1.15M267.43 187.5h1.15M259.43 184.5h1.15M268.43 181h1.15M264.93 178.5h1.15M262.43 188h1.15M270.43 186h1.15M256.93 183.5h1.15M257.93 176h1.15M275.93 177h1.15M268.43 173h1.15M262.43 181h1.15M260.93 187.5h1.15M270.93 180.5h1.15M267.93 178h1.15M257.43 181.5h1.15M253.43 183h1.15M263.93 187h1.15M260.43 194.5h1.15M259.43 183h1.15M264.93 178h1.15M264.43 172h1.15M278.43 175h1.15M264.93 172h1.15M271.93 173h1.15M280.93 172h1.15M256.93 186.5h1.15M279.93 167.5h1.15M245.93 194h1.15M270.43 172h1.15M260.43 186h1.15M260.93 190h1.15M256.93 184h1.15M278.43 185h1.15M267.93 183.5h1.15M261.43 181.5h1.15M258.93 184.5h1.15M274.93 173.5h1.15M251.93 184.5h1.15M288.43 176.5h1.15M266.93 180.5h1.15M245.93 182h1.15M282.93 166h1.15M285.93 169.5h1.15M288.93 188.5h1.15M282.43 176h1.15M271.93 176.5h1.15M259.93 183.5h1.15M228.93 193h1.15M261.93 176.5h1.15M261.93 185h1.15M256.43 185h1.15M249.93 185.5h1.15M251.93 188h1.15M253.43 187h1.15M242.43 187.5h1.15M277.93 173.5h1.15M265.93 176.5h1.15M270.93 183.5h1.15M278.43 184.5h1.15M280.43 173.5h1.15M266.43 183.5h1.15M267.43 174h1.15M288.43 188h1.15M265.93 167.5h1.15M286.43 175h1.15M291.43 169h1.15M271.43 183.5h1.15M248.93 183.5h1.15M270.93 183h1.15M269.93 166.5h1.15M237.93 189.5h1.15M283.93 168.5h1.15M269.93 184.5h1.15M253.93 175.5h1.15M268.43 178h1.15M264.43 180h1.15M263.93 183h1.15M259.43 182.5h1.15M258.93 178h1.15M269.43 175.5h1.15M271.43 179.5h1.15M277.93 181h1.15M242.43 186.5h1.15M272.93 179.5h1.15M265.93 186.5h1.15M272.93 172h1.15M266.43 186h1.15M266.93 174h1.15M274.43 182h1.15M278.43 178.5h1.15M266.43 185h1.15M252.43 193h1.15M269.93 181h1.15M273.93 183h1.15M239.93 192h1.15M263.93 177.5h1.15M275.93 183.5h1.15M269.43 176.5h1.15M266.43 176h1.15M294.43 170.5h1.15M275.43 187h1.15M255.43 180.5h1.15M239.43 186h1.15M249.93 185.5h1.15M262.93 181.5h1.15M265.93 178.5h1.15M266.43 180.5h1.15M256.93 181.5h1.15M258.93 176h1.15M264.93 171.5h1.15M271.43 179.5h1.15M267.43 186.5h1.15M276.43 176h1.15M269.43 186h1.15M263.43 183.5h1.15M269.93 174.5h1.15M268.43 178h1.15M262.43 184h1.15M272.93 174.5h1.15M262.43 180.5h1.15M254.43 185.5h1.15M262.93 178h1.15M275.93 178h1.15M251.93 184h1.15M262.93 183h1.15M291.43 177.5h1.15M281.93 176h1.15M270.93 182h1.15M263.93 182.5h1.15M235.43 193.5h1.15M231.43 202h1.15M238.43 190h1.15M240.43 174.5h1.15M242.93 179.5h1.15M240.93 183.5h1.15M236.93 176h1.15M227.93 186h1.15M229.93 191.5h1.15M227.43 192h1.15M243.93 180h1.15M230.93 186.5h1.15M245.93 195.5h1.15M257.93 182.5h1.15M244.43 187h1.15M238.93 179h1.15M236.43 196.5h1.15M251.43 179h1.15M225.43 205h1.15M239.43 190.5h1.15M237.93 173.5h1.15M241.93 179h1.15M236.93 183h1.15M236.93 206h1.15M252.43 169h1.15M225.93 186.5h1.15M233.43 194.5h1.15M252.93 178h1.15M244.43 184h1.15M222.43 200.5h1.15M254.43 177h1.15M244.93 181.5h1.15M238.43 183.5h1.15M237.93 187.5h1.15M233.93 190.5h1.15M227.93 196h1.15M230.93 175h1.15M246.43 182.5h1.15M234.93 195h1.15M238.93 202h1.15M242.93 175h1.15M234.93 183h1.15M236.93 200.5h1.15M262.93 193.5h1.15M243.43 190h1.15M240.93 170h1.15M251.43 199h1.15M234.93 188h1.15M232.93 187h1.15M231.93 180.5h1.15M249.93 169.5h1.15M248.43 176h1.15M236.93 172.5h1.15M244.93 178h1.15M260.93 174h1.15M241.43 191.5h1.15M230.93 183h1.15M229.93 193.5h1.15M241.93 194h1.15M226.93 183.5h1.15M238.43 184h1.15M241.93 195h1.15M240.43 180.5h1.15M238.93 181.5h1.15M233.43 202.5h1.15M244.93 199.5h1.15M237.43 187h1.15M228.43 191.5h1.15M245.43 190.5h1.15M229.43 190.5h1.15M247.43 181.5h1.15M245.43 181.5h1.15M239.43 182.5h1.15M226.43 184h1.15M240.93 184.5h1.15M239.43 182.5h1.15M246.93 183.5h1.15M242.93 182.5h1.15M250.43 183h1.15M242.93 202.5h1.15M242.93 174h1.15M233.43 191h1.15M227.93 179h1.15M238.43 175.5h1.15M248.93 188h1.15M236.43 197h1.15M233.43 179.5h1.15M246.93 185h1.15M237.43 195.5h1.15M237.93 192h1.15M241.43 195.5h1.15M243.93 182h1.15M252.43 181h1.15M254.43 173.5h1.15M239.93 170h1.15M243.93 196h1.15M235.93 191.5h1.15M237.43 198.5h1.15M242.43 189h1.15M248.93 173h1.15M245.43 186.5h1.15M250.43 184h1.15M244.43 185h1.15M230.93 185.5h1.15M237.93 177.5h1.15M238.93 183.5h1.15M254.93 181h1.15M240.43 187.5h1.15M245.43 173h1.15M224.43 203h1.15M231.93 182h1.15M249.43 186.5h1.15M232.43 194.5h1.15M229.43 202h1.15M236.43 190.5h1.15M239.43 201.5h1.15M230.93 188.5h1.15M257.93 166.5h1.15M234.93 190h1.15M237.43 191h1.15M249.43 176h1.15M233.93 198.5h1.15M256.43 162.5h1.15M243.93 193.5h1.15M233.43 182h1.15M229.43 188h1.15M229.43 195h1.15M233.43 192.5h1.15M225.93 197.5h1.15M244.93 192.5h1.15M248.93 208.5h1.15M225.43 156.5h1.15M325.43 189h1.15M249.43 191h1.15M276.93 133.5h1.15M235.43 129h1.15M254.43 162h1.15M326.43 205h1.15M282.43 185h1.15M289.43 198h1.15M263.43 183.5h1.15M247.43 145.5h1.15" stroke="#1c1c1c" stroke-width="1.15" fill="none"/>
<rect x="207.5" y="102.5" width="129" height="123" fill="none" stroke="#111" stroke-width="1.25"/>
<path d="M244.5 102.5V225.5M207.5 168.5H336.5" stroke="#111" stroke-width="1.4" fill="none"/>
<path d="M207.5 225.5v4.2M207.5 225.5h-4.2M217.21 225.5v2.4M207.5 216.24h-2.4M222.89 225.5v2.4M207.5 210.83h-2.4M226.92 225.5v2.4M207.5 206.99h-2.4M230.04 225.5v2.4M207.5 204.01h-2.4M232.6 225.5v2.4M207.5 201.57h-2.4M234.75 225.5v2.4M207.5 199.51h-2.4M236.62 225.5v2.4M207.5 197.73h-2.4M238.27 225.5v2.4M207.5 196.16h-2.4M239.75 225.5v4.2M207.5 194.75h-4.2M249.46 225.5v2.4M207.5 185.49h-2.4M255.14 225.5v2.4M207.5 180.08h-2.4M259.17 225.5v2.4M207.5 176.24h-2.4M262.29 225.5v2.4M207.5 173.26h-2.4M264.85 225.5v2.4M207.5 170.82h-2.4M267 225.5v2.4M207.5 168.76h-2.4M268.87 225.5v2.4M207.5 166.98h-2.4M270.52 225.5v2.4M207.5 165.41h-2.4M272 225.5v4.2M207.5 164h-4.2M281.71 225.5v2.4M207.5 154.74h-2.4M287.39 225.5v2.4M207.5 149.33h-2.4M291.42 225.5v2.4M207.5 145.49h-2.4M294.54 225.5v2.4M207.5 142.51h-2.4M297.1 225.5v2.4M207.5 140.07h-2.4M299.25 225.5v2.4M207.5 138.01h-2.4M301.12 225.5v2.4M207.5 136.23h-2.4M302.77 225.5v2.4M207.5 134.66h-2.4M304.25 225.5v4.2M207.5 133.25h-4.2M313.96 225.5v2.4M207.5 123.99h-2.4M319.64 225.5v2.4M207.5 118.58h-2.4M323.67 225.5v2.4M207.5 114.74h-2.4M326.79 225.5v2.4M207.5 111.76h-2.4M329.35 225.5v2.4M207.5 109.32h-2.4M331.5 225.5v2.4M207.5 107.26h-2.4M333.37 225.5v2.4M207.5 105.48h-2.4M335.02 225.5v2.4M207.5 103.91h-2.4M336.5 225.5v4.2M207.5 102.5h-4.2" stroke="#111" stroke-width="1" fill="none"/>
<text x="202.4" y="239.1" font-size="8" stroke="#000" stroke-width="0.45" textLength="12.5" lengthAdjust="spacingAndGlyphs">10<tspan dy="-3.6" dx="0.3">0</tspan></text>
<text x="200.5" y="231.8" font-size="8" stroke="#000" stroke-width="0.45" textLength="12.5" lengthAdjust="spacingAndGlyphs" transform="rotate(-90 200.5 231.8)">10<tspan dy="-3.6" dx="0.3">0</tspan></text>
<text x="233.75" y="239.1" font-size="8" stroke="#000" stroke-width="0.45" textLength="12.5" lengthAdjust="spacingAndGlyphs">10<tspan dy="-3.6" dx="0.3">1</tspan></text>
<text x="200.5" y="201.05" font-size="8" stroke="#000" stroke-width="0.45" textLength="12.5" lengthAdjust="spacingAndGlyphs" transform="rotate(-90 200.5 201.05)">10<tspan dy="-3.6" dx="0.3">1</tspan></text>
<text x="266" y="239.1" font-size="8" stroke="#000" stroke-width="0.45" textLength="12.5" lengthAdjust="spacingAndGlyphs">10<tspan dy="-3.6" dx="0.3">2</tspan></text>
<text x="200.5" y="170.3" font-size="8" stroke="#000" stroke-width="0.45" textLength="12.5" lengthAdjust="spacingAndGlyphs" transform="rotate(-90 200.5 170.3)">10<tspan dy="-3.6" dx="0.3">2</tspan></text>
<text x="298.25" y="239.1" font-size="8" stroke="#000" stroke-width="0.45" textLength="12.5" lengthAdjust="spacingAndGlyphs">10<tspan dy="-3.6" dx="0.3">3</tspan></text>
<text x="200.5" y="139.55" font-size="8" stroke="#000" stroke-width="0.45" textLength="12.5" lengthAdjust="spacingAndGlyphs" transform="rotate(-90 200.5 139.55)">10<tspan dy="-3.6" dx="0.3">3</tspan></text>
<text x="330.5" y="239.1" font-size="8" stroke="#000" stroke-width="0.45" textLength="12.5" lengthAdjust="spacingAndGlyphs">10<tspan dy="-3.6" dx="0.3">4</tspan></text>
<text x="200.5" y="108.8" font-size="8" stroke="#000" stroke-width="0.45" textLength="12.5" lengthAdjust="spacingAndGlyphs" transform="rotate(-90 200.5 108.8)">10<tspan dy="-3.6" dx="0.3">4</tspan></text>
<text x="219.6" y="95" font-size="18" font-weight="bold" textLength="98.4" lengthAdjust="spacingAndGlyphs">CD4<tspan font-size="12" dy="-4.2">+</tspan><tspan dy="4.2">CD25</tspan><tspan font-size="12" dy="-4.2">+</tspan></text>
<text x="302.46" y="120.7" font-size="13.8" textLength="27.03" lengthAdjust="spacingAndGlyphs">85%</text>
<text x="186.7" y="196.44" font-size="16.5" textLength="33.57" lengthAdjust="spacingAndGlyphs" transform="rotate(-90 186.7 196.44)">CD4</text>
<text x="249.18" y="255.7" font-size="16" textLength="41.9" lengthAdjust="spacingAndGlyphs">CD25</text>
<path d="M336.3 132.4L359.78 101.29" stroke="#000" stroke-width="2.4" fill="none"/>
<path d="M364.6 94.9L362.93 104.92L355.43 99.25Z" fill="#000"/>
<path d="M336.5 193.5L359.37 219.95" stroke="#000" stroke-width="2.4" fill="none"/>
<path d="M364.6 226L355.23 222.2L362.19 216.18Z" fill="#000"/>
<path d="M434.93 75h1.15M433.93 76h1.15M437.43 71.5h1.15M431.43 68.5h1.15M435.93 67.5h1.15M434.93 71h1.15M438.93 68h1.15M435.43 69.5h1.15M433.43 73.5h1.15M437.93 66h1.15M439.43 78h1.15M435.43 73h1.15M432.43 70.5h1.15M435.93 71h1.15M438.93 67.5h1.15M434.43 73.5h1.15M434.93 70.5h1.15M434.93 73h1.15M429.93 81.5h1.15M437.43 67h1.15M432.93 68h1.15M436.43 64.5h1.15M441.93 68h1.15M431.43 79h1.15M435.43 73h1.15M434.93 70.5h1.15M440.93 63h1.15M435.93 68.5h1.15M434.43 71.5h1.15M430.43 74.5h1.15M435.93 73h1.15M433.43 74h1.15M433.93 74h1.15M438.93 72.5h1.15M431.43 72.5h1.15M432.43 78.5h1.15M435.93 67h1.15M430.93 77h1.15M432.43 73.5h1.15M434.43 71h1.15M433.93 71.5h1.15M439.43 67.5h1.15M436.43 72.5h1.15M433.43 68h1.15M432.93 74h1.15M435.43 74.5h1.15M436.43 71.5h1.15M435.43 72h1.15M435.43 73.5h1.15M432.93 75.5h1.15M439.43 70h1.15M436.93 67h1.15M435.43 66.5h1.15M437.93 71h1.15M437.93 74.5h1.15M433.43 74.5h1.15M439.43 78h1.15M434.93 73h1.15M433.43 74h1.15M436.93 76h1.15M434.93 71.5h1.15M436.43 70.5h1.15M440.93 62.5h1.15M430.43 71h1.15M436.93 71h1.15M436.43 66h1.15M436.93 72.5h1.15M439.43 73h1.15M433.43 69h1.15M432.43 70.5h1.15M434.93 75.5h1.15M439.93 70.5h1.15M436.93 70.5h1.15M431.93 74h1.15M433.43 66.5h1.15M432.93 77h1.15M431.93 76.5h1.15M431.43 72h1.15M436.43 69.5h1.15M432.43 72h1.15M439.93 72.5h1.15M435.93 73h1.15M438.43 75h1.15M434.43 68.5h1.15M432.43 72h1.15M434.43 71.5h1.15M433.43 80h1.15M433.43 76.5h1.15M432.93 69h1.15M431.93 68.5h1.15M430.93 69.5h1.15M434.43 74h1.15M430.43 74h1.15M434.93 71.5h1.15M429.43 74.5h1.15M436.93 74.5h1.15M434.43 75.5h1.15M435.43 68h1.15M436.43 74h1.15M435.93 71h1.15M434.43 73.5h1.15M430.43 73.5h1.15M431.93 70.5h1.15M435.93 75.5h1.15M435.43 68h1.15M442.43 70.5h1.15M427.93 73h1.15M433.43 70h1.15M437.93 78h1.15M435.43 67h1.15M437.43 71h1.15M433.93 72.5h1.15M431.93 73h1.15M436.43 75h1.15M440.43 68h1.15M436.43 68.5h1.15M435.43 75h1.15M436.93 70h1.15M439.93 73h1.15M438.43 71h1.15M438.93 70h1.15M437.43 71h1.15M435.43 66h1.15M437.93 72.5h1.15M433.43 72h1.15M436.93 73h1.15M429.43 77.5h1.15M432.43 78.5h1.15M438.43 71h1.15M435.93 72h1.15M433.93 76.5h1.15M433.43 70h1.15M434.43 66h1.15M437.93 66.5h1.15M439.43 73.5h1.15M440.93 68h1.15M434.43 70h1.15M437.43 68h1.15M434.43 64h1.15M435.43 72h1.15M440.43 67h1.15M437.93 72.5h1.15M437.43 67h1.15M425.93 72h1.15M437.93 71h1.15M439.43 77.5h1.15M433.43 70.5h1.15M439.43 64.5h1.15M428.43 74h1.15M435.93 76h1.15M437.43 70.5h1.15M433.93 65.5h1.15M436.93 69h1.15M434.43 72.5h1.15M429.43 72.5h1.15M433.43 78.5h1.15M434.93 75h1.15M432.43 66.5h1.15M437.93 69.5h1.15M431.43 76h1.15M436.43 65h1.15M434.43 78.5h1.15M435.43 66.5h1.15M432.93 76.5h1.15M439.43 72.5h1.15M430.93 75h1.15M432.93 70h1.15M433.93 75.5h1.15M436.43 73h1.15M433.93 70h1.15M438.43 68.5h1.15M434.43 73.5h1.15M434.93 75h1.15M436.93 73h1.15M441.43 68h1.15M440.93 65.5h1.15M432.93 63.5h1.15M433.43 69h1.15M437.43 75h1.15M441.43 68h1.15M438.43 70h1.15M429.93 58.5h1.15M434.43 65h1.15M437.43 67.5h1.15M436.93 68.5h1.15M436.43 67.5h1.15M436.43 77.5h1.15M436.43 66.5h1.15M432.93 72.5h1.15M437.43 66.5h1.15M432.93 66.5h1.15M439.93 71h1.15M435.93 69.5h1.15M440.43 72h1.15M434.93 75.5h1.15M436.93 70h1.15M434.43 71.5h1.15M438.93 65.5h1.15M430.43 75h1.15M438.43 75.5h1.15M436.93 65.5h1.15M437.43 71.5h1.15M432.43 66.5h1.15M430.93 72.5h1.15M431.43 73.5h1.15M434.93 73.5h1.15M437.43 67.5h1.15M434.43 74h1.15M433.43 75.5h1.15M436.93 74h1.15M433.43 74.5h1.15M434.43 72h1.15M436.93 69h1.15M434.93 63h1.15M433.43 74h1.15M432.43 64.5h1.15M431.43 71.5h1.15M436.93 72.5h1.15M431.43 73.5h1.15M431.93 76h1.15M436.43 69h1.15M433.93 71.5h1.15M433.43 76h1.15M435.93 69h1.15M436.43 66h1.15M435.93 70h1.15M433.43 71.5h1.15M435.93 66h1.15M436.43 81.5h1.15M437.43 68.5h1.15M436.43 77h1.15M432.43 78h1.15M434.43 78h1.15M432.93 75.5h1.15M433.93 76h1.15M437.93 72h1.15M432.93 75.5h1.15M436.43 67.5h1.15M436.93 70.5h1.15M434.93 68h1.15M435.93 74h1.15M432.93 74.5h1.15M430.43 73h1.15M435.93 68h1.15M435.43 66.5h1.15M440.43 71.5h1.15M438.43 67.5h1.15M428.93 72.5h1.15M438.93 70h1.15M438.43 72h1.15M435.93 74.5h1.15M433.43 70.5h1.15M438.43 72h1.15M433.93 68h1.15M439.43 59h1.15M437.93 70h1.15M431.93 73.5h1.15M436.43 79h1.15M435.93 62.5h1.15M432.93 74.5h1.15M433.93 71.5h1.15M434.93 76.5h1.15M435.93 70.5h1.15M433.43 75h1.15M433.43 73h1.15M436.43 73.5h1.15M437.43 71.5h1.15M440.43 72.5h1.15M433.43 68.5h1.15M433.43 76.5h1.15M432.43 77.5h1.15M436.43 69h1.15M432.43 71.5h1.15M437.43 70.5h1.15M436.93 71.5h1.15M438.93 68.5h1.15M434.93 67.5h1.15M434.43 68h1.15M431.43 71.5h1.15M436.93 63h1.15M431.93 67h1.15M436.43 73h1.15M435.93 70.5h1.15M433.43 72.5h1.15M432.93 71h1.15M436.43 70h1.15M438.43 63h1.15M430.93 76h1.15M433.93 70h1.15M433.93 71.5h1.15M434.93 72.5h1.15M437.93 77h1.15M429.43 72.5h1.15M432.93 72.5h1.15M432.43 72h1.15M435.93 71h1.15M435.93 73.5h1.15M432.43 72h1.15M437.93 74h1.15M437.93 67.5h1.15M433.43 75h1.15M435.43 72.5h1.15M434.43 74.5h1.15M435.93 67.5h1.15M436.43 70h1.15M434.43 73.5h1.15M435.43 69h1.15M431.93 70.5h1.15M434.93 67h1.15M433.43 80h1.15M433.43 72h1.15M431.93 71h1.15M435.93 71.5h1.15M430.93 72.5h1.15M432.43 75.5h1.15M434.93 77h1.15M436.43 67h1.15M437.93 69h1.15M434.93 71.5h1.15M431.93 76h1.15M435.43 67.5h1.15M431.43 74h1.15M438.43 72h1.15M435.93 69.5h1.15M437.93 72.5h1.15M432.93 69.5h1.15M429.43 76.5h1.15M442.93 69h1.15M436.43 73.5h1.15M434.43 79h1.15M432.43 69h1.15M439.43 73.5h1.15M437.43 70.5h1.15M434.93 72h1.15M436.43 69h1.15M437.93 76.5h1.15M433.93 68.5h1.15M435.43 80h1.15M432.93 76.5h1.15M433.43 69h1.15M437.93 70h1.15M434.93 74h1.15M438.43 71.5h1.15M439.43 68h1.15M433.93 74h1.15M436.93 65h1.15M434.43 74h1.15M434.93 77.5h1.15M430.93 73h1.15M432.93 66.5h1.15M434.43 71.5h1.15M433.93 69.5h1.15M437.43 67h1.15M433.43 67h1.15M438.43 65.5h1.15M439.93 67h1.15M434.93 77h1.15M432.43 76.5h1.15M431.93 70.5h1.15M436.93 72h1.15M435.93 72h1.15M439.43 64.5h1.15M433.43 75h1.15M431.43 70h1.15M441.43 74.5h1.15M436.43 71.5h1.15M434.93 68.5h1.15M432.93 68.5h1.15M431.93 72.5h1.15M436.43 68h1.15M435.43 66.5h1.15M436.43 70h1.15M434.93 72h1.15M438.43 71h1.15M433.43 72.5h1.15M436.43 73h1.15M437.93 68h1.15M431.93 74.5h1.15M432.43 73.5h1.15M442.43 74h1.15M431.43 69.5h1.15M436.43 70h1.15M436.93 71.5h1.15M435.93 73h1.15M430.93 76.5h1.15M431.43 69h1.15M428.93 73h1.15M436.43 70h1.15M431.93 64.5h1.15M436.93 67h1.15M434.43 72.5h1.15M434.93 73h1.15M439.43 72.5h1.15M432.43 72h1.15M434.43 68.5h1.15M436.93 69.5h1.15M435.93 73.5h1.15M440.93 68h1.15M436.93 78.5h1.15M439.43 71.5h1.15M433.43 72.5h1.15M433.43 70.5h1.15M430.43 71.5h1.15M429.93 76h1.15M436.43 69.5h1.15M435.43 72h1.15M434.43 72.5h1.15M434.93 73h1.15M432.93 72h1.15M439.93 67.5h1.15M432.93 75h1.15M435.93 71.5h1.15M435.93 70h1.15M433.93 73.5h1.15M435.93 73.5h1.15M436.43 79h1.15M435.43 76h1.15M435.43 79h1.15M437.93 68h1.15M439.43 68.5h1.15M437.93 68h1.15M436.43 71.5h1.15M438.93 63h1.15M429.93 76h1.15M437.43 69h1.15M435.43 65.5h1.15M434.43 69.5h1.15M437.43 71.5h1.15M434.93 75.5h1.15M433.43 74.5h1.15M434.43 73h1.15M434.43 76.5h1.15M433.93 78.5h1.15M437.43 68h1.15M433.93 76.5h1.15M438.93 66h1.15M435.93 73.5h1.15M441.43 72h1.15M434.93 75h1.15M435.43 68.5h1.15M434.93 70.5h1.15M434.93 72h1.15M436.43 68.5h1.15M436.93 65.5h1.15M436.93 72.5h1.15M436.43 66h1.15M433.93 72.5h1.15M436.43 73.5h1.15M430.93 72.5h1.15M437.93 66.5h1.15M431.93 70.5h1.15M434.43 70.5h1.15M438.43 71.5h1.15M429.93 75.5h1.15M435.43 74.5h1.15M435.43 76.5h1.15M435.43 69.5h1.15M431.93 75.5h1.15M434.93 65.5h1.15M437.43 75.5h1.15M429.43 75h1.15M436.93 77h1.15M438.43 68h1.15M436.43 74h1.15M431.43 77.5h1.15M436.43 74h1.15M432.93 75h1.15M434.93 70.5h1.15M435.43 72.5h1.15M431.43 72.5h1.15M436.43 65.5h1.15M439.93 79.5h1.15M436.93 71h1.15M432.43 68.5h1.15M431.93 75.5h1.15M432.93 73h1.15M433.93 75h1.15M438.43 74h1.15M436.93 75h1.15M439.93 67.5h1.15M437.43 67h1.15M436.43 70h1.15M436.43 75h1.15M428.43 60h1.15M437.43 76.5h1.15M433.93 80.5h1.15M448.93 66.5h1.15M434.93 74.5h1.15M440.43 61.5h1.15M438.93 59h1.15M429.93 75h1.15M437.93 64h1.15M436.43 78.5h1.15M426.43 78.5h1.15M443.43 61h1.15M442.93 71h1.15M434.43 72.5h1.15M435.93 71.5h1.15M434.93 68h1.15M441.43 79h1.15M434.93 79.5h1.15M431.43 66h1.15M439.43 71.5h1.15M438.43 65h1.15M433.93 78h1.15M444.93 69h1.15M438.43 56h1.15M432.43 80h1.15M446.93 62.5h1.15M421.43 80h1.15M428.43 72h1.15M432.43 71h1.15M430.43 77.5h1.15M437.93 63.5h1.15M426.93 86.5h1.15M439.43 71.5h1.15M426.43 87.5h1.15M429.93 74.5h1.15M437.93 66.5h1.15M436.43 68.5h1.15M423.93 68.5h1.15M432.43 70h1.15M438.43 79.5h1.15M434.43 84h1.15M433.43 73h1.15M434.43 62.5h1.15M435.43 70.5h1.15M430.93 77.5h1.15M438.43 69h1.15M430.93 75h1.15M431.43 68.5h1.15M432.93 78h1.15M434.43 71h1.15M433.93 75.5h1.15M434.93 76.5h1.15M434.93 76.5h1.15M433.93 68h1.15M438.43 69.5h1.15M433.43 80.5h1.15M432.93 68.5h1.15M433.93 80.5h1.15M428.43 81h1.15M438.93 68h1.15M433.93 68.5h1.15M424.43 71h1.15M427.93 66h1.15M433.43 76h1.15M430.43 72h1.15M431.43 72h1.15M437.93 77.5h1.15M439.43 72.5h1.15M443.43 72.5h1.15M438.43 73.5h1.15M440.43 64h1.15M430.93 74h1.15M425.43 74h1.15M433.93 74h1.15M439.93 77.5h1.15M422.43 78h1.15M437.43 79h1.15M431.93 75.5h1.15M434.93 66.5h1.15M436.93 76.5h1.15M433.93 73h1.15M441.93 68h1.15M433.93 74h1.15M438.43 73h1.15M442.93 71.5h1.15M428.93 65.5h1.15M434.93 81h1.15M435.93 69h1.15M437.43 74h1.15M442.93 61.5h1.15M439.93 71h1.15M440.43 76h1.15M422.93 82h1.15M438.43 66h1.15M434.93 78h1.15M426.93 80h1.15M440.43 79.5h1.15M430.93 70h1.15M441.43 68h1.15M437.93 56h1.15M449.43 56h1.15M426.43 78h1.15M438.43 66h1.15M422.93 80h1.15M436.93 66h1.15M436.43 68h1.15M429.93 78h1.15M435.43 72h1.15M428.43 70.5h1.15M433.93 69h1.15M437.43 71h1.15M434.43 71h1.15M437.93 76.5h1.15M429.43 79.5h1.15M440.93 74h1.15M432.43 74h1.15M447.43 59.5h1.15M440.43 68.5h1.15M444.93 68.5h1.15M440.43 66h1.15M432.93 82h1.15M428.43 71.5h1.15M433.93 65h1.15M438.93 63.5h1.15M435.93 70h1.15M422.93 77.5h1.15M426.93 75.5h1.15M422.43 74h1.15M440.43 71.5h1.15M441.93 78h1.15M439.93 69h1.15M434.93 75.5h1.15M428.43 68.5h1.15M435.43 81.5h1.15M429.43 75.5h1.15M431.43 77.5h1.15M437.43 70.5h1.15M440.93 68h1.15M425.93 87.5h1.15M434.93 73.5h1.15M439.93 65.5h1.15M432.93 68.5h1.15M438.93 72.5h1.15M436.93 64h1.15M430.93 65.5h1.15M427.93 70.5h1.15M437.43 74h1.15M425.43 79.5h1.15M437.43 79.5h1.15M440.43 61h1.15M438.43 72h1.15M437.43 67h1.15M443.93 69h1.15M432.43 63h1.15M433.93 64.5h1.15M426.93 84h1.15M435.43 77.5h1.15M441.93 73h1.15M432.93 66h1.15M434.43 72.5h1.15M434.93 70.5h1.15M436.43 63h1.15M441.43 62.5h1.15M436.43 66.5h1.15M443.43 65.5h1.15M430.43 71.5h1.15M440.43 62.5h1.15M407.93 64h1.15M413.93 77.5h1.15M413.93 51.5h1.15M412.43 74.5h1.15M408.93 66h1.15M410.93 72.5h1.15M407.93 84h1.15M412.93 65h1.15M417.43 76h1.15M415.93 72h1.15M415.43 57.5h1.15M418.93 77h1.15M410.43 52.5h1.15M411.43 70.5h1.15M421.93 71h1.15M414.93 71h1.15M406.43 65.5h1.15M415.43 75h1.15M418.93 84h1.15M410.93 64.5h1.15M412.43 73.5h1.15M425.43 70.5h1.15M415.43 60h1.15M407.93 85.5h1.15M413.93 82h1.15M418.93 64h1.15M415.93 60.5h1.15M417.93 67.5h1.15M418.93 80.5h1.15M411.43 76h1.15M416.93 64h1.15M415.93 80.5h1.15M415.43 78h1.15M416.43 80.5h1.15M413.93 65.5h1.15M411.93 83h1.15M423.43 64h1.15M410.43 72.5h1.15M419.43 85h1.15M422.93 62h1.15M419.43 64h1.15M420.43 73h1.15M422.43 68h1.15M418.93 57h1.15M409.43 73.5h1.15M415.43 77h1.15M408.43 59h1.15M411.43 79.5h1.15M416.93 66h1.15M418.43 67h1.15M415.93 68.5h1.15M407.43 76.5h1.15M415.43 63h1.15M415.43 62h1.15M414.43 65h1.15M416.43 60h1.15M413.93 65h1.15M409.43 68h1.15M418.43 75.5h1.15M416.43 67.5h1.15M419.93 66h1.15M418.43 52.5h1.15M408.43 62h1.15M420.93 66h1.15M417.43 58.5h1.15M423.43 85h1.15M414.93 62.5h1.15M415.93 66.5h1.15M411.93 54h1.15M412.43 72h1.15M412.93 71h1.15M419.93 62.5h1.15M417.43 67.5h1.15M407.93 71.5h1.15M408.93 78.5h1.15M414.93 70h1.15M419.93 61h1.15M410.43 82h1.15M418.43 72.5h1.15M403.93 69h1.15M409.93 63h1.15M405.93 53h1.15M412.43 72h1.15M411.93 67h1.15M415.43 81h1.15M411.43 69.5h1.15M419.43 57.5h1.15M408.93 64.5h1.15M422.43 64h1.15M407.93 51h1.15M415.93 78.5h1.15M410.43 64.5h1.15M408.93 61.5h1.15M420.43 63.5h1.15M408.93 74h1.15M450.93 57h1.15M461.43 51h1.15M456.43 49.5h1.15M448.93 62.5h1.15M453.93 58h1.15M440.43 63h1.15M459.43 56h1.15M430.93 64.5h1.15M457.43 55.5h1.15M457.43 44h1.15M449.93 60.5h1.15M456.93 50.5h1.15M455.93 56.5h1.15M446.43 65.5h1.15" stroke="#222" stroke-width="1.15" fill="none"/>
<rect x="383" y="21" width="125.5" height="125.5" fill="none" stroke="#111" stroke-width="1.25"/>
<path d="M427.4 21V146.5M383 87.5H508.5" stroke="#111" stroke-width="1.4" fill="none"/>
<path d="M383 146.5v4.2M383 146.5h-4.2M392.44 146.5v2.4M383 137.06h-2.4M397.97 146.5v2.4M383 131.53h-2.4M401.89 146.5v2.4M383 127.61h-2.4M404.93 146.5v2.4M383 124.57h-2.4M407.41 146.5v2.4M383 122.09h-2.4M409.51 146.5v2.4M383 119.99h-2.4M411.33 146.5v2.4M383 118.17h-2.4M412.94 146.5v2.4M383 116.56h-2.4M414.38 146.5v4.2M383 115.12h-4.2M423.82 146.5v2.4M383 105.68h-2.4M429.34 146.5v2.4M383 100.16h-2.4M433.26 146.5v2.4M383 96.24h-2.4M436.31 146.5v2.4M383 93.19h-2.4M438.79 146.5v2.4M383 90.71h-2.4M440.89 146.5v2.4M383 88.61h-2.4M442.71 146.5v2.4M383 86.79h-2.4M444.31 146.5v2.4M383 85.19h-2.4M445.75 146.5v4.2M383 83.75h-4.2M455.19 146.5v2.4M383 74.31h-2.4M460.72 146.5v2.4M383 68.78h-2.4M464.64 146.5v2.4M383 64.86h-2.4M467.68 146.5v2.4M383 61.82h-2.4M470.16 146.5v2.4M383 59.34h-2.4M472.26 146.5v2.4M383 57.24h-2.4M474.08 146.5v2.4M383 55.42h-2.4M475.69 146.5v2.4M383 53.81h-2.4M477.12 146.5v4.2M383 52.38h-4.2M486.57 146.5v2.4M383 42.93h-2.4M492.09 146.5v2.4M383 37.41h-2.4M496.01 146.5v2.4M383 33.49h-2.4M499.06 146.5v2.4M383 30.44h-2.4M501.54 146.5v2.4M383 27.96h-2.4M503.64 146.5v2.4M383 25.86h-2.4M505.46 146.5v2.4M383 24.04h-2.4M507.06 146.5v2.4M383 22.44h-2.4M508.5 146.5v4.2M383 21h-4.2" stroke="#111" stroke-width="1" fill="none"/>
<text x="377.9" y="160.1" font-size="8" stroke="#000" stroke-width="0.45" textLength="12.5" lengthAdjust="spacingAndGlyphs">10<tspan dy="-3.6" dx="0.3">0</tspan></text>
<text x="376" y="152.8" font-size="8" stroke="#000" stroke-width="0.45" textLength="12.5" lengthAdjust="spacingAndGlyphs" transform="rotate(-90 376 152.8)">10<tspan dy="-3.6" dx="0.3">0</tspan></text>
<text x="408.38" y="160.1" font-size="8" stroke="#000" stroke-width="0.45" textLength="12.5" lengthAdjust="spacingAndGlyphs">10<tspan dy="-3.6" dx="0.3">1</tspan></text>
<text x="376" y="121.42" font-size="8" stroke="#000" stroke-width="0.45" textLength="12.5" lengthAdjust="spacingAndGlyphs" transform="rotate(-90 376 121.42)">10<tspan dy="-3.6" dx="0.3">1</tspan></text>
<text x="439.75" y="160.1" font-size="8" stroke="#000" stroke-width="0.45" textLength="12.5" lengthAdjust="spacingAndGlyphs">10<tspan dy="-3.6" dx="0.3">2</tspan></text>
<text x="376" y="90.05" font-size="8" stroke="#000" stroke-width="0.45" textLength="12.5" lengthAdjust="spacingAndGlyphs" transform="rotate(-90 376 90.05)">10<tspan dy="-3.6" dx="0.3">2</tspan></text>
<text x="471.12" y="160.1" font-size="8" stroke="#000" stroke-width="0.45" textLength="12.5" lengthAdjust="spacingAndGlyphs">10<tspan dy="-3.6" dx="0.3">3</tspan></text>
<text x="376" y="58.68" font-size="8" stroke="#000" stroke-width="0.45" textLength="12.5" lengthAdjust="spacingAndGlyphs" transform="rotate(-90 376 58.68)">10<tspan dy="-3.6" dx="0.3">3</tspan></text>
<text x="502.5" y="160.1" font-size="8" stroke="#000" stroke-width="0.45" textLength="12.5" lengthAdjust="spacingAndGlyphs">10<tspan dy="-3.6" dx="0.3">4</tspan></text>
<text x="376" y="27.3" font-size="8" stroke="#000" stroke-width="0.45" textLength="12.5" lengthAdjust="spacingAndGlyphs" transform="rotate(-90 376 27.3)">10<tspan dy="-3.6" dx="0.3">4</tspan></text>
<path d="M382.4 20.6H509.5" stroke="#000" stroke-width="2.8"/>
<text x="380.9" y="14" font-size="18" font-weight="bold" textLength="125.3" lengthAdjust="spacingAndGlyphs">CD4<tspan font-size="12.5" dy="-5">+</tspan><tspan dy="5">CD25</tspan><tspan font-size="12.5" dy="-5.1">+high</tspan></text>
<text x="476.64" y="38.7" font-size="13.8" textLength="27.86" lengthAdjust="spacingAndGlyphs">86%</text>
<text x="361" y="81.41" font-size="15.5" font-weight="bold" textLength="30.42" lengthAdjust="spacingAndGlyphs" transform="rotate(-90 361 81.41)">CD4</text>
<text x="417.71" y="174.6" font-size="16" textLength="44.93" lengthAdjust="spacingAndGlyphs">Foxp3</text>
<path d="M420.93 230h1.15M416.43 228.5h1.15M417.43 233h1.15M423.43 224h1.15M422.43 228.5h1.15M415.93 225.5h1.15M421.43 228h1.15M415.93 227h1.15M416.43 227.5h1.15M421.93 225h1.15M416.93 218.5h1.15M418.93 230.5h1.15M422.93 225h1.15M416.93 226.5h1.15M414.43 228h1.15M415.43 227h1.15M417.93 230h1.15M417.43 235h1.15M418.43 229h1.15M418.93 227h1.15M419.93 228h1.15M413.93 226.5h1.15M421.43 222h1.15M421.93 227.5h1.15M418.43 231.5h1.15M417.93 226h1.15M411.93 226.5h1.15M414.43 230h1.15M417.93 224.5h1.15M420.43 230h1.15M423.43 228h1.15M414.43 228.5h1.15M419.43 230h1.15M413.93 229.5h1.15M419.43 228.5h1.15M413.43 226.5h1.15M417.43 227h1.15M419.93 226h1.15M412.93 221.5h1.15M418.93 225h1.15M417.43 231h1.15M416.43 227.5h1.15M413.93 224.5h1.15M418.93 231h1.15M415.93 227h1.15M418.43 226h1.15M417.93 226.5h1.15M418.93 226h1.15M416.43 223.5h1.15M415.43 223h1.15M416.93 230.5h1.15M414.43 225.5h1.15M415.43 229h1.15M416.93 226.5h1.15M414.93 227h1.15M416.43 225h1.15M420.93 228.5h1.15M416.93 228.5h1.15M423.43 229h1.15M415.93 227.5h1.15M420.43 228.5h1.15M416.93 228h1.15M414.43 227h1.15M416.43 227h1.15M420.93 227h1.15M420.43 227h1.15M413.43 232h1.15M415.93 227.5h1.15M420.43 231.5h1.15M417.93 231.5h1.15M416.43 229.5h1.15M415.43 231h1.15M415.93 229.5h1.15M414.43 232.5h1.15M421.93 226h1.15M417.93 224.5h1.15M416.93 223h1.15M419.43 227h1.15M420.43 227h1.15M416.93 225h1.15M418.93 227h1.15M414.43 223.5h1.15M419.93 227h1.15M417.43 226h1.15M416.43 227.5h1.15M417.93 224h1.15M423.93 229.5h1.15M412.43 228.5h1.15M420.43 225h1.15M413.93 229.5h1.15M415.93 227.5h1.15M421.93 227h1.15M420.93 224.5h1.15M412.93 227h1.15M416.43 229.5h1.15M418.43 221.5h1.15M414.43 226.5h1.15M415.43 226h1.15M416.93 228h1.15M413.93 225h1.15M415.43 231.5h1.15M416.93 223h1.15M418.93 230h1.15M413.43 224.5h1.15M418.93 227.5h1.15M418.93 232.5h1.15M419.43 230.5h1.15M416.43 232h1.15M415.93 229h1.15M412.43 227h1.15M419.43 224.5h1.15M416.43 221h1.15M416.43 223.5h1.15M417.93 226h1.15M415.93 226.5h1.15M416.43 227.5h1.15M416.93 231h1.15M420.43 219.5h1.15M420.93 226.5h1.15M418.43 224.5h1.15M418.93 229h1.15M415.93 224h1.15M418.93 228.5h1.15M415.43 221h1.15M414.93 229h1.15M420.93 224h1.15M415.93 224.5h1.15M418.43 225h1.15M421.93 229h1.15M416.93 226.5h1.15M419.93 226h1.15M416.43 228h1.15M420.43 231.5h1.15M416.43 224h1.15M415.43 227.5h1.15M419.43 219.5h1.15M419.43 228.5h1.15M417.93 223h1.15M417.93 226h1.15M414.93 229.5h1.15M420.93 227.5h1.15M418.93 230.5h1.15M417.43 226h1.15M421.43 225h1.15M416.93 228.5h1.15M416.43 224.5h1.15M420.43 227h1.15M415.93 226h1.15M418.93 230h1.15M417.93 231h1.15M417.43 232.5h1.15M419.93 223.5h1.15M417.43 228.5h1.15M417.43 224.5h1.15M418.93 227h1.15M413.93 224h1.15M416.43 230.5h1.15M417.43 228h1.15M419.93 226.5h1.15M417.43 227h1.15M419.93 225h1.15M418.43 225h1.15M417.93 231h1.15M415.43 229h1.15M417.93 228h1.15M418.93 227.5h1.15M418.93 233h1.15M415.93 224.5h1.15M419.43 228.5h1.15M422.43 225h1.15M419.43 225.5h1.15M416.43 226h1.15M415.43 225h1.15M416.93 227h1.15M417.93 230h1.15M415.43 227.5h1.15M415.43 230h1.15M415.43 226.5h1.15M415.93 231h1.15M414.43 224.5h1.15M416.43 226.5h1.15M415.43 231h1.15M416.43 221.5h1.15M416.93 223.5h1.15M415.93 226h1.15M415.43 226.5h1.15M416.43 229.5h1.15M423.93 224.5h1.15M416.43 231h1.15M421.93 229.5h1.15M416.93 233.5h1.15M417.93 231h1.15M416.43 224h1.15M420.93 224.5h1.15M414.93 228h1.15M415.43 230h1.15M417.93 227h1.15M416.43 232h1.15M420.93 230.5h1.15M414.43 233h1.15M417.93 232.5h1.15M418.93 225.5h1.15M413.43 226h1.15M420.43 225.5h1.15M421.43 223h1.15M419.43 227h1.15M414.43 229h1.15M416.43 226.5h1.15M412.43 225h1.15M415.93 227h1.15M415.43 234h1.15M416.43 228h1.15M416.93 231.5h1.15M418.93 230.5h1.15M413.93 228.5h1.15M417.43 229.5h1.15M415.93 228h1.15M415.43 226.5h1.15M418.43 226h1.15M415.43 227.5h1.15M418.43 228.5h1.15M414.93 226.5h1.15M414.93 225h1.15M423.43 230.5h1.15M419.43 226.5h1.15M419.93 232h1.15M420.43 229.5h1.15M414.93 235h1.15M419.43 230h1.15M418.43 228.5h1.15M416.43 222.5h1.15M421.93 235h1.15M418.93 229.5h1.15M417.43 230h1.15M417.43 227.5h1.15M418.93 222h1.15M420.93 226h1.15M418.93 229h1.15M421.43 232h1.15M414.43 225h1.15M417.93 222.5h1.15M418.93 227h1.15M415.43 230.5h1.15M415.43 225.5h1.15M417.43 230h1.15M416.93 226.5h1.15M417.93 226.5h1.15M412.93 231h1.15M418.93 230.5h1.15M417.93 229h1.15M413.43 224h1.15M412.93 231.5h1.15M415.93 231.5h1.15M418.43 226h1.15M417.43 225h1.15M416.43 228.5h1.15M418.93 226h1.15M413.43 231.5h1.15M414.93 230h1.15M413.93 225h1.15M412.43 230h1.15M418.43 236.5h1.15M421.93 227.5h1.15M412.43 227.5h1.15M417.93 228.5h1.15M417.93 224.5h1.15M416.93 233.5h1.15M415.93 226.5h1.15M414.43 226h1.15M420.43 228h1.15M416.43 226.5h1.15M419.43 225.5h1.15M415.43 227h1.15M410.93 231.5h1.15M415.43 230h1.15M417.43 230.5h1.15M415.93 235h1.15M418.93 226.5h1.15M418.43 221h1.15M414.43 221.5h1.15M416.93 234h1.15M418.43 223h1.15M413.43 229h1.15M418.93 226.5h1.15M420.93 228h1.15M422.43 229.5h1.15M422.43 219h1.15M419.43 229.5h1.15M420.93 229h1.15M418.43 228.5h1.15M417.93 229h1.15M421.43 222h1.15M416.43 223h1.15M415.93 228.5h1.15M417.93 228.5h1.15M419.43 228.5h1.15M416.43 227h1.15M414.93 226.5h1.15M417.43 228.5h1.15M413.43 231.5h1.15M417.43 223h1.15M416.93 229.5h1.15M417.43 226h1.15M415.43 228.5h1.15M417.93 228.5h1.15M416.43 231.5h1.15M412.93 228h1.15M413.43 222h1.15M417.93 230h1.15M416.93 229h1.15M416.93 231h1.15M415.93 229.5h1.15M418.43 222.5h1.15M420.43 225.5h1.15M414.43 226h1.15M419.43 226h1.15M419.43 224.5h1.15M417.93 222h1.15M416.93 231.5h1.15M415.93 228h1.15M412.93 233h1.15M416.93 229h1.15M416.43 224.5h1.15M416.43 226.5h1.15M414.93 227.5h1.15M414.93 226.5h1.15M410.43 225.5h1.15M417.93 228h1.15M416.93 229h1.15M421.43 228h1.15M417.43 227h1.15M418.43 229.5h1.15M411.93 234.5h1.15M419.93 228.5h1.15M415.93 227.5h1.15M415.43 231.5h1.15M415.93 223h1.15M416.93 225h1.15M417.93 228h1.15M415.43 223h1.15M416.43 223.5h1.15M416.93 228h1.15M416.43 228h1.15M416.43 232.5h1.15M412.93 225h1.15M419.93 223.5h1.15M418.93 226.5h1.15M417.43 223.5h1.15M416.43 227h1.15M411.93 228h1.15M416.43 221h1.15M417.93 226.5h1.15M413.43 231.5h1.15M416.93 224h1.15M414.93 228.5h1.15M415.93 230h1.15M414.43 228.5h1.15M418.43 229h1.15M415.43 225h1.15M414.43 228h1.15M412.43 236.5h1.15M416.43 231h1.15M416.43 231.5h1.15M416.43 230.5h1.15M419.93 228h1.15M414.43 229h1.15M417.43 226.5h1.15M416.93 229.5h1.15M412.43 229.5h1.15M420.93 225h1.15M420.43 226h1.15M416.43 226.5h1.15M417.43 225h1.15M415.93 227h1.15M414.93 227.5h1.15M419.93 224.5h1.15M417.93 225h1.15M414.43 228h1.15M416.43 230.5h1.15M418.93 227.5h1.15M415.93 231.5h1.15M413.93 225.5h1.15M418.93 228.5h1.15M418.93 226.5h1.15M418.93 230.5h1.15M412.43 229.5h1.15M419.43 224h1.15M414.93 229h1.15M418.93 227h1.15M413.43 228.5h1.15M416.93 226.5h1.15M419.93 221h1.15M417.43 225.5h1.15M418.43 226.5h1.15M421.43 227.5h1.15M415.93 223h1.15M416.43 227.5h1.15M420.93 228h1.15M417.93 224.5h1.15M417.93 224.5h1.15M413.93 229h1.15M415.93 223.5h1.15M419.93 230.5h1.15M418.43 222.5h1.15M415.43 225h1.15M417.93 237.5h1.15M419.43 227h1.15M415.43 223.5h1.15M415.43 228h1.15M416.43 229h1.15M418.43 224h1.15M419.43 227.5h1.15M420.93 226.5h1.15M416.43 227h1.15M420.43 228.5h1.15M419.93 230h1.15M417.93 234h1.15M416.93 227h1.15M419.93 223.5h1.15M417.93 230.5h1.15M414.93 222h1.15M413.93 231h1.15M423.43 224h1.15M413.93 224h1.15M420.93 229h1.15M418.93 225h1.15M418.93 225h1.15M418.43 225h1.15M414.43 226.5h1.15M418.43 228.5h1.15M415.93 230.5h1.15M413.43 222h1.15M418.93 227h1.15M417.43 226h1.15M418.43 228h1.15M420.43 224.5h1.15M414.43 227.5h1.15M416.93 226.5h1.15M411.93 229h1.15M421.43 228h1.15M420.43 229h1.15M417.93 228.5h1.15M419.93 228.5h1.15M418.93 227h1.15M415.43 228.5h1.15M416.43 229h1.15M411.93 233h1.15M420.43 231.5h1.15M418.43 224h1.15M416.43 224h1.15M418.43 227.5h1.15M417.93 222h1.15M413.93 221.5h1.15M420.93 228.5h1.15M417.43 226.5h1.15M412.93 227h1.15M416.43 225h1.15M419.93 221h1.15M417.93 229.5h1.15M419.43 223h1.15M410.43 232.5h1.15M420.93 226.5h1.15M416.93 228.5h1.15M419.93 227.5h1.15M416.43 228h1.15M418.43 233.5h1.15M417.43 224.5h1.15M421.93 231h1.15M420.93 224h1.15M415.93 223.5h1.15M416.93 231.5h1.15M419.93 227.5h1.15M417.93 229h1.15M416.93 224.5h1.15M415.93 232.5h1.15M414.93 224.5h1.15M418.93 226.5h1.15M416.43 228h1.15M416.93 222.5h1.15M419.93 228h1.15M421.43 229.5h1.15M415.93 226.5h1.15M415.93 221h1.15M419.43 225h1.15M419.93 227.5h1.15M417.43 232h1.15M414.93 233h1.15M416.43 234h1.15M420.43 225.5h1.15M421.93 228h1.15M418.43 226h1.15M417.43 226h1.15M416.43 230h1.15M419.43 231h1.15M420.43 227h1.15M419.43 226.5h1.15M418.93 229h1.15M418.43 225h1.15M414.43 233h1.15M415.43 226h1.15M418.43 226h1.15M418.43 231.5h1.15M413.93 228h1.15M418.93 223h1.15M419.43 231.5h1.15M417.43 229h1.15M416.93 230.5h1.15M416.43 227.5h1.15M415.93 225.5h1.15M420.43 227h1.15M419.93 222.5h1.15M414.43 225h1.15M422.43 230.5h1.15M422.93 225.5h1.15M418.93 228.5h1.15M416.93 229.5h1.15M417.43 229h1.15M413.43 225h1.15M414.93 232.5h1.15M419.93 224.5h1.15M420.43 225.5h1.15M412.93 224.5h1.15M417.43 238.5h1.15M419.43 222h1.15M427.43 243.5h1.15M421.43 223.5h1.15M417.93 230.5h1.15M417.93 226h1.15M416.93 228h1.15M406.93 232.5h1.15M423.43 230.5h1.15M419.93 229h1.15M410.43 235h1.15M420.93 222.5h1.15M412.93 226.5h1.15M412.43 214h1.15M416.43 226h1.15M418.43 238h1.15M413.93 220h1.15M417.43 234.5h1.15M424.43 235.5h1.15M418.43 230h1.15M410.43 236h1.15M421.43 229h1.15M416.93 233h1.15M419.93 233h1.15M419.93 219h1.15M415.43 219h1.15M414.43 229.5h1.15M419.43 225h1.15M425.43 230h1.15M427.43 244h1.15M420.43 224.5h1.15M423.93 227h1.15M414.43 229h1.15M422.93 223.5h1.15M416.93 236h1.15M416.93 236h1.15M423.43 225.5h1.15M412.93 222.5h1.15M423.93 233h1.15M418.43 227h1.15M422.93 226h1.15M410.93 238h1.15M419.43 229.5h1.15M417.43 238h1.15M415.93 241h1.15M414.93 236.5h1.15M411.43 237.5h1.15M413.93 229h1.15M421.43 224h1.15M420.43 229.5h1.15M423.93 235h1.15M418.93 228.5h1.15M413.93 240h1.15M416.93 221.5h1.15M414.43 217.5h1.15M413.93 227.5h1.15M418.93 236h1.15M421.43 217h1.15M415.93 234h1.15M419.43 229.5h1.15M414.43 235h1.15M417.43 228h1.15M417.43 228.5h1.15M419.43 237h1.15M418.43 225.5h1.15M417.43 229h1.15M419.93 234.5h1.15M425.43 234.5h1.15M410.43 225h1.15M412.43 232.5h1.15M428.43 231.5h1.15M415.43 239.5h1.15M420.93 224h1.15M413.93 240.5h1.15M421.43 215h1.15M414.43 234h1.15M411.93 230.5h1.15M413.93 219h1.15M415.43 226.5h1.15M419.43 218h1.15M418.93 227h1.15M410.93 239h1.15M415.93 233h1.15M424.93 231.5h1.15M421.93 230.5h1.15M415.43 231.5h1.15M410.93 234h1.15M421.43 232h1.15M414.93 222h1.15M414.43 228.5h1.15M411.43 244h1.15M414.43 231h1.15M415.93 231h1.15M408.43 224.5h1.15M417.93 229.5h1.15M419.43 226h1.15M421.43 230.5h1.15M417.93 230h1.15M422.43 229h1.15M424.93 229.5h1.15M418.93 229.5h1.15M419.43 232.5h1.15M414.93 235.5h1.15M418.43 224.5h1.15M414.43 225h1.15M418.93 225h1.15M424.93 226h1.15M413.93 224h1.15M417.43 229h1.15M421.93 224h1.15M419.43 236h1.15M416.43 218h1.15M418.93 236.5h1.15M419.43 229.5h1.15M409.43 242h1.15M416.93 222h1.15M416.43 231h1.15M417.93 223.5h1.15M422.43 233.5h1.15M415.93 222h1.15M412.43 238h1.15M418.43 241h1.15M407.93 240.5h1.15M419.93 226h1.15M421.93 224.5h1.15M416.43 233.5h1.15M418.43 231.5h1.15M418.93 236.5h1.15M413.93 217h1.15M413.93 214h1.15M426.43 224h1.15M417.93 232h1.15M414.43 227h1.15M418.93 229.5h1.15M421.43 227.5h1.15M414.93 220.5h1.15M410.43 232.5h1.15M419.43 227h1.15M423.43 210.5h1.15M420.93 221.5h1.15M416.43 228.5h1.15M414.43 228.5h1.15M418.93 246h1.15M417.93 234.5h1.15M421.43 223h1.15M419.93 226.5h1.15M421.93 225h1.15M422.43 223h1.15M415.93 236h1.15M422.43 235h1.15M426.93 235.5h1.15M417.93 236h1.15M413.93 236h1.15M419.43 228.5h1.15M414.43 237.5h1.15M408.93 230h1.15M411.43 228.5h1.15M415.93 224.5h1.15M414.93 232h1.15M426.43 240h1.15M416.93 227h1.15M420.43 223.5h1.15M411.43 237.5h1.15M415.93 240.5h1.15M419.43 219.5h1.15M418.93 233h1.15M417.93 220.5h1.15M410.93 243.5h1.15M405.43 225h1.15M421.43 241.5h1.15M420.93 229h1.15M419.43 237.5h1.15M415.43 239h1.15M418.93 231h1.15M419.93 231.5h1.15M413.93 241h1.15M415.93 228.5h1.15M407.43 220h1.15M420.43 228.5h1.15M417.43 227.5h1.15M420.43 225h1.15M411.43 219.5h1.15M414.43 232.5h1.15M424.43 232.5h1.15M414.93 221h1.15M421.43 232.5h1.15M417.43 234h1.15M420.43 233h1.15M423.93 218.5h1.15M414.93 226.5h1.15M413.43 244h1.15M419.43 232.5h1.15M421.43 227.5h1.15M421.43 228h1.15M421.43 233h1.15M423.93 218.5h1.15M413.93 225h1.15M414.43 233h1.15M422.43 226.5h1.15M422.43 235h1.15M415.43 234.5h1.15M424.43 225.5h1.15M407.93 235h1.15M418.93 234h1.15M420.43 229h1.15M417.93 224.5h1.15M426.43 239h1.15M417.43 224h1.15M419.93 240.5h1.15M417.93 224h1.15M421.93 231h1.15M414.43 229h1.15M418.43 222h1.15M419.43 238.5h1.15M422.43 237.5h1.15M421.43 228.5h1.15M420.43 238h1.15M417.93 233.5h1.15M414.93 230.5h1.15M415.93 223h1.15M419.93 244.5h1.15M410.43 227.5h1.15M418.93 224.5h1.15M418.43 235.5h1.15M410.93 230.5h1.15M420.43 233.5h1.15M425.93 230h1.15M423.43 225h1.15M433.43 214h1.15M437.93 230h1.15M452.93 223h1.15M457.43 218h1.15M431.43 233h1.15M410.43 211.5h1.15" stroke="#222" stroke-width="1.15" fill="none"/>
<rect x="382.5" y="180.5" width="126" height="123.1" fill="none" stroke="#111" stroke-width="1.25"/>
<path d="M426.6 180.5V303.6M382.5 247.5H508.5" stroke="#111" stroke-width="1.4" fill="none"/>
<path d="M382.5 303.6v4.2M382.5 303.6h-4.2M391.98 303.6v2.4M382.5 294.34h-2.4M397.53 303.6v2.4M382.5 288.92h-2.4M401.46 303.6v2.4M382.5 285.07h-2.4M404.52 303.6v2.4M382.5 282.09h-2.4M407.01 303.6v2.4M382.5 279.65h-2.4M409.12 303.6v2.4M382.5 277.59h-2.4M410.95 303.6v2.4M382.5 275.81h-2.4M412.56 303.6v2.4M382.5 274.23h-2.4M414 303.6v4.2M382.5 272.83h-4.2M423.48 303.6v2.4M382.5 263.56h-2.4M429.03 303.6v2.4M382.5 258.14h-2.4M432.96 303.6v2.4M382.5 254.3h-2.4M436.02 303.6v2.4M382.5 251.31h-2.4M438.51 303.6v2.4M382.5 248.88h-2.4M440.62 303.6v2.4M382.5 246.82h-2.4M442.45 303.6v2.4M382.5 245.03h-2.4M444.06 303.6v2.4M382.5 243.46h-2.4M445.5 303.6v4.2M382.5 242.05h-4.2M454.98 303.6v2.4M382.5 232.79h-2.4M460.53 303.6v2.4M382.5 227.37h-2.4M464.46 303.6v2.4M382.5 223.52h-2.4M467.52 303.6v2.4M382.5 220.54h-2.4M470.01 303.6v2.4M382.5 218.1h-2.4M472.12 303.6v2.4M382.5 216.04h-2.4M473.95 303.6v2.4M382.5 214.26h-2.4M475.56 303.6v2.4M382.5 212.68h-2.4M477 303.6v4.2M382.5 211.28h-4.2M486.48 303.6v2.4M382.5 202.01h-2.4M492.03 303.6v2.4M382.5 196.59h-2.4M495.96 303.6v2.4M382.5 192.75h-2.4M499.02 303.6v2.4M382.5 189.76h-2.4M501.51 303.6v2.4M382.5 187.33h-2.4M503.62 303.6v2.4M382.5 185.27h-2.4M505.45 303.6v2.4M382.5 183.48h-2.4M507.06 303.6v2.4M382.5 181.91h-2.4M508.5 303.6v4.2M382.5 180.5h-4.2" stroke="#111" stroke-width="1" fill="none"/>
<text x="377.4" y="317.2" font-size="8" stroke="#000" stroke-width="0.45" textLength="12.5" lengthAdjust="spacingAndGlyphs">10<tspan dy="-3.6" dx="0.3">0</tspan></text>
<text x="375.5" y="309.9" font-size="8" stroke="#000" stroke-width="0.45" textLength="12.5" lengthAdjust="spacingAndGlyphs" transform="rotate(-90 375.5 309.9)">10<tspan dy="-3.6" dx="0.3">0</tspan></text>
<text x="408" y="317.2" font-size="8" stroke="#000" stroke-width="0.45" textLength="12.5" lengthAdjust="spacingAndGlyphs">10<tspan dy="-3.6" dx="0.3">1</tspan></text>
<text x="375.5" y="279.13" font-size="8" stroke="#000" stroke-width="0.45" textLength="12.5" lengthAdjust="spacingAndGlyphs" transform="rotate(-90 375.5 279.13)">10<tspan dy="-3.6" dx="0.3">1</tspan></text>
<text x="439.5" y="317.2" font-size="8" stroke="#000" stroke-width="0.45" textLength="12.5" lengthAdjust="spacingAndGlyphs">10<tspan dy="-3.6" dx="0.3">2</tspan></text>
<text x="375.5" y="248.35" font-size="8" stroke="#000" stroke-width="0.45" textLength="12.5" lengthAdjust="spacingAndGlyphs" transform="rotate(-90 375.5 248.35)">10<tspan dy="-3.6" dx="0.3">2</tspan></text>
<text x="471" y="317.2" font-size="8" stroke="#000" stroke-width="0.45" textLength="12.5" lengthAdjust="spacingAndGlyphs">10<tspan dy="-3.6" dx="0.3">3</tspan></text>
<text x="375.5" y="217.57" font-size="8" stroke="#000" stroke-width="0.45" textLength="12.5" lengthAdjust="spacingAndGlyphs" transform="rotate(-90 375.5 217.57)">10<tspan dy="-3.6" dx="0.3">3</tspan></text>
<text x="502.5" y="317.2" font-size="8" stroke="#000" stroke-width="0.45" textLength="12.5" lengthAdjust="spacingAndGlyphs">10<tspan dy="-3.6" dx="0.3">4</tspan></text>
<text x="375.5" y="186.8" font-size="8" stroke="#000" stroke-width="0.45" textLength="12.5" lengthAdjust="spacingAndGlyphs" transform="rotate(-90 375.5 186.8)">10<tspan dy="-3.6" dx="0.3">4</tspan></text>
<text x="483.7" y="199" font-size="13.8" textLength="20.6" lengthAdjust="spacingAndGlyphs">3%</text>
<text x="361.4" y="291.03" font-size="15.5" font-weight="bold" textLength="31.44" lengthAdjust="spacingAndGlyphs" transform="rotate(-90 361.4 291.03)">CD4</text>
<text x="390.52" y="337.5" font-size="16" textLength="107.03" lengthAdjust="spacingAndGlyphs">Isotype control</text>
<path d="M48.8 406.8H153.4V631.7H42.5M48.8 405.6V631.7" stroke="#000" stroke-width="2.4" fill="none"/>
<path d="M42.3 597.2h7M42.3 562.6h7M42.3 528h7M42.3 493.4h7M42.3 458.8h7M42.3 424.2h7" stroke="#000" stroke-width="2.2" fill="none"/>
<text x="29.73" y="634.8" font-size="15" textLength="9.06" lengthAdjust="spacingAndGlyphs">0</text>
<text x="20.69" y="602.2" font-size="15" textLength="18.12" lengthAdjust="spacingAndGlyphs">10</text>
<text x="20.69" y="567.6" font-size="15" textLength="18.12" lengthAdjust="spacingAndGlyphs">20</text>
<text x="20.69" y="533" font-size="15" textLength="18.12" lengthAdjust="spacingAndGlyphs">30</text>
<text x="20.69" y="498.4" font-size="15" textLength="18.12" lengthAdjust="spacingAndGlyphs">40</text>
<text x="20.69" y="463.8" font-size="15" textLength="18.12" lengthAdjust="spacingAndGlyphs">50</text>
<text x="20.69" y="429.2" font-size="15" textLength="18.12" lengthAdjust="spacingAndGlyphs">60</text>
<rect x="61.3" y="580.8" width="27.4" height="51" fill="#fff" stroke="#000" stroke-width="2.4"/>
<path d="M74.5 580.8V555.8M70.2 555.8H78.8" stroke="#000" stroke-width="2.2" fill="none"/>
<clipPath id="c1"><rect x="88.7" y="451.8" width="26.8" height="180"/></clipPath>
<rect x="88.7" y="451.8" width="26.8" height="180" fill="#fff"/>
<path d="M87.7 447.88l28.8 -22.46M87.7 453.58l28.8 -22.46M87.7 459.28l28.8 -22.46M87.7 464.98l28.8 -22.46M87.7 470.68l28.8 -22.46M87.7 476.38l28.8 -22.46M87.7 482.08l28.8 -22.46M87.7 487.78l28.8 -22.46M87.7 493.48l28.8 -22.46M87.7 499.18l28.8 -22.46M87.7 504.88l28.8 -22.46M87.7 510.58l28.8 -22.46M87.7 516.28l28.8 -22.46M87.7 521.98l28.8 -22.46M87.7 527.68l28.8 -22.46M87.7 533.38l28.8 -22.46M87.7 539.08l28.8 -22.46M87.7 544.78l28.8 -22.46M87.7 550.48l28.8 -22.46M87.7 556.18l28.8 -22.46M87.7 561.88l28.8 -22.46M87.7 567.58l28.8 -22.46M87.7 573.28l28.8 -22.46M87.7 578.98l28.8 -22.46M87.7 584.68l28.8 -22.46M87.7 590.38l28.8 -22.46M87.7 596.08l28.8 -22.46M87.7 601.78l28.8 -22.46M87.7 607.48l28.8 -22.46M87.7 613.18l28.8 -22.46M87.7 618.88l28.8 -22.46M87.7 624.58l28.8 -22.46M87.7 630.28l28.8 -22.46M87.7 635.98l28.8 -22.46M87.7 641.68l28.8 -22.46M87.7 647.38l28.8 -22.46M87.7 653.08l28.8 -22.46M87.7 658.78l28.8 -22.46" stroke="#000" stroke-width="1.5" fill="none" clip-path="url(#c1)"/>
<rect x="88.7" y="451.8" width="26.8" height="180" fill="none" stroke="#000" stroke-width="2.4"/>
<path d="M101.3 451.8V426.3M96.6 426.3H106" stroke="#000" stroke-width="2.2" fill="none"/>
<rect x="115.5" y="535.9" width="27.4" height="95.9" fill="#000"/>
<path d="M128.7 536.6V535M124 535H133.4" stroke="#000" stroke-width="1.5" fill="none"/>
<text x="65.35" y="656.3" font-size="18" textLength="57.9" lengthAdjust="spacingAndGlyphs">IFN-γR</text>
<text x="17" y="643.92" font-size="16.8" textLength="236" lengthAdjust="spacingAndGlyphs" transform="rotate(-90 17 643.92)">(Copies/GAPDH copies) x10</text>
<text x="12" y="401.57" font-size="10.5" transform="rotate(-90 12 401.57)">3</text>
<path d="M183.3 405.1H513.4V632H182.7M187.5 405.1V637" stroke="#000" stroke-width="2.2" fill="none"/>
<path d="M182.7 586.55h5M182.7 541.3h5M182.7 496.05h5M182.7 450.8h5" stroke="#000" stroke-width="2.2" fill="none"/>
<text x="171.43" y="640.3" font-size="15" textLength="9.06" lengthAdjust="spacingAndGlyphs">0</text>
<text x="171.51" y="593.75" font-size="15" textLength="9.06" lengthAdjust="spacingAndGlyphs">5</text>
<text x="162.79" y="548.5" font-size="15" textLength="18.12" lengthAdjust="spacingAndGlyphs">10</text>
<text x="162.87" y="503.25" font-size="15" textLength="18.12" lengthAdjust="spacingAndGlyphs">15</text>
<text x="162.79" y="458" font-size="15" textLength="18.12" lengthAdjust="spacingAndGlyphs">20</text>
<text x="162.87" y="421.3" font-size="15" textLength="18.12" lengthAdjust="spacingAndGlyphs">25</text>
<rect x="199" y="625" width="25.6" height="6.8" fill="#fff" stroke="#000" stroke-width="2.4"/>
<path d="M211.5 624.5V622.3M208 622.3H215" stroke="#000" stroke-width="1.6" fill="none"/>
<clipPath id="c2"><rect x="224.6" y="581.9" width="26.7" height="49.9"/></clipPath>
<rect x="224.6" y="581.9" width="26.7" height="49.9" fill="#fff"/>
<path d="M223.6 581.28l28.7 -22.39M223.6 586.98l28.7 -22.39M223.6 592.68l28.7 -22.39M223.6 598.38l28.7 -22.39M223.6 604.08l28.7 -22.39M223.6 609.78l28.7 -22.39M223.6 615.48l28.7 -22.39M223.6 621.18l28.7 -22.39M223.6 626.88l28.7 -22.39M223.6 632.58l28.7 -22.39M223.6 638.28l28.7 -22.39M223.6 643.98l28.7 -22.39M223.6 649.68l28.7 -22.39M223.6 655.38l28.7 -22.39" stroke="#000" stroke-width="1.5" fill="none" clip-path="url(#c2)"/>
<rect x="224.6" y="581.9" width="26.7" height="49.9" fill="none" stroke="#000" stroke-width="2.4"/>
<path d="M237.8 581.3V578M233.8 578H241.8" stroke="#000" stroke-width="1.8" fill="none"/>
<rect x="251.3" y="627" width="26.2" height="4.8" fill="#000"/>
<rect x="314.3" y="593.8" width="26.2" height="38" fill="#fff" stroke="#000" stroke-width="2.4"/>
<path d="M327.6 593.8V572.5M323.4 572.5H331.8" stroke="#000" stroke-width="2.2" fill="none"/>
<clipPath id="c3"><rect x="340.7" y="448.9" width="26.6" height="182.9"/></clipPath>
<rect x="340.7" y="448.9" width="26.6" height="182.9" fill="#fff"/>
<path d="M339.7 444.48l28.6 -22.31M339.7 450.18l28.6 -22.31M339.7 455.88l28.6 -22.31M339.7 461.58l28.6 -22.31M339.7 467.28l28.6 -22.31M339.7 472.98l28.6 -22.31M339.7 478.68l28.6 -22.31M339.7 484.38l28.6 -22.31M339.7 490.08l28.6 -22.31M339.7 495.78l28.6 -22.31M339.7 501.48l28.6 -22.31M339.7 507.18l28.6 -22.31M339.7 512.88l28.6 -22.31M339.7 518.58l28.6 -22.31M339.7 524.28l28.6 -22.31M339.7 529.98l28.6 -22.31M339.7 535.68l28.6 -22.31M339.7 541.38l28.6 -22.31M339.7 547.08l28.6 -22.31M339.7 552.78l28.6 -22.31M339.7 558.48l28.6 -22.31M339.7 564.18l28.6 -22.31M339.7 569.88l28.6 -22.31M339.7 575.58l28.6 -22.31M339.7 581.28l28.6 -22.31M339.7 586.98l28.6 -22.31M339.7 592.68l28.6 -22.31M339.7 598.38l28.6 -22.31M339.7 604.08l28.6 -22.31M339.7 609.78l28.6 -22.31M339.7 615.48l28.6 -22.31M339.7 621.18l28.6 -22.31M339.7 626.88l28.6 -22.31M339.7 632.58l28.6 -22.31M339.7 638.28l28.6 -22.31M339.7 643.98l28.6 -22.31M339.7 649.68l28.6 -22.31M339.7 655.38l28.6 -22.31" stroke="#000" stroke-width="1.5" fill="none" clip-path="url(#c3)"/>
<rect x="340.7" y="448.9" width="26.6" height="182.9" fill="none" stroke="#000" stroke-width="2.4"/>
<path d="M353.8 448.9V443.4M349.8 443.4H357.8" stroke="#000" stroke-width="1.9" fill="none"/>
<rect x="367.5" y="604.5" width="25.5" height="27.3" fill="#000"/>
<path d="M380 604.5V598.3M375.8 598.3H384.2" stroke="#000" stroke-width="2.2" fill="none"/>
<rect x="474.5" y="538.5" width="28" height="93.3" fill="#000"/>
<text x="214.68" y="656.3" font-size="18" textLength="44.1" lengthAdjust="spacingAndGlyphs">IFN-γ</text>
<text x="337.98" y="655.8" font-size="18" textLength="32.84" lengthAdjust="spacingAndGlyphs">IL-5</text>
<text x="440.76" y="656.4" font-size="18" textLength="58.39" lengthAdjust="spacingAndGlyphs">IL-5Rα</text>
<path d="M52.1 706.5H514.2V902.7H52.1" stroke="#000" stroke-width="2.4" fill="none"/>
<path d="M53.5 705.3V909" stroke="#000" stroke-width="2.9" fill="none"/>
<path d="M50.3 872.2h3M50.3 839.5h3M50.3 806.5h3M50.3 773.3h3M50.3 741h3M50.3 706.8h3M50.1 906h3" stroke="#000" stroke-width="2" fill="none"/>
<text x="28.58" y="909" font-size="14.5" textLength="9.12" lengthAdjust="spacingAndGlyphs">0</text>
<text x="18.88" y="876.3" font-size="14.5" textLength="27.35" lengthAdjust="spacingAndGlyphs">100</text>
<text x="18.88" y="843.5" font-size="14.5" textLength="27.35" lengthAdjust="spacingAndGlyphs">200</text>
<text x="18.88" y="810" font-size="14.5" textLength="27.35" lengthAdjust="spacingAndGlyphs">300</text>
<text x="18.88" y="777.7" font-size="14.5" textLength="27.35" lengthAdjust="spacingAndGlyphs">400</text>
<text x="18.88" y="745.5" font-size="14.5" textLength="27.35" lengthAdjust="spacingAndGlyphs">500</text>
<text x="18.88" y="712.2" font-size="14.5" textLength="27.35" lengthAdjust="spacingAndGlyphs">600</text>
<text x="15" y="810.91" font-size="18" textLength="53.55" lengthAdjust="spacingAndGlyphs" transform="rotate(-90 15 810.91)">CCPM</text>
<rect x="65.9" y="867.3" width="24.2" height="35.4" fill="#fff" stroke="#000" stroke-width="2.4"/>
<path d="M78 867V856.2M75.6 856.2H81" stroke="#000" stroke-width="2.2" fill="none"/>
<clipPath id="c4"><rect x="127.3" y="865.1" width="24.8" height="37.6"/></clipPath>
<rect x="127.3" y="865.1" width="24.8" height="37.6" fill="#fff"/>
<path d="M126.3 863.58l26.8 -20.9M126.3 869.28l26.8 -20.9M126.3 874.98l26.8 -20.9M126.3 880.68l26.8 -20.9M126.3 886.38l26.8 -20.9M126.3 892.08l26.8 -20.9M126.3 897.78l26.8 -20.9M126.3 903.48l26.8 -20.9M126.3 909.18l26.8 -20.9M126.3 914.88l26.8 -20.9M126.3 920.58l26.8 -20.9M126.3 926.28l26.8 -20.9" stroke="#000" stroke-width="1.5" fill="none" clip-path="url(#c4)"/>
<rect x="127.3" y="865.1" width="24.8" height="37.6" fill="none" stroke="#000" stroke-width="2.4"/>
<path d="M138.8 865V851.8M136.3 851.8H141.6" stroke="#000" stroke-width="2.2" fill="none"/>
<rect x="152.2" y="882.8" width="23.8" height="19.9" fill="#fff" stroke="#000" stroke-width="2.4"/>
<path d="M162.1 887h1.6v1.6h-1.6zM155.4 893.9h1.6v1.6h-1.6zM169.1 893.9h1.6v1.6h-1.6zM162.1 900.5h1.6v1.6h-1.6z" fill="#000"/>
<path d="M164.5 883.3V876M161.6 876H167.1" stroke="#000" stroke-width="2.2" fill="none"/>
<rect x="175.7" y="872.9" width="27" height="29.8" fill="#000"/>
<path d="M189.7 873V864.7M187.1 864.7H192.3" stroke="#000" stroke-width="2.2" fill="none"/>
<text x="212.76" y="895" font-size="13.8" textLength="20.65" lengthAdjust="spacingAndGlyphs">ND</text>
<clipPath id="c5"><rect x="265.5" y="868.9" width="24.5" height="33.8"/></clipPath>
<rect x="265.5" y="868.9" width="24.5" height="33.8" fill="#fff"/>
<path d="M264.5 869.28l26.5 -20.67M264.5 874.98l26.5 -20.67M264.5 880.68l26.5 -20.67M264.5 886.38l26.5 -20.67M264.5 892.08l26.5 -20.67M264.5 897.78l26.5 -20.67M264.5 903.48l26.5 -20.67M264.5 909.18l26.5 -20.67M264.5 914.88l26.5 -20.67M264.5 920.58l26.5 -20.67M264.5 926.28l26.5 -20.67" stroke="#000" stroke-width="1.5" fill="none" clip-path="url(#c5)"/>
<rect x="265.5" y="868.9" width="24.5" height="33.8" fill="none" stroke="#000" stroke-width="2.4"/>
<path d="M278.6 868.7V852.4M275.9 852.4H281" stroke="#000" stroke-width="2.2" fill="none"/>
<rect x="290" y="877.4" width="26" height="25.3" fill="#fff" stroke="#000" stroke-width="2.4"/>
<path d="M303.85 880.4h1.6v1.6h-1.6zM297.1 887.2h1.6v1.6h-1.6zM310.6 887.2h1.6v1.6h-1.6zM303.85 893.8h1.6v1.6h-1.6zM297.1 900.6h1.6v1.6h-1.6zM310.6 900.6h1.6v1.6h-1.6z" fill="#000"/>
<path d="M301 877.6V864.9M298.3 864.9H303.7" stroke="#000" stroke-width="2.2" fill="none"/>
<rect x="315.1" y="810.9" width="27.6" height="91.8" fill="#000"/>
<path d="M326.9 811V740.3M325.9 740.3H332.4" stroke="#000" stroke-width="2.1" fill="none"/>
<rect x="343.9" y="853.4" width="22.9" height="49.3" fill="#dedede" stroke="#000" stroke-width="2.4"/>
<path d="M355.1 854V800.3M352.1 800.3H357.9" stroke="#000" stroke-width="2.2" fill="none"/>
<text x="327.6" y="732" font-size="18.5" text-anchor="middle" style="font-family:'Liberation Serif','DejaVu Serif',serif">*</text>
<clipPath id="c6"><rect x="404.4" y="848.9" width="24.4" height="53.8"/></clipPath>
<rect x="404.4" y="848.9" width="24.4" height="53.8" fill="#fff"/>
<path d="M403.4 846.48l26.4 -20.59M403.4 852.18l26.4 -20.59M403.4 857.88l26.4 -20.59M403.4 863.58l26.4 -20.59M403.4 869.28l26.4 -20.59M403.4 874.98l26.4 -20.59M403.4 880.68l26.4 -20.59M403.4 886.38l26.4 -20.59M403.4 892.08l26.4 -20.59M403.4 897.78l26.4 -20.59M403.4 903.48l26.4 -20.59M403.4 909.18l26.4 -20.59M403.4 914.88l26.4 -20.59M403.4 920.58l26.4 -20.59M403.4 926.28l26.4 -20.59" stroke="#000" stroke-width="1.5" fill="none" clip-path="url(#c6)"/>
<rect x="404.4" y="848.9" width="24.4" height="53.8" fill="none" stroke="#000" stroke-width="2.4"/>
<path d="M415.7 848.5V819.2M413 819.2H418.1" stroke="#000" stroke-width="2.2" fill="none"/>
<rect x="428.8" y="869.9" width="23.4" height="32.8" fill="#fff" stroke="#000" stroke-width="2.4"/>
<path d="M431.8 873.5h1.6v1.6h-1.6zM445.4 873.5h1.6v1.6h-1.6zM438.5 880.4h1.6v1.6h-1.6zM431.8 887h1.6v1.6h-1.6zM445.4 887h1.6v1.6h-1.6zM438.5 893.9h1.6v1.6h-1.6zM431.8 900.5h1.6v1.6h-1.6zM445.4 900.5h1.6v1.6h-1.6z" fill="#000"/>
<path d="M441 870V841.2M438 841.2H443.5" stroke="#000" stroke-width="2.2" fill="none"/>
<rect x="451.7" y="852.8" width="27.7" height="49.9" fill="#000"/>
<path d="M466.3 853.3V816.3M463.2 816.3H469.2" stroke="#000" stroke-width="2.2" fill="none"/>
<rect x="480.2" y="861.2" width="23.1" height="41.5" fill="#dedede" stroke="#000" stroke-width="2.4"/>
<path d="M491.6 861.4V834.6M488.9 834.6H494.7" stroke="#000" stroke-width="2.2" fill="none"/>
<text x="63.67" y="923.8" font-size="18" textLength="41.55" lengthAdjust="spacingAndGlyphs">Cells</text>
<text x="62.78" y="946.2" font-size="18" textLength="44.18" lengthAdjust="spacingAndGlyphs">alone</text>
<text x="167" y="923.6" font-size="18" textLength="18.45" lengthAdjust="spacingAndGlyphs">vs</text>
<text x="137.96" y="945.6" font-size="18" textLength="74.94" lengthAdjust="spacingAndGlyphs">Self APC</text>
<text x="269.8" y="925.6" font-size="18" textLength="88.25" lengthAdjust="spacingAndGlyphs">vs Specific</text>
<text x="270.75" y="944.4" font-size="18" textLength="90.43" lengthAdjust="spacingAndGlyphs">donor APC</text>
<text x="443.5" y="924.8" font-size="18" textLength="18.34" lengthAdjust="spacingAndGlyphs">vs</text>
<text x="389.43" y="944.2" font-size="18" textLength="131.59" lengthAdjust="spacingAndGlyphs">Third party APC</text>
</svg></body></html>
